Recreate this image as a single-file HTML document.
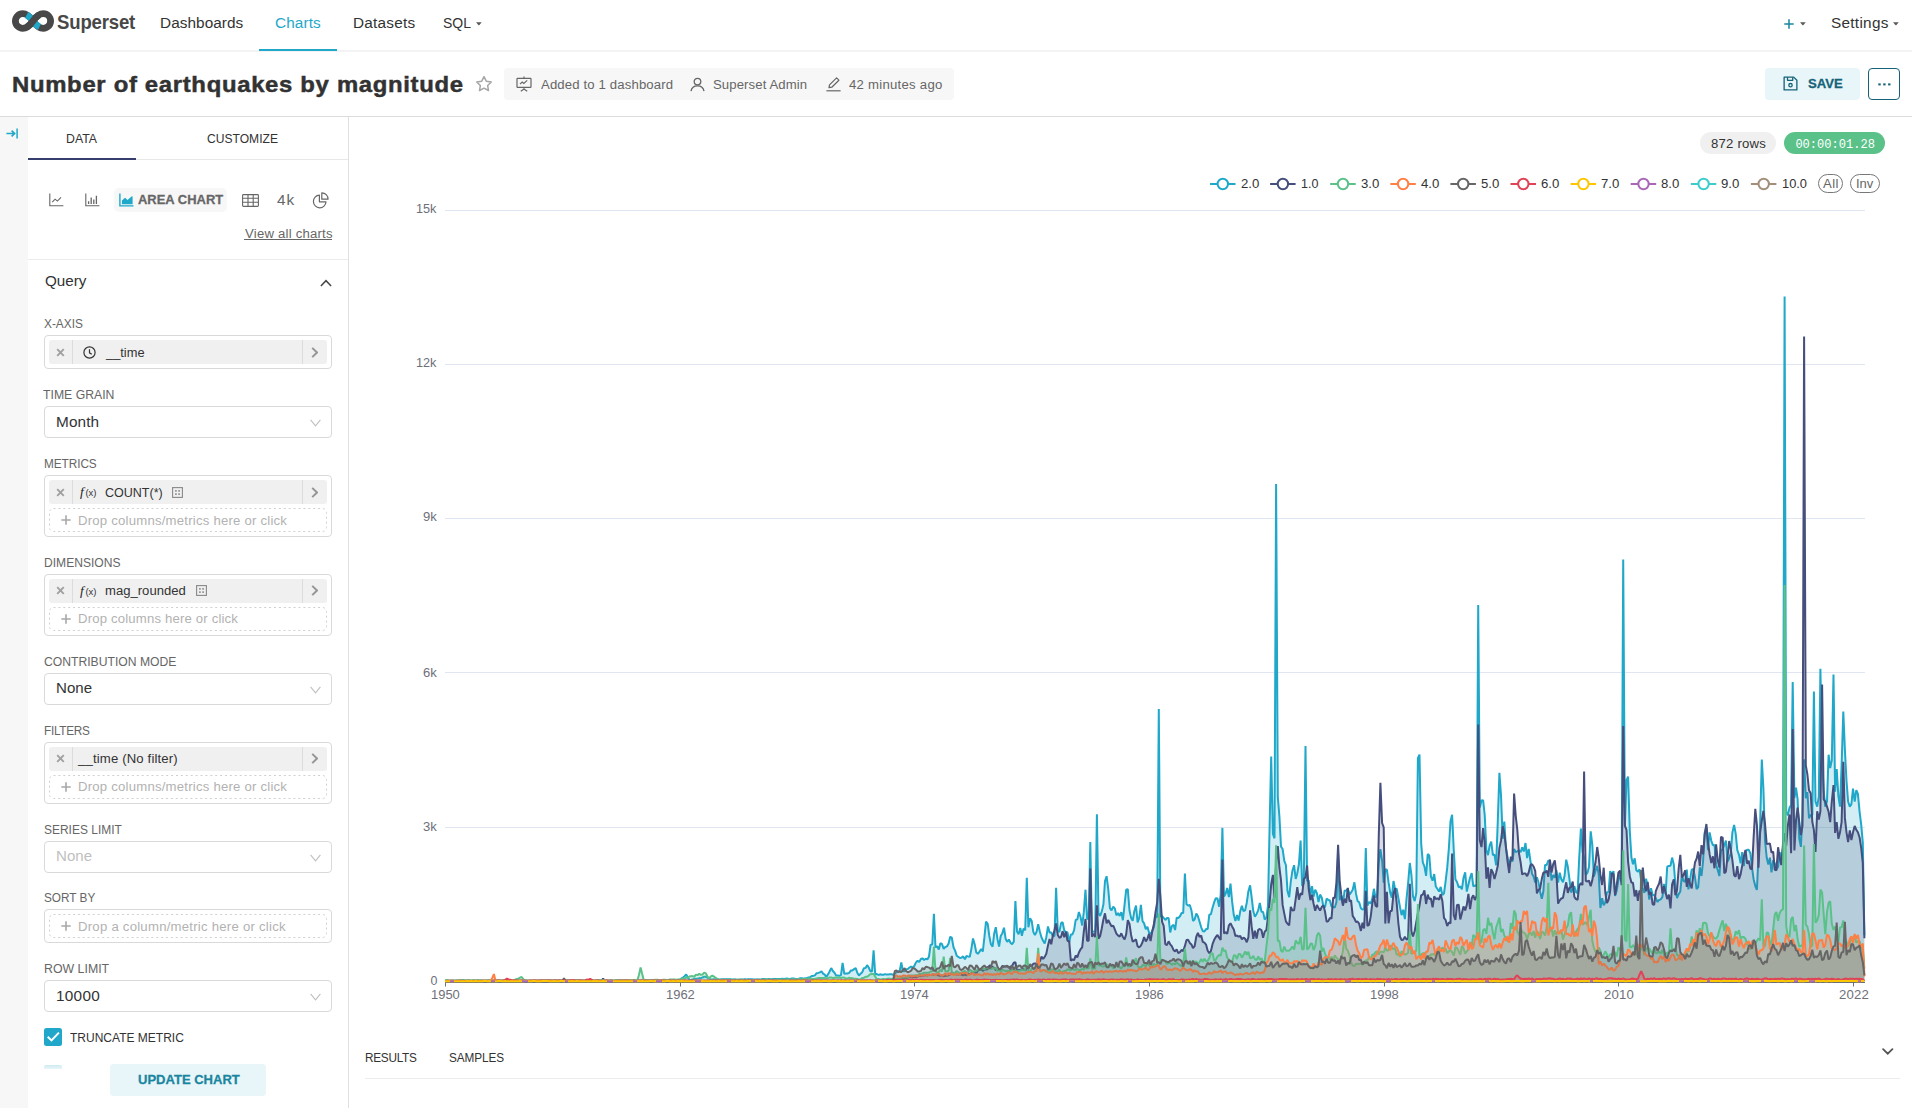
<!DOCTYPE html>
<html><head><meta charset="utf-8"><title>Explore</title>
<style>
*{box-sizing:border-box;margin:0;padding:0}
html,body{width:1912px;height:1108px;overflow:hidden;background:#fff}
body{font-family:"Liberation Sans",sans-serif;color:#333;position:relative;font-size:14px}
.abs{position:absolute}
.t{position:absolute;white-space:nowrap;line-height:1}
/* navbar */
#nav{position:absolute;left:0;top:0;width:1912px;height:52px;background:#fff;border-bottom:2px solid #f3f3f3}
.nv{position:absolute;top:14px;font-size:15.2px;color:#333;letter-spacing:.35px;white-space:nowrap;line-height:18px}
/* title row */
#hdr{position:absolute;left:0;top:52px;width:1912px;height:65px;border-bottom:1px solid #dcdcdc;background:#fff}
/* left */
#strip{position:absolute;left:0;top:117px;width:28px;height:991px;background:#f7f7f7}
#panel{position:absolute;left:28px;top:117px;width:321px;height:991px;border-right:1px solid #e0e0e0;background:#fff}
.lbl{position:absolute;left:44px;font-size:12.4px;color:#666;letter-spacing:.25px;white-space:nowrap;line-height:14px}
.box{position:absolute;left:44px;width:288px;border:1px solid #d9d9d9;border-radius:4px;background:#fff}
.pill{position:absolute;left:49px;width:278px;height:24px;background:#f0f0f0;border-radius:3px}
.pill .x{position:absolute;left:0;top:0;width:24px;height:24px;border-right:1px solid #dcdcdc}
.pill .ar{position:absolute;right:0;top:0;width:25px;height:24px;border-left:1px solid #dcdcdc}
.pill .tx{position:absolute;top:5px;font-size:12.6px;color:#333;letter-spacing:.3px;white-space:nowrap;line-height:14px}
.drop{position:absolute;left:49px;width:278px;height:24px;border:1px dashed #d4d4d4;border-radius:4px}
.drop .tx{position:absolute;left:28px;top:5px;font-size:12.6px;color:#b2b2b2;letter-spacing:.28px;white-space:nowrap;line-height:14px}
.sel .v{position:absolute;left:12px;top:7px;font-size:14.6px;color:#333;letter-spacing:.3px;line-height:17px;white-space:nowrap}
</style></head><body>
<div id="nav"></div>
<!-- logo -->
<svg class="abs" style="left:11.600px;top:10.100px" width="42" height="22" viewBox="0 0 42 22">
<path d="M21,11 C17.8,6.4 15,3.7 10.7,3.7 A7.3,7.3 0 1 0 10.7,18.3 C15,18.3 17.8,15.6 21,11 C24.2,6.4 27,3.7 31.3,3.7 A7.3,7.3 0 1 1 31.3,18.3 C27,18.3 24.2,15.6 21,11 Z" fill="none" stroke="#484848" stroke-width="6.800"/>
<path d="M14.6,4.9 C17.3,6.3 19.2,8.4 21,11 C22.8,13.6 24.7,15.7 27.4,17.1" fill="none" stroke="#20A7C9" stroke-width="6.800"/>
<path d="M15.2,16.8 C17.5,15.4 19.2,13.6 21,11 C22.8,8.4 24.5,6.6 26.8,5.2" fill="none" stroke="#484848" stroke-width="6.800"/>
</svg>
<div class="t" style="left:57px;top:11.050px;font-size:21px;line-height:22px;color:#484848;font-weight:700;letter-spacing:-.2px;transform:scaleX(.885);transform-origin:0 0">Superset</div>
<div class="abs" style="left:259px;top:48.700px;width:78px;height:2.200px;background:#1FA8C9"></div>
<svg class="abs" style="left:475.9px;top:22.100px" width="5.800" height="3.600" viewBox="0 0 7 4"><path d="M.4 0H6.600Q7 .1 6.700 .5L3.900 3.700Q3.500 4.100 3.100 3.700L.3 .5Q0 .1 .4 0Z" fill="#5a5a5a"/></svg>
<svg class="abs" style="left:1800.4px;top:22.100px" width="5.800" height="3.600" viewBox="0 0 7 4"><path d="M.4 0H6.600Q7 .1 6.700 .5L3.900 3.700Q3.500 4.100 3.100 3.700L.3 .5Q0 .1 .4 0Z" fill="#5a5a5a"/></svg>
<svg class="abs" style="left:1893.1px;top:22.100px" width="5.800" height="3.600" viewBox="0 0 7 4"><path d="M.4 0H6.600Q7 .1 6.700 .5L3.900 3.700Q3.500 4.100 3.100 3.700L.3 .5Q0 .1 .4 0Z" fill="#5a5a5a"/></svg>
<svg class="abs" style="left:1783.5px;top:18.5px" width="10" height="10" viewBox="0 0 10 10"><path d="M5 .3V9.7M.3 5H9.7" stroke="#1985A0" stroke-width="1.5"/></svg>

<div id="hdr"></div>
<!-- star -->
<svg class="abs" style="left:475px;top:74.900px" width="18" height="17" viewBox="0 0 18 17"><path d="M9 1.6l2.25 4.6 5.05.73-3.65 3.57.86 5.03L9 13.15 4.49 15.53l.86-5.03L1.7 6.93l5.05-.73z" fill="none" stroke="#a6a6a6" stroke-width="1.5" stroke-linejoin="round"/></svg>
<div class="abs" style="left:504px;top:68px;width:450px;height:32px;background:#f7f7f7;border-radius:4px"></div>
<!-- dashboard icon -->
<svg class="abs" style="left:516px;top:76px" width="16" height="16" viewBox="0 0 16 16" fill="none" stroke="#666" stroke-width="1.2"><path d="M8 .6V2.4"/><rect x="1" y="2.4" width="14" height="9" rx=".6"/><path d="M8 11.4V13M4.8 15.2L8 13l3.2 2.200M4 8.200l2.200-2.200 1.600 1.400 3.400-3"/></svg>
<!-- user -->
<svg class="abs" style="left:690px;top:77px" width="15" height="15" viewBox="0 0 15 15" fill="none" stroke="#666" stroke-width="1.3"><circle cx="7.500" cy="4.600" r="3.300"/><path d="M1 14.200c.6-3.600 3.300-5.400 6.500-5.400s5.900 1.800 6.500 5.400"/></svg>
<!-- pencil -->
<svg class="abs" style="left:825.5px;top:77px" width="15" height="15" viewBox="0 0 15 15" fill="none" stroke="#666" stroke-width="1.2"><path d="M.4 13.800H14.600"/><path d="M3 10.600l.5-2.700L10.600.900l2.300 2.300-7.100 7z" stroke-linejoin="round"/></svg>
<!-- save button -->
<div class="abs" style="left:1765px;top:68px;width:95px;height:32px;background:#e9f6f9;border-radius:4px"></div>
<svg class="abs" style="left:1783.400px;top:75.500px" width="15" height="15" viewBox="0 0 16 16" fill="none" stroke="#156378" stroke-width="1.4" stroke-linejoin="round"><path d="M1.2 1.200H11.400L14.800 4.600V14.800H1.200Z"/><path d="M4.800 1.400V4.600H10.400V1.400"/><circle cx="8" cy="9.800" r="1.800"/></svg>
<div class="abs" style="left:1868px;top:68px;width:32px;height:32px;border:1.5px solid #156378;border-radius:4px;background:#fff"></div>
<svg class="abs" style="left:1877.5px;top:82.5px" width="13" height="3" viewBox="0 0 13 3" fill="#156378"><rect x=".3" y=".4" width="2.400" height="2"/><rect x="5.200" y=".4" width="2.400" height="2"/><rect x="10.100" y=".4" width="2.400" height="2"/></svg>

<div id="strip"></div>
<div id="panel"></div>
<!-- collapse icon -->
<svg class="abs" style="left:5.500px;top:127.500px" width="13" height="11" viewBox="0 0 13 11" fill="none" stroke="#1FA8C9" stroke-width="1.300"><path d="M.4 5.500H8.400M5.600 2.600L8.600 5.500 5.600 8.400" stroke-width="1.700"/><path d="M11.100 .4V10.600" stroke-width="1.500"/></svg>
<!-- tabs -->
<div class="abs" style="left:28px;top:159px;width:320px;height:1px;background:#e8e8e8"></div>
<div class="abs" style="left:28px;top:158px;width:108px;height:2px;background:#363e6e"></div>
<!-- viz type row -->
<svg class="abs" style="left:48.500px;top:193px" width="15" height="14" viewBox="0 0 15 14" fill="none" stroke="#666" stroke-width="1.100"><path d="M.8 .6V12.800H14.400"/><path d="M3.200 9.200l2.900-3 2.300 1.900L12 4.300"/></svg>
<svg class="abs" style="left:84.500px;top:193px" width="15" height="14" viewBox="0 0 15 14" fill="none" stroke="#666" stroke-width="1.100"><path d="M.8 .6V12.800H14.400"/><path d="M3.600 11V8.200M6.200 11V4.400M8.800 11V6.400M11.400 11V2.800" stroke-width="1.300"/></svg>
<div class="abs" style="left:114px;top:188px;width:113px;height:24px;background:#f7f7f7;border-radius:5px"></div>
<svg class="abs" style="left:118.500px;top:193px" width="15" height="14" viewBox="0 0 15 14"><path d="M.9 .5V12.900H14.500" fill="none" stroke="#1FA8C9" stroke-width="1.400"/><path d="M2.900 11.200V7.400L6 4.800l2.600 2.300 4.200-3.900.8.300v7.700z" fill="#1FA8C9"/></svg>
<svg class="abs" style="left:241.500px;top:193.500px" width="17" height="13" viewBox="0 0 17 13" fill="none" stroke="#666" stroke-width="1.100"><rect x=".6" y=".6" width="15.800" height="11.800" rx=".8"/><path d="M.6 4.200H16.400M.6 8.200H16.400M6 .6V12.400M11.200 .6V12.400"/></svg>
<svg class="abs" style="left:312px;top:192px" width="17" height="17" viewBox="0 0 17 17" fill="none" stroke="#666" stroke-width="1.200"><path d="M7.400 3.200A6.300 6.300 0 1 0 14 9.800H7.400Z" stroke-linejoin="round"/><path d="M9.800 .8A6.200 6.200 0 0 1 16 7.200H9.800Z" stroke-linejoin="round"/></svg>
<div class="abs" style="left:244px;top:239px;width:88px;height:1px;background:#666"></div>
<div class="abs" style="left:28px;top:259px;width:320px;height:1px;background:#ececec"></div>
<!-- Query chevron -->
<svg class="abs" style="left:319.500px;top:278.500px" width="12" height="8" viewBox="0 0 12 8" fill="none" stroke="#444" stroke-width="1.500"><path d="M.9 7L6 1.700 11.100 7"/></svg>

<!-- X-AXIS -->
<div class="box" style="top:335px;height:34px"></div>
<div class="pill" style="top:340px"><div class="x"></div><div class="ar"></div></div>
<svg class="abs" style="left:82.500px;top:346px" width="13" height="13" viewBox="0 0 13 13" fill="none" stroke="#333" stroke-width="1.200"><circle cx="6.500" cy="6.500" r="5.600"/><path d="M6.500 3.200V6.800L8.800 8.200"/></svg>
<!-- TIME GRAIN -->
<div class="box" style="top:406px;height:32px"></div>
<!-- METRICS -->
<div class="box" style="top:475px;height:62px"></div>
<div class="pill" style="top:480px"><div class="x"></div><div class="ar"></div></div>
<svg class="abs" style="left:49px;top:508px" width="278" height="24" viewBox="0 0 278 24"><rect x=".5" y=".5" width="277" height="23" rx="4" fill="none" stroke="#d0d0d0" stroke-dasharray="2 2.900"/></svg>
<!-- DIMENSIONS -->
<div class="box" style="top:574px;height:62px"></div>
<div class="pill" style="top:579px"><div class="x"></div><div class="ar"></div></div>
<svg class="abs" style="left:49px;top:607px" width="278" height="24" viewBox="0 0 278 24"><rect x=".5" y=".5" width="277" height="23" rx="4" fill="none" stroke="#d0d0d0" stroke-dasharray="2 2.900"/></svg>
<!-- CONTRIB -->
<div class="box" style="top:673px;height:32px"></div>
<!-- FILTERS -->
<div class="box" style="top:742px;height:62px"></div>
<div class="pill" style="top:747px"><div class="x"></div><div class="ar"></div></div>
<svg class="abs" style="left:49px;top:775px" width="278" height="24" viewBox="0 0 278 24"><rect x=".5" y=".5" width="277" height="23" rx="4" fill="none" stroke="#d0d0d0" stroke-dasharray="2 2.900"/></svg>
<!-- SERIES LIMIT -->
<div class="box" style="top:841px;height:32px"></div>
<!-- SORT BY -->
<div class="box" style="top:909px;height:34px"></div>
<svg class="abs" style="left:49px;top:914px" width="278" height="24" viewBox="0 0 278 24"><rect x=".5" y=".5" width="277" height="23" rx="4" fill="none" stroke="#d0d0d0" stroke-dasharray="2 2.900"/></svg>
<!-- ROW LIMIT -->
<div class="box" style="top:980px;height:32px"></div>
<!-- checkbox -->
<div class="abs" style="left:44px;top:1028px;width:18px;height:18px;background:#20A7C9;border-radius:2.500px"></div>
<svg class="abs" style="left:44px;top:1028px" width="18" height="18" viewBox="0 0 18 18" fill="none" stroke="#fff" stroke-width="2"><path d="M3.700 8.700L7.500 12.400 14.900 4.600"/></svg>
<div class="abs" style="left:44px;top:1065px;width:18px;height:4px;background:linear-gradient(#cdeaf2,#eaf6fa);border-radius:2px 2px 0 0"></div>
<div class="abs" style="left:110px;top:1064px;width:156px;height:32px;background:#e9f6f9;border-radius:4px"></div>

<svg class="abs" style="left:56px;top:347.5px" width="9" height="9" viewBox="0 0 9 9" fill="none" stroke="#a0a0a0" stroke-width="1.900"><path d="M1.200 1.200L7.800 7.800M7.800 1.200L1.200 7.800"/></svg>
<svg class="abs" style="left:311px;top:346.5px" width="7" height="11" viewBox="0 0 7 11" fill="none" stroke="#959595" stroke-width="2"><path d="M1.200 .9L6 5.500 1.200 10.100"/></svg>
<svg class="abs" style="left:56px;top:487.5px" width="9" height="9" viewBox="0 0 9 9" fill="none" stroke="#a0a0a0" stroke-width="1.900"><path d="M1.200 1.200L7.800 7.800M7.800 1.200L1.200 7.800"/></svg>
<svg class="abs" style="left:311px;top:486.5px" width="7" height="11" viewBox="0 0 7 11" fill="none" stroke="#959595" stroke-width="2"><path d="M1.200 .9L6 5.500 1.200 10.100"/></svg>
<svg class="abs" style="left:56px;top:586.0px" width="9" height="9" viewBox="0 0 9 9" fill="none" stroke="#a0a0a0" stroke-width="1.900"><path d="M1.200 1.200L7.800 7.800M7.800 1.200L1.200 7.800"/></svg>
<svg class="abs" style="left:311px;top:585.0px" width="7" height="11" viewBox="0 0 7 11" fill="none" stroke="#959595" stroke-width="2"><path d="M1.200 .9L6 5.500 1.200 10.100"/></svg>
<svg class="abs" style="left:56px;top:754.0px" width="9" height="9" viewBox="0 0 9 9" fill="none" stroke="#a0a0a0" stroke-width="1.900"><path d="M1.200 1.200L7.800 7.800M7.800 1.200L1.200 7.800"/></svg>
<svg class="abs" style="left:311px;top:753.0px" width="7" height="11" viewBox="0 0 7 11" fill="none" stroke="#959595" stroke-width="2"><path d="M1.200 .9L6 5.500 1.200 10.100"/></svg>
<svg class="abs" style="left:61px;top:515.0px" width="10" height="10" viewBox="0 0 10 10" fill="none" stroke="#a8a8a8" stroke-width="1.600"><path d="M5 .3V9.700M.3 5H9.700"/></svg>
<svg class="abs" style="left:61px;top:614.0px" width="10" height="10" viewBox="0 0 10 10" fill="none" stroke="#a8a8a8" stroke-width="1.600"><path d="M5 .3V9.700M.3 5H9.700"/></svg>
<svg class="abs" style="left:61px;top:782.0px" width="10" height="10" viewBox="0 0 10 10" fill="none" stroke="#a8a8a8" stroke-width="1.600"><path d="M5 .3V9.700M.3 5H9.700"/></svg>
<svg class="abs" style="left:61px;top:921.0px" width="10" height="10" viewBox="0 0 10 10" fill="none" stroke="#a8a8a8" stroke-width="1.600"><path d="M5 .3V9.700M.3 5H9.700"/></svg>
<div class="t" style="left:80px;top:484.3px;font-family:'Liberation Serif',serif;font-style:italic;font-size:13.500px;line-height:15px;color:#222">f</div><div class="t" style="left:85.500px;top:488.2px;font-size:9.500px;line-height:10px;color:#333;letter-spacing:-.1px">(x)</div>
<div class="t" style="left:80px;top:582.8px;font-family:'Liberation Serif',serif;font-style:italic;font-size:13.500px;line-height:15px;color:#222">f</div><div class="t" style="left:85.500px;top:586.7px;font-size:9.500px;line-height:10px;color:#333;letter-spacing:-.1px">(x)</div>
<svg class="abs" style="left:171.5px;top:486.5px" width="11" height="11" viewBox="0 0 11 11"><rect x=".6" y=".6" width="9.800" height="9.800" fill="none" stroke="#888" stroke-width="1.100"/><path d="M3 3h1.800v1.800H3zM6.200 3H8v1.800H6.200zM3 6.200h1.800V8H3zM6.200 6.200H8V8H6.200z" fill="#999"/></svg>
<svg class="abs" style="left:195.7px;top:585.0px" width="11" height="11" viewBox="0 0 11 11"><rect x=".6" y=".6" width="9.800" height="9.800" fill="none" stroke="#888" stroke-width="1.100"/><path d="M3 3h1.800v1.800H3zM6.200 3H8v1.800H6.200zM3 6.200h1.800V8H3zM6.200 6.200H8V8H6.200z" fill="#999"/></svg>
<svg class="abs" style="left:309.500px;top:419.0px" width="11" height="8" viewBox="0 0 11 8" fill="none" stroke="#bfbfbf" stroke-width="1.100"><path d="M.6 .8L5.500 6.800 10.400 .8"/></svg>
<svg class="abs" style="left:309.500px;top:686.0px" width="11" height="8" viewBox="0 0 11 8" fill="none" stroke="#bfbfbf" stroke-width="1.100"><path d="M.6 .8L5.500 6.800 10.400 .8"/></svg>
<svg class="abs" style="left:309.500px;top:854.0px" width="11" height="8" viewBox="0 0 11 8" fill="none" stroke="#bfbfbf" stroke-width="1.100"><path d="M.6 .8L5.500 6.800 10.400 .8"/></svg>
<svg class="abs" style="left:309.500px;top:993.0px" width="11" height="8" viewBox="0 0 11 8" fill="none" stroke="#bfbfbf" stroke-width="1.100"><path d="M.6 .8L5.500 6.800 10.400 .8"/></svg>
<!-- chart area -->
<div class="abs" style="left:1700px;top:132px;width:76px;height:22px;background:#f0f0f0;border-radius:11px"></div>
<div class="abs" style="left:1784px;top:132px;width:101px;height:22px;background:#5AC189;border-radius:11px"></div>
<svg class="abs" style="left:0;top:0" width="1912" height="1108" viewBox="0 0 1912 1108">
<path d="M445 210.5 H1865" stroke="#e0e6f1" stroke-width="1" fill="none"/>
<path d="M445 364.5 H1865" stroke="#e0e6f1" stroke-width="1" fill="none"/>
<path d="M445 518.5 H1865" stroke="#e0e6f1" stroke-width="1" fill="none"/>
<path d="M445 672.5 H1865" stroke="#e0e6f1" stroke-width="1" fill="none"/>
<path d="M445 827.5 H1865" stroke="#e0e6f1" stroke-width="1" fill="none"/>
<path d="M445 982.5 H1865" stroke="#6e7079" stroke-width="1" fill="none"/>
<path d="M445.5 982 V986.500" stroke="#6e7079" stroke-width="1" fill="none"/>
<path d="M680.5 982 V986.500" stroke="#6e7079" stroke-width="1" fill="none"/>
<path d="M914.5 982 V986.500" stroke="#6e7079" stroke-width="1" fill="none"/>
<path d="M1149.5 982 V986.500" stroke="#6e7079" stroke-width="1" fill="none"/>
<path d="M1384.5 982 V986.500" stroke="#6e7079" stroke-width="1" fill="none"/>
<path d="M1618.5 982 V986.500" stroke="#6e7079" stroke-width="1" fill="none"/>
<path d="M1853.5 982 V986.500" stroke="#6e7079" stroke-width="1" fill="none"/>
<g stroke-linejoin="bevel" fill="none" stroke-width="2">
<path d="M445.0,980.7L446.6,980.8L448.3,980.7L449.9,980.8L451.5,980.7L453.1,980.7L454.8,980.8L456.4,980.7L458.0,980.8L459.7,980.7L461.3,980.8L462.9,980.8L464.6,980.7L466.2,980.6L467.8,980.8L469.4,980.7L471.1,980.7L472.7,980.6L474.3,980.7L476.0,980.7L477.6,980.6L479.2,980.8L480.9,980.6L482.5,980.7L484.1,980.7L485.7,980.7L487.4,980.7L489.0,980.6L490.6,980.7L492.3,980.7L493.9,980.6L495.5,980.7L497.1,980.7L498.8,980.7L500.4,980.7L502.0,980.7L503.7,980.6L505.3,980.7L506.9,980.7L508.6,980.6L510.2,980.7L511.8,980.7L513.4,980.6L515.1,980.6L516.7,980.7L518.3,980.6L520.0,980.6L521.6,980.6L523.2,980.6L524.9,980.7L526.5,980.5L528.1,980.7L529.7,980.6L531.4,980.6L533.0,980.7L534.6,980.6L536.3,980.7L537.9,980.6L539.5,980.6L541.2,980.6L542.8,980.5L544.4,980.6L546.0,980.6L547.7,980.6L549.3,980.6L550.9,980.6L552.6,980.5L554.2,980.5L555.8,980.6L557.4,980.5L559.1,980.7L560.7,980.5L562.3,980.5L564.0,980.5L565.6,980.5L567.2,980.6L568.9,980.6L570.5,980.5L572.1,980.7L573.7,980.6L575.4,980.6L577.0,980.6L578.6,980.6L580.3,980.5L581.9,980.6L583.5,980.6L585.2,980.6L586.8,980.5L588.4,980.6L590.0,980.5L591.7,980.5L593.3,980.5L594.9,980.5L596.6,980.5L598.2,980.6L599.8,980.5L601.4,980.6L603.1,980.4L604.7,980.4L606.3,980.6L608.0,980.6L609.6,980.6L611.2,980.6L612.9,980.5L614.5,980.5L616.1,980.6L617.7,980.6L619.4,980.5L621.0,980.5L622.6,980.5L624.3,980.4L625.9,980.4L627.5,980.5L629.2,980.5L630.8,980.4L632.4,980.6L634.0,980.4L635.7,980.4L637.3,980.4L638.9,980.4L640.6,980.5L642.2,980.5L643.8,980.5L645.4,980.4L647.1,980.5L648.7,980.5L650.3,980.4L652.0,980.4L653.6,980.3L655.2,980.4L656.9,980.4L658.5,980.3L660.1,980.3L661.7,980.2L663.4,980.3L665.0,980.0L666.6,980.1L668.3,980.2L669.9,980.2L671.5,980.1L673.2,980.1L674.8,980.1L676.4,979.9L678.0,979.8L679.7,980.0L681.3,978.6L682.9,977.5L684.6,976.2L686.2,974.4L687.8,977.4L689.5,979.9L691.1,979.8L692.7,979.6L694.3,978.8L696.0,978.7L697.6,978.7L699.2,978.1L700.9,978.2L702.5,977.5L704.1,976.7L705.7,976.7L707.4,977.6L709.0,978.7L710.6,979.5L712.3,979.6L713.9,979.3L715.5,979.4L717.2,979.3L718.8,979.5L720.4,979.6L722.0,979.3L723.7,979.2L725.3,979.3L726.9,979.3L728.6,979.3L730.2,979.3L731.8,979.6L733.5,979.4L735.1,979.5L736.7,979.7L738.3,979.7L740.0,979.5L741.6,979.6L743.2,979.4L744.9,979.2L746.5,979.5L748.1,979.2L749.7,979.2L751.4,979.2L753.0,979.5L754.6,979.6L756.3,979.6L757.9,979.5L759.5,979.5L761.2,979.3L762.8,979.1L764.4,979.1L766.0,979.3L767.7,979.2L769.3,979.1L770.9,979.4L772.6,979.1L774.2,978.9L775.8,978.9L777.5,978.9L779.1,979.0L780.7,979.1L782.3,978.8L784.0,979.0L785.6,978.7L787.2,978.5L788.9,978.9L790.5,978.8L792.1,978.4L793.7,978.5L795.4,978.9L797.0,978.9L798.6,978.8L800.3,978.3L801.9,978.3L803.5,978.7L805.2,978.2L806.8,978.3L808.4,977.5L810.0,977.1L811.7,976.1L813.3,975.9L814.9,975.4L816.6,973.2L818.2,972.9L819.8,972.4L821.5,971.4L823.1,973.6L824.7,974.6L826.3,976.8L828.0,974.4L829.6,971.5L831.2,968.1L832.9,971.0L834.5,972.7L836.1,975.4L837.7,975.4L839.4,975.8L841.0,975.1L842.6,962.9L844.3,973.8L845.9,973.6L847.5,973.5L849.2,972.8L850.8,970.6L852.4,970.4L854.0,969.2L855.7,968.1L857.3,972.8L858.9,975.4L860.6,973.8L862.2,972.3L863.8,968.3L865.5,968.1L867.1,965.1L868.7,967.5L870.3,971.2L872.0,971.4L873.6,950.3L875.2,974.3L876.9,974.1L878.5,975.0L880.1,974.3L881.8,974.8L883.4,974.8L885.0,974.1L886.6,974.6L888.3,974.6L889.9,974.3L891.5,974.2L893.2,974.8L894.8,973.4L896.4,972.4L898.0,971.2L899.7,971.1L901.3,962.5L902.9,971.2L904.6,971.2L906.2,969.3L907.8,969.0L909.5,967.6L911.1,966.5L912.7,967.7L914.3,966.0L916.0,962.4L917.6,960.8L919.2,962.0L920.9,959.0L922.5,958.3L924.1,960.0L925.8,958.8L927.4,959.4L929.0,956.5L930.6,944.7L932.3,944.4L933.9,913.7L935.5,947.5L937.2,946.2L938.8,949.5L940.4,943.2L942.0,944.2L943.7,948.9L945.3,946.9L946.9,946.6L948.6,943.5L950.2,936.8L951.8,937.7L953.5,947.2L955.1,950.6L956.7,955.8L958.3,956.9L960.0,958.0L961.6,957.6L963.2,956.4L964.9,959.2L966.5,956.0L968.1,956.4L969.8,956.7L971.4,948.6L973.0,938.4L974.6,944.0L976.3,952.5L977.9,953.8L979.5,951.6L981.2,949.0L982.8,951.6L984.4,937.4L986.0,921.5L987.7,923.9L989.3,936.0L990.9,944.2L992.6,946.7L994.2,933.5L995.8,927.2L997.5,939.4L999.1,946.5L1000.7,936.0L1002.3,933.4L1004.0,927.7L1005.6,938.7L1007.2,941.8L1008.9,939.5L1010.5,942.7L1012.1,944.2L1013.8,941.6L1015.4,901.0L1017.0,931.5L1018.6,934.2L1020.3,927.9L1021.9,935.7L1023.5,928.6L1025.2,930.2L1026.8,877.9L1028.4,927.3L1030.1,918.2L1031.7,920.9L1033.3,931.9L1034.9,935.1L1036.6,931.8L1038.2,924.1L1039.8,931.5L1041.5,937.5L1043.1,940.7L1044.7,943.5L1046.3,937.2L1048.0,926.4L1049.6,932.4L1051.2,932.6L1052.9,936.4L1054.5,935.8L1056.1,887.9L1057.8,931.1L1059.4,932.0L1061.0,923.4L1062.6,922.1L1064.3,930.8L1065.9,932.1L1067.5,932.3L1069.2,942.6L1070.8,934.5L1072.4,934.5L1074.1,930.1L1075.7,919.8L1077.3,919.6L1078.9,912.0L1080.6,917.2L1082.2,925.5L1083.8,912.2L1085.5,889.7L1087.1,918.8L1088.7,919.1L1090.3,842.1L1092.0,930.7L1093.6,931.8L1095.2,931.5L1096.9,814.3L1098.5,913.4L1100.1,915.9L1101.8,911.4L1103.4,904.6L1105.0,881.0L1106.6,876.2L1108.3,889.7L1109.9,908.2L1111.5,910.4L1113.2,906.6L1114.8,908.4L1116.4,915.4L1118.1,913.1L1119.7,915.9L1121.3,912.1L1122.9,920.2L1124.6,904.3L1126.2,889.7L1127.8,889.1L1129.5,910.5L1131.1,917.9L1132.7,920.8L1134.3,911.2L1136.0,905.5L1137.6,922.3L1139.2,918.1L1140.9,904.8L1142.5,921.0L1144.1,923.4L1145.8,929.1L1147.4,926.7L1149.0,932.5L1150.6,934.1L1152.3,930.8L1153.9,927.0L1155.5,916.8L1157.2,917.1L1158.8,708.9L1160.4,916.4L1162.1,916.1L1163.7,918.0L1165.3,920.0L1166.9,918.1L1168.6,918.0L1170.2,932.5L1171.8,926.2L1173.5,924.8L1175.1,930.0L1176.7,917.7L1178.3,917.9L1180.0,916.3L1181.6,913.0L1183.2,913.0L1184.9,873.5L1186.5,904.2L1188.1,905.6L1189.8,905.0L1191.4,910.2L1193.0,920.9L1194.6,919.5L1196.3,913.5L1197.9,916.3L1199.5,921.5L1201.2,927.3L1202.8,931.2L1204.4,931.4L1206.1,929.1L1207.7,928.9L1209.3,914.7L1210.9,914.3L1212.6,907.5L1214.2,902.2L1215.8,898.1L1217.5,898.5L1219.1,906.7L1220.7,894.7L1222.4,827.9L1224.0,896.6L1225.6,893.8L1227.2,888.0L1228.9,897.1L1230.5,883.6L1232.1,901.4L1233.8,915.1L1235.4,920.9L1237.0,914.9L1238.6,920.6L1240.3,911.1L1241.9,905.7L1243.5,911.3L1245.2,910.1L1246.8,902.5L1248.4,891.2L1250.1,885.4L1251.7,897.6L1253.3,911.3L1254.9,916.8L1256.6,913.9L1258.2,910.4L1259.8,902.9L1261.5,911.8L1263.1,911.9L1264.7,919.6L1266.4,917.6L1268.0,905.7L1269.6,826.4L1271.2,756.5L1272.9,834.0L1274.5,838.3L1276.1,483.9L1277.8,796.8L1279.4,816.4L1281.0,846.4L1282.6,849.0L1284.3,860.9L1285.9,865.0L1287.5,891.1L1289.2,897.2L1290.8,881.3L1292.4,870.8L1294.1,865.2L1295.7,879.0L1297.3,873.3L1298.9,864.3L1300.6,840.5L1302.2,886.0L1303.8,883.2L1305.5,746.0L1307.1,881.0L1308.7,880.4L1310.4,895.6L1312.0,886.1L1313.6,896.6L1315.2,889.6L1316.9,893.1L1318.5,902.0L1320.1,894.6L1321.8,897.7L1323.4,906.6L1325.0,907.3L1326.6,898.7L1328.3,899.8L1329.9,900.5L1331.5,906.5L1333.2,907.0L1334.8,907.5L1336.4,902.3L1338.1,853.9L1339.7,900.2L1341.3,895.8L1342.9,904.1L1344.6,890.5L1346.2,890.9L1347.8,888.7L1349.5,894.8L1351.1,892.4L1352.7,889.7L1354.4,882.3L1356.0,893.7L1357.6,901.1L1359.2,902.2L1360.9,908.2L1362.5,909.5L1364.1,909.2L1365.8,848.0L1367.4,905.6L1369.0,901.8L1370.7,903.7L1372.3,898.6L1373.9,888.8L1375.5,897.6L1377.2,894.9L1378.8,862.7L1380.4,849.1L1382.1,860.6L1383.7,882.8L1385.3,869.3L1386.9,869.8L1388.6,882.7L1390.2,892.6L1391.8,897.6L1393.5,881.0L1395.1,889.2L1396.7,888.8L1398.4,898.3L1400.0,907.2L1401.6,915.1L1403.2,909.8L1404.9,919.1L1406.5,899.0L1408.1,883.3L1409.8,863.0L1411.4,874.8L1413.0,896.2L1414.7,901.1L1416.3,893.0L1417.9,758.1L1419.5,754.6L1421.2,843.8L1422.8,862.3L1424.4,866.3L1426.1,875.9L1427.7,854.0L1429.3,855.5L1430.9,876.5L1432.6,880.7L1434.2,874.1L1435.8,886.5L1437.5,889.0L1439.1,891.6L1440.7,886.9L1442.4,895.1L1444.0,893.3L1445.6,881.3L1447.2,867.9L1448.9,847.8L1450.5,821.3L1452.1,814.8L1453.8,850.8L1455.4,879.3L1457.0,882.0L1458.7,887.3L1460.3,886.4L1461.9,889.3L1463.5,877.9L1465.2,872.3L1466.8,891.6L1468.4,884.6L1470.1,877.5L1471.7,873.1L1473.3,886.3L1474.9,885.5L1476.6,885.7L1478.2,605.0L1479.8,807.4L1481.5,800.5L1483.1,800.1L1484.7,814.8L1486.4,850.3L1488.0,855.1L1489.6,845.6L1491.2,841.7L1492.9,855.0L1494.5,854.6L1496.1,865.3L1497.8,820.7L1499.4,772.9L1501.0,795.3L1502.7,838.8L1504.3,821.6L1505.9,847.9L1507.5,856.8L1509.2,865.9L1510.8,859.2L1512.4,861.5L1514.1,848.9L1515.7,852.0L1517.3,851.4L1519.0,850.3L1520.6,852.1L1522.2,847.3L1523.8,851.5L1525.5,843.0L1527.1,858.1L1528.7,848.8L1530.4,860.7L1532.0,873.8L1533.6,876.6L1535.2,882.6L1536.9,877.3L1538.5,882.3L1540.1,891.7L1541.8,898.8L1543.4,891.3L1545.0,865.0L1546.7,864.9L1548.3,860.7L1549.9,860.6L1551.5,880.5L1553.2,875.1L1554.8,877.8L1556.4,870.1L1558.1,882.7L1559.7,872.7L1561.3,879.2L1563.0,882.2L1564.6,875.6L1566.2,859.7L1567.8,866.6L1569.5,879.7L1571.1,892.5L1572.7,888.9L1574.4,886.3L1576.0,892.2L1577.6,893.2L1579.2,858.0L1580.9,828.5L1582.5,851.5L1584.1,857.5L1585.8,874.8L1587.4,872.9L1589.0,866.8L1590.7,831.3L1592.3,844.8L1593.9,876.7L1595.5,870.8L1597.2,865.9L1598.8,875.1L1600.4,908.0L1602.1,898.2L1603.7,905.3L1605.3,902.4L1607.0,892.3L1608.6,891.9L1610.2,871.2L1611.8,874.9L1613.5,871.1L1615.1,895.9L1616.7,890.6L1618.4,880.2L1620.0,875.1L1621.6,881.4L1623.2,559.6L1624.9,825.6L1626.5,780.3L1628.1,776.6L1629.8,831.2L1631.4,857.3L1633.0,864.2L1634.7,858.4L1636.3,870.3L1637.9,871.6L1639.5,869.3L1641.2,880.5L1642.8,888.7L1644.4,892.9L1646.1,878.6L1647.7,887.2L1649.3,899.6L1651.0,888.2L1652.6,895.1L1654.2,894.9L1655.8,898.1L1657.5,902.0L1659.1,899.9L1660.7,899.5L1662.4,896.9L1664.0,883.9L1665.6,894.1L1667.2,866.7L1668.9,865.9L1670.5,865.7L1672.1,857.6L1673.8,864.5L1675.4,884.3L1677.0,898.1L1678.7,894.2L1680.3,891.5L1681.9,874.8L1683.5,881.1L1685.2,881.7L1686.8,869.6L1688.4,889.3L1690.1,879.3L1691.7,869.7L1693.3,869.0L1695.0,877.3L1696.6,889.2L1698.2,887.1L1699.8,867.3L1701.5,876.0L1703.1,861.0L1704.7,832.4L1706.4,827.6L1708.0,850.1L1709.6,832.4L1711.3,840.8L1712.9,845.2L1714.5,845.0L1716.1,864.7L1717.8,870.3L1719.4,876.1L1721.0,851.1L1722.7,848.8L1724.3,845.2L1725.9,840.5L1727.5,861.8L1729.2,858.0L1730.8,853.2L1732.4,832.4L1734.1,825.0L1735.7,833.6L1737.3,850.2L1739.0,854.9L1740.6,863.3L1742.2,852.1L1743.8,866.1L1745.5,851.7L1747.1,849.8L1748.7,849.7L1750.4,853.4L1752.0,867.4L1753.6,879.2L1755.3,886.0L1756.9,889.9L1758.5,855.4L1760.1,824.8L1761.8,759.6L1763.4,788.3L1765.0,840.3L1766.7,857.5L1768.3,864.6L1769.9,857.6L1771.5,872.4L1773.2,860.2L1774.8,863.4L1776.4,869.4L1778.1,866.9L1779.7,852.1L1781.3,859.6L1783.0,847.8L1784.6,296.5L1786.2,812.5L1787.8,815.2L1789.5,807.7L1791.1,805.0L1792.7,682.1L1794.4,798.0L1796.0,787.7L1797.6,799.2L1799.3,838.9L1800.9,846.9L1802.5,813.3L1804.1,759.2L1805.8,798.2L1807.4,792.1L1809.0,818.2L1810.7,815.1L1812.3,815.1L1813.9,691.6L1815.5,801.5L1817.2,806.6L1818.8,796.3L1820.4,668.8L1822.1,760.3L1823.7,791.2L1825.3,806.6L1827.0,801.5L1828.6,754.7L1830.2,768.1L1831.8,760.3L1833.5,674.6L1835.1,791.7L1836.7,769.1L1838.4,796.3L1840.0,806.6L1841.6,765.5L1843.3,711.5L1844.9,750.0L1846.5,780.9L1848.1,801.5L1849.8,806.6L1851.4,804.1L1853.0,788.6L1854.7,801.5L1856.3,790.2L1857.9,793.8L1859.6,811.8L1861.2,824.6L1862.8,842.6L1864.4,935.2L1864.4,981.5L445.0,981.5Z" fill="#1FA8C9" fill-opacity="0.2" stroke="none"/>
<path d="M445.0,980.7L446.6,980.8L448.3,980.7L449.9,980.8L451.5,980.7L453.1,980.7L454.8,980.8L456.4,980.7L458.0,980.8L459.7,980.7L461.3,980.8L462.9,980.8L464.6,980.7L466.2,980.6L467.8,980.8L469.4,980.7L471.1,980.7L472.7,980.6L474.3,980.7L476.0,980.7L477.6,980.6L479.2,980.8L480.9,980.6L482.5,980.7L484.1,980.7L485.7,980.7L487.4,980.7L489.0,980.6L490.6,980.7L492.3,980.7L493.9,980.6L495.5,980.7L497.1,980.7L498.8,980.7L500.4,980.7L502.0,980.7L503.7,980.6L505.3,980.7L506.9,980.7L508.6,980.6L510.2,980.7L511.8,980.7L513.4,980.6L515.1,980.6L516.7,980.7L518.3,980.6L520.0,980.6L521.6,980.6L523.2,980.6L524.9,980.7L526.5,980.5L528.1,980.7L529.7,980.6L531.4,980.6L533.0,980.7L534.6,980.6L536.3,980.7L537.9,980.6L539.5,980.6L541.2,980.6L542.8,980.5L544.4,980.6L546.0,980.6L547.7,980.6L549.3,980.6L550.9,980.6L552.6,980.5L554.2,980.5L555.8,980.6L557.4,980.5L559.1,980.7L560.7,980.5L562.3,980.5L564.0,980.5L565.6,980.5L567.2,980.6L568.9,980.6L570.5,980.5L572.1,980.7L573.7,980.6L575.4,980.6L577.0,980.6L578.6,980.6L580.3,980.5L581.9,980.6L583.5,980.6L585.2,980.6L586.8,980.5L588.4,980.6L590.0,980.5L591.7,980.5L593.3,980.5L594.9,980.5L596.6,980.5L598.2,980.6L599.8,980.5L601.4,980.6L603.1,980.4L604.7,980.4L606.3,980.6L608.0,980.6L609.6,980.6L611.2,980.6L612.9,980.5L614.5,980.5L616.1,980.6L617.7,980.6L619.4,980.5L621.0,980.5L622.6,980.5L624.3,980.4L625.9,980.4L627.5,980.5L629.2,980.5L630.8,980.4L632.4,980.6L634.0,980.4L635.7,980.4L637.3,980.4L638.9,980.4L640.6,980.5L642.2,980.5L643.8,980.5L645.4,980.4L647.1,980.5L648.7,980.5L650.3,980.4L652.0,980.4L653.6,980.3L655.2,980.4L656.9,980.4L658.5,980.3L660.1,980.3L661.7,980.2L663.4,980.3L665.0,980.0L666.6,980.1L668.3,980.2L669.9,980.2L671.5,980.1L673.2,980.1L674.8,980.1L676.4,979.9L678.0,979.8L679.7,980.0L681.3,978.6L682.9,977.5L684.6,976.2L686.2,974.4L687.8,977.4L689.5,979.9L691.1,979.8L692.7,979.6L694.3,978.8L696.0,978.7L697.6,978.7L699.2,978.1L700.9,978.2L702.5,977.5L704.1,976.7L705.7,976.7L707.4,977.6L709.0,978.7L710.6,979.5L712.3,979.6L713.9,979.3L715.5,979.4L717.2,979.3L718.8,979.5L720.4,979.6L722.0,979.3L723.7,979.2L725.3,979.3L726.9,979.3L728.6,979.3L730.2,979.3L731.8,979.6L733.5,979.4L735.1,979.5L736.7,979.7L738.3,979.7L740.0,979.5L741.6,979.6L743.2,979.4L744.9,979.2L746.5,979.5L748.1,979.2L749.7,979.2L751.4,979.2L753.0,979.5L754.6,979.6L756.3,979.6L757.9,979.5L759.5,979.5L761.2,979.3L762.8,979.1L764.4,979.1L766.0,979.3L767.7,979.2L769.3,979.1L770.9,979.4L772.6,979.1L774.2,978.9L775.8,978.9L777.5,978.9L779.1,979.0L780.7,979.1L782.3,978.8L784.0,979.0L785.6,978.7L787.2,978.5L788.9,978.9L790.5,978.8L792.1,978.4L793.7,978.5L795.4,978.9L797.0,978.9L798.6,978.8L800.3,978.3L801.9,978.3L803.5,978.7L805.2,978.2L806.8,978.3L808.4,977.5L810.0,977.1L811.7,976.1L813.3,975.9L814.9,975.4L816.6,973.2L818.2,972.9L819.8,972.4L821.5,971.4L823.1,973.6L824.7,974.6L826.3,976.8L828.0,974.4L829.6,971.5L831.2,968.1L832.9,971.0L834.5,972.7L836.1,975.4L837.7,975.4L839.4,975.8L841.0,975.1L842.6,962.9L844.3,973.8L845.9,973.6L847.5,973.5L849.2,972.8L850.8,970.6L852.4,970.4L854.0,969.2L855.7,968.1L857.3,972.8L858.9,975.4L860.6,973.8L862.2,972.3L863.8,968.3L865.5,968.1L867.1,965.1L868.7,967.5L870.3,971.2L872.0,971.4L873.6,950.3L875.2,974.3L876.9,974.1L878.5,975.0L880.1,974.3L881.8,974.8L883.4,974.8L885.0,974.1L886.6,974.6L888.3,974.6L889.9,974.3L891.5,974.2L893.2,974.8L894.8,973.4L896.4,972.4L898.0,971.2L899.7,971.1L901.3,962.5L902.9,971.2L904.6,971.2L906.2,969.3L907.8,969.0L909.5,967.6L911.1,966.5L912.7,967.7L914.3,966.0L916.0,962.4L917.6,960.8L919.2,962.0L920.9,959.0L922.5,958.3L924.1,960.0L925.8,958.8L927.4,959.4L929.0,956.5L930.6,944.7L932.3,944.4L933.9,913.7L935.5,947.5L937.2,946.2L938.8,949.5L940.4,943.2L942.0,944.2L943.7,948.9L945.3,946.9L946.9,946.6L948.6,943.5L950.2,936.8L951.8,937.7L953.5,947.2L955.1,950.6L956.7,955.8L958.3,956.9L960.0,958.0L961.6,957.6L963.2,956.4L964.9,959.2L966.5,956.0L968.1,956.4L969.8,956.7L971.4,948.6L973.0,938.4L974.6,944.0L976.3,952.5L977.9,953.8L979.5,951.6L981.2,949.0L982.8,951.6L984.4,937.4L986.0,921.5L987.7,923.9L989.3,936.0L990.9,944.2L992.6,946.7L994.2,933.5L995.8,927.2L997.5,939.4L999.1,946.5L1000.7,936.0L1002.3,933.4L1004.0,927.7L1005.6,938.7L1007.2,941.8L1008.9,939.5L1010.5,942.7L1012.1,944.2L1013.8,941.6L1015.4,901.0L1017.0,931.5L1018.6,934.2L1020.3,927.9L1021.9,935.7L1023.5,928.6L1025.2,930.2L1026.8,877.9L1028.4,927.3L1030.1,918.2L1031.7,920.9L1033.3,931.9L1034.9,935.1L1036.6,931.8L1038.2,924.1L1039.8,931.5L1041.5,937.5L1043.1,940.7L1044.7,943.5L1046.3,937.2L1048.0,926.4L1049.6,932.4L1051.2,932.6L1052.9,936.4L1054.5,935.8L1056.1,887.9L1057.8,931.1L1059.4,932.0L1061.0,923.4L1062.6,922.1L1064.3,930.8L1065.9,932.1L1067.5,932.3L1069.2,942.6L1070.8,934.5L1072.4,934.5L1074.1,930.1L1075.7,919.8L1077.3,919.6L1078.9,912.0L1080.6,917.2L1082.2,925.5L1083.8,912.2L1085.5,889.7L1087.1,918.8L1088.7,919.1L1090.3,842.1L1092.0,930.7L1093.6,931.8L1095.2,931.5L1096.9,814.3L1098.5,913.4L1100.1,915.9L1101.8,911.4L1103.4,904.6L1105.0,881.0L1106.6,876.2L1108.3,889.7L1109.9,908.2L1111.5,910.4L1113.2,906.6L1114.8,908.4L1116.4,915.4L1118.1,913.1L1119.7,915.9L1121.3,912.1L1122.9,920.2L1124.6,904.3L1126.2,889.7L1127.8,889.1L1129.5,910.5L1131.1,917.9L1132.7,920.8L1134.3,911.2L1136.0,905.5L1137.6,922.3L1139.2,918.1L1140.9,904.8L1142.5,921.0L1144.1,923.4L1145.8,929.1L1147.4,926.7L1149.0,932.5L1150.6,934.1L1152.3,930.8L1153.9,927.0L1155.5,916.8L1157.2,917.1L1158.8,708.9L1160.4,916.4L1162.1,916.1L1163.7,918.0L1165.3,920.0L1166.9,918.1L1168.6,918.0L1170.2,932.5L1171.8,926.2L1173.5,924.8L1175.1,930.0L1176.7,917.7L1178.3,917.9L1180.0,916.3L1181.6,913.0L1183.2,913.0L1184.9,873.5L1186.5,904.2L1188.1,905.6L1189.8,905.0L1191.4,910.2L1193.0,920.9L1194.6,919.5L1196.3,913.5L1197.9,916.3L1199.5,921.5L1201.2,927.3L1202.8,931.2L1204.4,931.4L1206.1,929.1L1207.7,928.9L1209.3,914.7L1210.9,914.3L1212.6,907.5L1214.2,902.2L1215.8,898.1L1217.5,898.5L1219.1,906.7L1220.7,894.7L1222.4,827.9L1224.0,896.6L1225.6,893.8L1227.2,888.0L1228.9,897.1L1230.5,883.6L1232.1,901.4L1233.8,915.1L1235.4,920.9L1237.0,914.9L1238.6,920.6L1240.3,911.1L1241.9,905.7L1243.5,911.3L1245.2,910.1L1246.8,902.5L1248.4,891.2L1250.1,885.4L1251.7,897.6L1253.3,911.3L1254.9,916.8L1256.6,913.9L1258.2,910.4L1259.8,902.9L1261.5,911.8L1263.1,911.9L1264.7,919.6L1266.4,917.6L1268.0,905.7L1269.6,826.4L1271.2,756.5L1272.9,834.0L1274.5,838.3L1276.1,483.9L1277.8,796.8L1279.4,816.4L1281.0,846.4L1282.6,849.0L1284.3,860.9L1285.9,865.0L1287.5,891.1L1289.2,897.2L1290.8,881.3L1292.4,870.8L1294.1,865.2L1295.7,879.0L1297.3,873.3L1298.9,864.3L1300.6,840.5L1302.2,886.0L1303.8,883.2L1305.5,746.0L1307.1,881.0L1308.7,880.4L1310.4,895.6L1312.0,886.1L1313.6,896.6L1315.2,889.6L1316.9,893.1L1318.5,902.0L1320.1,894.6L1321.8,897.7L1323.4,906.6L1325.0,907.3L1326.6,898.7L1328.3,899.8L1329.9,900.5L1331.5,906.5L1333.2,907.0L1334.8,907.5L1336.4,902.3L1338.1,853.9L1339.7,900.2L1341.3,895.8L1342.9,904.1L1344.6,890.5L1346.2,890.9L1347.8,888.7L1349.5,894.8L1351.1,892.4L1352.7,889.7L1354.4,882.3L1356.0,893.7L1357.6,901.1L1359.2,902.2L1360.9,908.2L1362.5,909.5L1364.1,909.2L1365.8,848.0L1367.4,905.6L1369.0,901.8L1370.7,903.7L1372.3,898.6L1373.9,888.8L1375.5,897.6L1377.2,894.9L1378.8,862.7L1380.4,849.1L1382.1,860.6L1383.7,882.8L1385.3,869.3L1386.9,869.8L1388.6,882.7L1390.2,892.6L1391.8,897.6L1393.5,881.0L1395.1,889.2L1396.7,888.8L1398.4,898.3L1400.0,907.2L1401.6,915.1L1403.2,909.8L1404.9,919.1L1406.5,899.0L1408.1,883.3L1409.8,863.0L1411.4,874.8L1413.0,896.2L1414.7,901.1L1416.3,893.0L1417.9,758.1L1419.5,754.6L1421.2,843.8L1422.8,862.3L1424.4,866.3L1426.1,875.9L1427.7,854.0L1429.3,855.5L1430.9,876.5L1432.6,880.7L1434.2,874.1L1435.8,886.5L1437.5,889.0L1439.1,891.6L1440.7,886.9L1442.4,895.1L1444.0,893.3L1445.6,881.3L1447.2,867.9L1448.9,847.8L1450.5,821.3L1452.1,814.8L1453.8,850.8L1455.4,879.3L1457.0,882.0L1458.7,887.3L1460.3,886.4L1461.9,889.3L1463.5,877.9L1465.2,872.3L1466.8,891.6L1468.4,884.6L1470.1,877.5L1471.7,873.1L1473.3,886.3L1474.9,885.5L1476.6,885.7L1478.2,605.0L1479.8,807.4L1481.5,800.5L1483.1,800.1L1484.7,814.8L1486.4,850.3L1488.0,855.1L1489.6,845.6L1491.2,841.7L1492.9,855.0L1494.5,854.6L1496.1,865.3L1497.8,820.7L1499.4,772.9L1501.0,795.3L1502.7,838.8L1504.3,821.6L1505.9,847.9L1507.5,856.8L1509.2,865.9L1510.8,859.2L1512.4,861.5L1514.1,848.9L1515.7,852.0L1517.3,851.4L1519.0,850.3L1520.6,852.1L1522.2,847.3L1523.8,851.5L1525.5,843.0L1527.1,858.1L1528.7,848.8L1530.4,860.7L1532.0,873.8L1533.6,876.6L1535.2,882.6L1536.9,877.3L1538.5,882.3L1540.1,891.7L1541.8,898.8L1543.4,891.3L1545.0,865.0L1546.7,864.9L1548.3,860.7L1549.9,860.6L1551.5,880.5L1553.2,875.1L1554.8,877.8L1556.4,870.1L1558.1,882.7L1559.7,872.7L1561.3,879.2L1563.0,882.2L1564.6,875.6L1566.2,859.7L1567.8,866.6L1569.5,879.7L1571.1,892.5L1572.7,888.9L1574.4,886.3L1576.0,892.2L1577.6,893.2L1579.2,858.0L1580.9,828.5L1582.5,851.5L1584.1,857.5L1585.8,874.8L1587.4,872.9L1589.0,866.8L1590.7,831.3L1592.3,844.8L1593.9,876.7L1595.5,870.8L1597.2,865.9L1598.8,875.1L1600.4,908.0L1602.1,898.2L1603.7,905.3L1605.3,902.4L1607.0,892.3L1608.6,891.9L1610.2,871.2L1611.8,874.9L1613.5,871.1L1615.1,895.9L1616.7,890.6L1618.4,880.2L1620.0,875.1L1621.6,881.4L1623.2,559.6L1624.9,825.6L1626.5,780.3L1628.1,776.6L1629.8,831.2L1631.4,857.3L1633.0,864.2L1634.7,858.4L1636.3,870.3L1637.9,871.6L1639.5,869.3L1641.2,880.5L1642.8,888.7L1644.4,892.9L1646.1,878.6L1647.7,887.2L1649.3,899.6L1651.0,888.2L1652.6,895.1L1654.2,894.9L1655.8,898.1L1657.5,902.0L1659.1,899.9L1660.7,899.5L1662.4,896.9L1664.0,883.9L1665.6,894.1L1667.2,866.7L1668.9,865.9L1670.5,865.7L1672.1,857.6L1673.8,864.5L1675.4,884.3L1677.0,898.1L1678.7,894.2L1680.3,891.5L1681.9,874.8L1683.5,881.1L1685.2,881.7L1686.8,869.6L1688.4,889.3L1690.1,879.3L1691.7,869.7L1693.3,869.0L1695.0,877.3L1696.6,889.2L1698.2,887.1L1699.8,867.3L1701.5,876.0L1703.1,861.0L1704.7,832.4L1706.4,827.6L1708.0,850.1L1709.6,832.4L1711.3,840.8L1712.9,845.2L1714.5,845.0L1716.1,864.7L1717.8,870.3L1719.4,876.1L1721.0,851.1L1722.7,848.8L1724.3,845.2L1725.9,840.5L1727.5,861.8L1729.2,858.0L1730.8,853.2L1732.4,832.4L1734.1,825.0L1735.7,833.6L1737.3,850.2L1739.0,854.9L1740.6,863.3L1742.2,852.1L1743.8,866.1L1745.5,851.7L1747.1,849.8L1748.7,849.7L1750.4,853.4L1752.0,867.4L1753.6,879.2L1755.3,886.0L1756.9,889.9L1758.5,855.4L1760.1,824.8L1761.8,759.6L1763.4,788.3L1765.0,840.3L1766.7,857.5L1768.3,864.6L1769.9,857.6L1771.5,872.4L1773.2,860.2L1774.8,863.4L1776.4,869.4L1778.1,866.9L1779.7,852.1L1781.3,859.6L1783.0,847.8L1784.6,296.5L1786.2,812.5L1787.8,815.2L1789.5,807.7L1791.1,805.0L1792.7,682.1L1794.4,798.0L1796.0,787.7L1797.6,799.2L1799.3,838.9L1800.9,846.9L1802.5,813.3L1804.1,759.2L1805.8,798.2L1807.4,792.1L1809.0,818.2L1810.7,815.1L1812.3,815.1L1813.9,691.6L1815.5,801.5L1817.2,806.6L1818.8,796.3L1820.4,668.8L1822.1,760.3L1823.7,791.2L1825.3,806.6L1827.0,801.5L1828.6,754.7L1830.2,768.1L1831.8,760.3L1833.5,674.6L1835.1,791.7L1836.7,769.1L1838.4,796.3L1840.0,806.6L1841.6,765.5L1843.3,711.5L1844.9,750.0L1846.5,780.9L1848.1,801.5L1849.8,806.6L1851.4,804.1L1853.0,788.6L1854.7,801.5L1856.3,790.2L1857.9,793.8L1859.6,811.8L1861.2,824.6L1862.8,842.6L1864.4,935.2" stroke="#1FA8C9"/>
<path d="M445.0,981.1L446.6,981.1L448.3,981.1L449.9,981.1L451.5,981.1L453.1,981.1L454.8,981.1L456.4,981.1L458.0,981.1L459.7,981.1L461.3,981.1L462.9,981.1L464.6,981.1L466.2,981.1L467.8,981.0L469.4,981.1L471.1,981.1L472.7,981.1L474.3,981.1L476.0,981.1L477.6,981.1L479.2,981.1L480.9,981.1L482.5,981.0L484.1,981.1L485.7,981.1L487.4,981.1L489.0,981.0L490.6,981.1L492.3,981.1L493.9,981.1L495.5,981.1L497.1,981.0L498.8,981.0L500.4,981.1L502.0,981.1L503.7,981.0L505.3,981.1L506.9,981.1L508.6,981.0L510.2,981.1L511.8,981.0L513.4,981.1L515.1,981.0L516.7,981.0L518.3,981.1L520.0,981.1L521.6,981.0L523.2,981.0L524.9,981.0L526.5,981.1L528.1,981.0L529.7,981.0L531.4,981.0L533.0,981.1L534.6,981.1L536.3,981.0L537.9,981.0L539.5,981.1L541.2,981.0L542.8,981.0L544.4,981.0L546.0,981.1L547.7,981.1L549.3,981.0L550.9,981.0L552.6,981.0L554.2,981.1L555.8,981.0L557.4,981.0L559.1,981.0L560.7,981.0L562.3,981.0L564.0,981.1L565.6,981.0L567.2,981.0L568.9,981.0L570.5,981.0L572.1,981.0L573.7,981.0L575.4,981.0L577.0,981.0L578.6,981.0L580.3,981.0L581.9,981.0L583.5,981.0L585.2,981.0L586.8,980.9L588.4,981.0L590.0,981.0L591.7,981.0L593.3,981.0L594.9,980.9L596.6,981.0L598.2,981.0L599.8,981.0L601.4,981.0L603.1,978.5L604.7,981.0L606.3,981.0L608.0,981.0L609.6,981.0L611.2,981.0L612.9,981.0L614.5,981.0L616.1,981.0L617.7,981.0L619.4,981.0L621.0,980.9L622.6,980.9L624.3,981.0L625.9,981.0L627.5,981.0L629.2,981.0L630.8,981.0L632.4,981.0L634.0,981.0L635.7,981.0L637.3,981.0L638.9,981.0L640.6,980.9L642.2,981.0L643.8,980.9L645.4,980.9L647.1,980.9L648.7,981.0L650.3,980.9L652.0,981.0L653.6,980.9L655.2,981.0L656.9,980.9L658.5,980.9L660.1,980.9L661.7,980.9L663.4,981.0L665.0,980.9L666.6,980.9L668.3,980.9L669.9,980.9L671.5,981.0L673.2,980.9L674.8,980.9L676.4,981.0L678.0,980.9L679.7,980.9L681.3,981.0L682.9,980.9L684.6,980.9L686.2,980.9L687.8,981.0L689.5,980.9L691.1,980.8L692.7,980.9L694.3,980.9L696.0,980.9L697.6,980.9L699.2,981.0L700.9,980.9L702.5,980.9L704.1,980.8L705.7,980.9L707.4,980.8L709.0,980.9L710.6,980.8L712.3,980.9L713.9,980.9L715.5,980.9L717.2,980.9L718.8,980.8L720.4,980.9L722.0,980.9L723.7,980.8L725.3,980.9L726.9,980.8L728.6,980.8L730.2,980.9L731.8,980.8L733.5,980.9L735.1,980.8L736.7,980.8L738.3,980.9L740.0,980.8L741.6,980.9L743.2,980.9L744.9,980.8L746.5,980.9L748.1,980.8L749.7,980.9L751.4,980.8L753.0,980.8L754.6,980.8L756.3,980.8L757.9,980.9L759.5,980.9L761.2,980.9L762.8,980.9L764.4,980.8L766.0,980.8L767.7,980.8L769.3,980.8L770.9,980.9L772.6,980.9L774.2,980.8L775.8,980.9L777.5,980.9L779.1,980.8L780.7,980.9L782.3,980.8L784.0,980.9L785.6,980.8L787.2,980.8L788.9,980.9L790.5,980.8L792.1,980.8L793.7,980.9L795.4,980.7L797.0,980.8L798.6,980.9L800.3,980.9L801.9,980.8L803.5,980.7L805.2,980.7L806.8,980.8L808.4,980.8L810.0,980.9L811.7,980.8L813.3,980.8L814.9,980.8L816.6,980.8L818.2,980.8L819.8,980.7L821.5,980.7L823.1,980.8L824.7,980.7L826.3,980.9L828.0,980.8L829.6,980.8L831.2,980.8L832.9,980.8L834.5,980.7L836.1,980.9L837.7,980.8L839.4,980.7L841.0,980.8L842.6,980.8L844.3,980.7L845.9,980.8L847.5,980.7L849.2,980.7L850.8,980.8L852.4,980.8L854.0,980.8L855.7,980.8L857.3,980.7L858.9,980.7L860.6,980.7L862.2,980.8L863.8,980.7L865.5,980.7L867.1,980.7L868.7,980.7L870.3,980.7L872.0,980.8L873.6,980.8L875.2,980.7L876.9,980.7L878.5,980.6L880.1,980.3L881.8,980.2L883.4,980.1L885.0,980.0L886.6,980.1L888.3,979.9L889.9,979.8L891.5,979.5L893.2,979.5L894.8,979.5L896.4,979.2L898.0,978.7L899.7,979.0L901.3,978.3L902.9,978.7L904.6,978.3L906.2,978.2L907.8,977.5L909.5,977.1L911.1,977.1L912.7,977.3L914.3,976.7L916.0,976.9L917.6,976.8L919.2,975.9L920.9,976.0L922.5,975.8L924.1,975.6L925.8,975.0L927.4,975.5L929.0,974.8L930.6,974.9L932.3,974.4L933.9,974.8L935.5,974.6L937.2,975.0L938.8,975.5L940.4,975.8L942.0,975.4L943.7,976.3L945.3,975.6L946.9,975.8L948.6,975.4L950.2,974.7L951.8,972.5L953.5,972.9L955.1,973.9L956.7,974.5L958.3,974.9L960.0,974.1L961.6,974.7L963.2,975.2L964.9,974.6L966.5,975.4L968.1,974.1L969.8,974.2L971.4,973.0L973.0,973.0L974.6,971.9L976.3,973.1L977.9,970.6L979.5,969.9L981.2,969.1L982.8,970.9L984.4,969.5L986.0,969.6L987.7,969.2L989.3,965.6L990.9,965.7L992.6,967.0L994.2,967.8L995.8,970.1L997.5,970.0L999.1,969.8L1000.7,969.0L1002.3,966.0L1004.0,966.5L1005.6,966.6L1007.2,966.2L1008.9,967.6L1010.5,966.6L1012.1,965.8L1013.8,962.8L1015.4,962.2L1017.0,971.4L1018.6,969.6L1020.3,970.3L1021.9,969.0L1023.5,969.2L1025.2,970.5L1026.8,968.7L1028.4,967.8L1030.1,965.6L1031.7,966.1L1033.3,963.7L1034.9,963.4L1036.6,963.5L1038.2,959.1L1039.8,961.8L1041.5,956.6L1043.1,959.0L1044.7,956.9L1046.3,953.8L1048.0,945.4L1049.6,939.1L1051.2,944.3L1052.9,935.2L1054.5,930.2L1056.1,923.5L1057.8,935.1L1059.4,937.8L1061.0,936.9L1062.6,931.3L1064.3,937.3L1065.9,931.7L1067.5,940.7L1069.2,941.3L1070.8,960.6L1072.4,959.4L1074.1,960.1L1075.7,955.5L1077.3,957.4L1078.9,952.5L1080.6,949.2L1082.2,947.3L1083.8,931.7L1085.5,919.0L1087.1,940.7L1088.7,940.7L1090.3,868.4L1092.0,936.8L1093.6,933.7L1095.2,937.1L1096.9,905.3L1098.5,938.7L1100.1,936.3L1101.8,928.3L1103.4,919.4L1105.0,913.3L1106.6,923.4L1108.3,920.0L1109.9,923.2L1111.5,926.3L1113.2,925.6L1114.8,929.4L1116.4,933.6L1118.1,935.5L1119.7,936.6L1121.3,933.3L1122.9,937.0L1124.6,939.5L1126.2,934.1L1127.8,920.1L1129.5,924.0L1131.1,934.9L1132.7,941.7L1134.3,940.7L1136.0,939.4L1137.6,946.3L1139.2,947.4L1140.9,945.6L1142.5,942.3L1144.1,937.0L1145.8,941.4L1147.4,939.0L1149.0,933.7L1150.6,941.0L1152.3,931.1L1153.9,924.0L1155.5,912.1L1157.2,902.3L1158.8,878.8L1160.4,896.9L1162.1,921.8L1163.7,925.8L1165.3,944.2L1166.9,945.2L1168.6,941.3L1170.2,944.3L1171.8,946.2L1173.5,949.9L1175.1,951.4L1176.7,949.4L1178.3,953.1L1180.0,952.1L1181.6,949.9L1183.2,951.1L1184.9,945.9L1186.5,940.0L1188.1,939.7L1189.8,942.9L1191.4,944.4L1193.0,948.2L1194.6,946.2L1196.3,936.7L1197.9,933.0L1199.5,936.9L1201.2,935.4L1202.8,941.9L1204.4,942.7L1206.1,944.7L1207.7,950.8L1209.3,953.1L1210.9,951.1L1212.6,943.9L1214.2,939.8L1215.8,937.0L1217.5,935.0L1219.1,937.7L1220.7,939.9L1222.4,859.6L1224.0,933.4L1225.6,932.1L1227.2,933.9L1228.9,925.3L1230.5,923.3L1232.1,926.4L1233.8,929.5L1235.4,936.1L1237.0,935.5L1238.6,936.7L1240.3,936.0L1241.9,939.2L1243.5,937.6L1245.2,938.9L1246.8,942.3L1248.4,937.2L1250.1,910.4L1251.7,926.9L1253.3,938.8L1254.9,930.8L1256.6,938.5L1258.2,929.8L1259.8,929.0L1261.5,930.2L1263.1,937.8L1264.7,931.7L1266.4,930.0L1268.0,916.8L1269.6,902.4L1271.2,884.3L1272.9,874.9L1274.5,898.2L1276.1,864.1L1277.8,846.0L1279.4,867.5L1281.0,880.1L1282.6,904.9L1284.3,913.6L1285.9,921.4L1287.5,923.7L1289.2,925.4L1290.8,906.9L1292.4,910.4L1294.1,910.3L1295.7,898.8L1297.3,887.2L1298.9,899.7L1300.6,893.3L1302.2,894.6L1303.8,879.1L1305.5,877.3L1307.1,865.5L1308.7,889.0L1310.4,900.2L1312.0,894.8L1313.6,903.8L1315.2,910.8L1316.9,905.0L1318.5,908.0L1320.1,910.5L1321.8,906.8L1323.4,905.6L1325.0,911.5L1326.6,921.7L1328.3,921.1L1329.9,918.0L1331.5,918.7L1333.2,897.7L1334.8,898.0L1336.4,882.6L1338.1,844.7L1339.7,881.2L1341.3,894.7L1342.9,905.7L1344.6,898.8L1346.2,902.9L1347.8,887.9L1349.5,901.4L1351.1,900.3L1352.7,915.9L1354.4,918.5L1356.0,922.2L1357.6,921.5L1359.2,923.9L1360.9,930.9L1362.5,922.8L1364.1,928.5L1365.8,890.9L1367.4,925.9L1369.0,925.0L1370.7,916.6L1372.3,903.6L1373.9,895.5L1375.5,905.7L1377.2,906.9L1378.8,834.6L1380.4,782.8L1382.1,823.0L1383.7,827.3L1385.3,923.6L1386.9,891.7L1388.6,923.3L1390.2,911.1L1391.8,910.9L1393.5,893.7L1395.1,888.0L1396.7,903.3L1398.4,923.5L1400.0,936.8L1401.6,940.0L1403.2,939.8L1404.9,936.8L1406.5,939.4L1408.1,939.1L1409.8,883.7L1411.4,931.4L1413.0,936.5L1414.7,931.0L1416.3,922.1L1417.9,913.1L1419.5,905.7L1421.2,895.2L1422.8,894.6L1424.4,890.4L1426.1,904.0L1427.7,894.7L1429.3,899.0L1430.9,898.5L1432.6,907.3L1434.2,896.3L1435.8,899.0L1437.5,898.3L1439.1,899.6L1440.7,894.2L1442.4,901.1L1444.0,917.9L1445.6,920.0L1447.2,926.1L1448.9,922.3L1450.5,923.4L1452.1,853.5L1453.8,915.2L1455.4,919.9L1457.0,905.0L1458.7,904.6L1460.3,919.5L1461.9,913.3L1463.5,906.4L1465.2,910.4L1466.8,904.9L1468.4,893.9L1470.1,909.1L1471.7,898.3L1473.3,895.2L1474.9,900.0L1476.6,895.9L1478.2,724.5L1479.8,840.3L1481.5,847.1L1483.1,828.0L1484.7,842.5L1486.4,878.8L1488.0,867.4L1489.6,887.9L1491.2,869.2L1492.9,872.4L1494.5,878.9L1496.1,872.9L1497.8,865.8L1499.4,848.1L1501.0,840.9L1502.7,826.3L1504.3,833.5L1505.9,846.5L1507.5,861.2L1509.2,873.0L1510.8,856.7L1512.4,860.2L1514.1,793.5L1515.7,815.6L1517.3,829.7L1519.0,853.5L1520.6,862.2L1522.2,874.5L1523.8,873.5L1525.5,873.5L1527.1,876.2L1528.7,872.5L1530.4,865.2L1532.0,864.2L1533.6,866.5L1535.2,870.9L1536.9,893.4L1538.5,889.8L1540.1,888.6L1541.8,878.8L1543.4,872.6L1545.0,872.5L1546.7,870.6L1548.3,876.8L1549.9,859.7L1551.5,872.5L1553.2,864.1L1554.8,860.3L1556.4,874.2L1558.1,903.6L1559.7,900.4L1561.3,898.5L1563.0,897.8L1564.6,889.4L1566.2,882.3L1567.8,892.9L1569.5,887.6L1571.1,887.3L1572.7,881.6L1574.4,897.0L1576.0,899.2L1577.6,899.9L1579.2,885.6L1580.9,883.0L1582.5,885.1L1584.1,771.4L1585.8,881.1L1587.4,881.4L1589.0,880.6L1590.7,886.2L1592.3,880.3L1593.9,870.0L1595.5,862.5L1597.2,847.0L1598.8,858.4L1600.4,874.9L1602.1,885.0L1603.7,867.7L1605.3,892.5L1607.0,903.2L1608.6,899.7L1610.2,890.7L1611.8,873.0L1613.5,874.0L1615.1,895.2L1616.7,885.2L1618.4,872.7L1620.0,870.7L1621.6,885.2L1623.2,726.1L1624.9,825.8L1626.5,829.9L1628.1,861.8L1629.8,876.2L1631.4,882.5L1633.0,882.8L1634.7,896.5L1636.3,890.1L1637.9,900.8L1639.5,890.6L1641.2,892.3L1642.8,867.5L1644.4,884.7L1646.1,891.3L1647.7,882.0L1649.3,894.6L1651.0,892.3L1652.6,904.2L1654.2,904.8L1655.8,891.1L1657.5,886.9L1659.1,883.5L1660.7,876.6L1662.4,893.5L1664.0,886.1L1665.6,892.5L1667.2,899.1L1668.9,894.5L1670.5,908.5L1672.1,884.3L1673.8,879.4L1675.4,895.2L1677.0,890.2L1678.7,868.3L1680.3,854.8L1681.9,877.4L1683.5,875.2L1685.2,870.3L1686.8,886.9L1688.4,878.2L1690.1,883.9L1691.7,888.4L1693.3,874.4L1695.0,862.4L1696.6,858.7L1698.2,851.5L1699.8,866.2L1701.5,845.1L1703.1,854.4L1704.7,834.3L1706.4,824.0L1708.0,842.1L1709.6,854.2L1711.3,863.0L1712.9,856.3L1714.5,868.3L1716.1,844.4L1717.8,860.5L1719.4,867.6L1721.0,836.9L1722.7,837.6L1724.3,873.2L1725.9,871.7L1727.5,857.0L1729.2,841.0L1730.8,849.3L1732.4,860.3L1734.1,875.2L1735.7,876.7L1737.3,866.2L1739.0,879.2L1740.6,874.4L1742.2,865.6L1743.8,856.6L1745.5,849.9L1747.1,863.7L1748.7,860.8L1750.4,868.7L1752.0,869.1L1753.6,837.9L1755.3,808.8L1756.9,824.9L1758.5,867.8L1760.1,832.9L1761.8,820.5L1763.4,810.8L1765.0,823.7L1766.7,844.1L1768.3,843.8L1769.9,843.4L1771.5,852.6L1773.2,851.5L1774.8,869.8L1776.4,870.4L1778.1,847.2L1779.7,857.6L1781.3,865.1L1783.0,843.8L1784.6,833.2L1786.2,845.7L1787.8,825.9L1789.5,814.5L1791.1,853.3L1792.7,729.1L1794.4,850.5L1796.0,820.6L1797.6,807.6L1799.3,822.3L1800.9,835.0L1802.5,825.9L1804.1,336.4L1805.8,765.3L1807.4,774.5L1809.0,790.2L1810.7,793.3L1812.3,821.8L1813.9,830.1L1815.5,852.0L1817.2,811.2L1818.8,819.5L1820.4,811.3L1822.1,684.5L1823.7,799.4L1825.3,801.5L1827.0,806.6L1828.6,811.8L1830.2,822.1L1831.8,801.5L1833.5,785.0L1835.1,832.9L1836.7,822.1L1838.4,838.8L1840.0,832.3L1841.6,822.1L1843.3,761.9L1844.9,817.9L1846.5,832.3L1848.1,842.1L1849.8,830.3L1851.4,840.1L1853.0,832.3L1854.7,825.9L1856.3,829.8L1857.9,832.3L1859.6,837.5L1861.2,847.8L1862.8,863.2L1864.4,938.3L1864.4,981.5L445.0,981.5Z" fill="#454E7C" fill-opacity="0.2" stroke="none"/>
<path d="M445.0,981.1L446.6,981.1L448.3,981.1L449.9,981.1L451.5,981.1L453.1,981.1L454.8,981.1L456.4,981.1L458.0,981.1L459.7,981.1L461.3,981.1L462.9,981.1L464.6,981.1L466.2,981.1L467.8,981.0L469.4,981.1L471.1,981.1L472.7,981.1L474.3,981.1L476.0,981.1L477.6,981.1L479.2,981.1L480.9,981.1L482.5,981.0L484.1,981.1L485.7,981.1L487.4,981.1L489.0,981.0L490.6,981.1L492.3,981.1L493.9,981.1L495.5,981.1L497.1,981.0L498.8,981.0L500.4,981.1L502.0,981.1L503.7,981.0L505.3,981.1L506.9,981.1L508.6,981.0L510.2,981.1L511.8,981.0L513.4,981.1L515.1,981.0L516.7,981.0L518.3,981.1L520.0,981.1L521.6,981.0L523.2,981.0L524.9,981.0L526.5,981.1L528.1,981.0L529.7,981.0L531.4,981.0L533.0,981.1L534.6,981.1L536.3,981.0L537.9,981.0L539.5,981.1L541.2,981.0L542.8,981.0L544.4,981.0L546.0,981.1L547.7,981.1L549.3,981.0L550.9,981.0L552.6,981.0L554.2,981.1L555.8,981.0L557.4,981.0L559.1,981.0L560.7,981.0L562.3,981.0L564.0,981.1L565.6,981.0L567.2,981.0L568.9,981.0L570.5,981.0L572.1,981.0L573.7,981.0L575.4,981.0L577.0,981.0L578.6,981.0L580.3,981.0L581.9,981.0L583.5,981.0L585.2,981.0L586.8,980.9L588.4,981.0L590.0,981.0L591.7,981.0L593.3,981.0L594.9,980.9L596.6,981.0L598.2,981.0L599.8,981.0L601.4,981.0L603.1,978.5L604.7,981.0L606.3,981.0L608.0,981.0L609.6,981.0L611.2,981.0L612.9,981.0L614.5,981.0L616.1,981.0L617.7,981.0L619.4,981.0L621.0,980.9L622.6,980.9L624.3,981.0L625.9,981.0L627.5,981.0L629.2,981.0L630.8,981.0L632.4,981.0L634.0,981.0L635.7,981.0L637.3,981.0L638.9,981.0L640.6,980.9L642.2,981.0L643.8,980.9L645.4,980.9L647.1,980.9L648.7,981.0L650.3,980.9L652.0,981.0L653.6,980.9L655.2,981.0L656.9,980.9L658.5,980.9L660.1,980.9L661.7,980.9L663.4,981.0L665.0,980.9L666.6,980.9L668.3,980.9L669.9,980.9L671.5,981.0L673.2,980.9L674.8,980.9L676.4,981.0L678.0,980.9L679.7,980.9L681.3,981.0L682.9,980.9L684.6,980.9L686.2,980.9L687.8,981.0L689.5,980.9L691.1,980.8L692.7,980.9L694.3,980.9L696.0,980.9L697.6,980.9L699.2,981.0L700.9,980.9L702.5,980.9L704.1,980.8L705.7,980.9L707.4,980.8L709.0,980.9L710.6,980.8L712.3,980.9L713.9,980.9L715.5,980.9L717.2,980.9L718.8,980.8L720.4,980.9L722.0,980.9L723.7,980.8L725.3,980.9L726.9,980.8L728.6,980.8L730.2,980.9L731.8,980.8L733.5,980.9L735.1,980.8L736.7,980.8L738.3,980.9L740.0,980.8L741.6,980.9L743.2,980.9L744.9,980.8L746.5,980.9L748.1,980.8L749.7,980.9L751.4,980.8L753.0,980.8L754.6,980.8L756.3,980.8L757.9,980.9L759.5,980.9L761.2,980.9L762.8,980.9L764.4,980.8L766.0,980.8L767.7,980.8L769.3,980.8L770.9,980.9L772.6,980.9L774.2,980.8L775.8,980.9L777.5,980.9L779.1,980.8L780.7,980.9L782.3,980.8L784.0,980.9L785.6,980.8L787.2,980.8L788.9,980.9L790.5,980.8L792.1,980.8L793.7,980.9L795.4,980.7L797.0,980.8L798.6,980.9L800.3,980.9L801.9,980.8L803.5,980.7L805.2,980.7L806.8,980.8L808.4,980.8L810.0,980.9L811.7,980.8L813.3,980.8L814.9,980.8L816.6,980.8L818.2,980.8L819.8,980.7L821.5,980.7L823.1,980.8L824.7,980.7L826.3,980.9L828.0,980.8L829.6,980.8L831.2,980.8L832.9,980.8L834.5,980.7L836.1,980.9L837.7,980.8L839.4,980.7L841.0,980.8L842.6,980.8L844.3,980.7L845.9,980.8L847.5,980.7L849.2,980.7L850.8,980.8L852.4,980.8L854.0,980.8L855.7,980.8L857.3,980.7L858.9,980.7L860.6,980.7L862.2,980.8L863.8,980.7L865.5,980.7L867.1,980.7L868.7,980.7L870.3,980.7L872.0,980.8L873.6,980.8L875.2,980.7L876.9,980.7L878.5,980.6L880.1,980.3L881.8,980.2L883.4,980.1L885.0,980.0L886.6,980.1L888.3,979.9L889.9,979.8L891.5,979.5L893.2,979.5L894.8,979.5L896.4,979.2L898.0,978.7L899.7,979.0L901.3,978.3L902.9,978.7L904.6,978.3L906.2,978.2L907.8,977.5L909.5,977.1L911.1,977.1L912.7,977.3L914.3,976.7L916.0,976.9L917.6,976.8L919.2,975.9L920.9,976.0L922.5,975.8L924.1,975.6L925.8,975.0L927.4,975.5L929.0,974.8L930.6,974.9L932.3,974.4L933.9,974.8L935.5,974.6L937.2,975.0L938.8,975.5L940.4,975.8L942.0,975.4L943.7,976.3L945.3,975.6L946.9,975.8L948.6,975.4L950.2,974.7L951.8,972.5L953.5,972.9L955.1,973.9L956.7,974.5L958.3,974.9L960.0,974.1L961.6,974.7L963.2,975.2L964.9,974.6L966.5,975.4L968.1,974.1L969.8,974.2L971.4,973.0L973.0,973.0L974.6,971.9L976.3,973.1L977.9,970.6L979.5,969.9L981.2,969.1L982.8,970.9L984.4,969.5L986.0,969.6L987.7,969.2L989.3,965.6L990.9,965.7L992.6,967.0L994.2,967.8L995.8,970.1L997.5,970.0L999.1,969.8L1000.7,969.0L1002.3,966.0L1004.0,966.5L1005.6,966.6L1007.2,966.2L1008.9,967.6L1010.5,966.6L1012.1,965.8L1013.8,962.8L1015.4,962.2L1017.0,971.4L1018.6,969.6L1020.3,970.3L1021.9,969.0L1023.5,969.2L1025.2,970.5L1026.8,968.7L1028.4,967.8L1030.1,965.6L1031.7,966.1L1033.3,963.7L1034.9,963.4L1036.6,963.5L1038.2,959.1L1039.8,961.8L1041.5,956.6L1043.1,959.0L1044.7,956.9L1046.3,953.8L1048.0,945.4L1049.6,939.1L1051.2,944.3L1052.9,935.2L1054.5,930.2L1056.1,923.5L1057.8,935.1L1059.4,937.8L1061.0,936.9L1062.6,931.3L1064.3,937.3L1065.9,931.7L1067.5,940.7L1069.2,941.3L1070.8,960.6L1072.4,959.4L1074.1,960.1L1075.7,955.5L1077.3,957.4L1078.9,952.5L1080.6,949.2L1082.2,947.3L1083.8,931.7L1085.5,919.0L1087.1,940.7L1088.7,940.7L1090.3,868.4L1092.0,936.8L1093.6,933.7L1095.2,937.1L1096.9,905.3L1098.5,938.7L1100.1,936.3L1101.8,928.3L1103.4,919.4L1105.0,913.3L1106.6,923.4L1108.3,920.0L1109.9,923.2L1111.5,926.3L1113.2,925.6L1114.8,929.4L1116.4,933.6L1118.1,935.5L1119.7,936.6L1121.3,933.3L1122.9,937.0L1124.6,939.5L1126.2,934.1L1127.8,920.1L1129.5,924.0L1131.1,934.9L1132.7,941.7L1134.3,940.7L1136.0,939.4L1137.6,946.3L1139.2,947.4L1140.9,945.6L1142.5,942.3L1144.1,937.0L1145.8,941.4L1147.4,939.0L1149.0,933.7L1150.6,941.0L1152.3,931.1L1153.9,924.0L1155.5,912.1L1157.2,902.3L1158.8,878.8L1160.4,896.9L1162.1,921.8L1163.7,925.8L1165.3,944.2L1166.9,945.2L1168.6,941.3L1170.2,944.3L1171.8,946.2L1173.5,949.9L1175.1,951.4L1176.7,949.4L1178.3,953.1L1180.0,952.1L1181.6,949.9L1183.2,951.1L1184.9,945.9L1186.5,940.0L1188.1,939.7L1189.8,942.9L1191.4,944.4L1193.0,948.2L1194.6,946.2L1196.3,936.7L1197.9,933.0L1199.5,936.9L1201.2,935.4L1202.8,941.9L1204.4,942.7L1206.1,944.7L1207.7,950.8L1209.3,953.1L1210.9,951.1L1212.6,943.9L1214.2,939.8L1215.8,937.0L1217.5,935.0L1219.1,937.7L1220.7,939.9L1222.4,859.6L1224.0,933.4L1225.6,932.1L1227.2,933.9L1228.9,925.3L1230.5,923.3L1232.1,926.4L1233.8,929.5L1235.4,936.1L1237.0,935.5L1238.6,936.7L1240.3,936.0L1241.9,939.2L1243.5,937.6L1245.2,938.9L1246.8,942.3L1248.4,937.2L1250.1,910.4L1251.7,926.9L1253.3,938.8L1254.9,930.8L1256.6,938.5L1258.2,929.8L1259.8,929.0L1261.5,930.2L1263.1,937.8L1264.7,931.7L1266.4,930.0L1268.0,916.8L1269.6,902.4L1271.2,884.3L1272.9,874.9L1274.5,898.2L1276.1,864.1L1277.8,846.0L1279.4,867.5L1281.0,880.1L1282.6,904.9L1284.3,913.6L1285.9,921.4L1287.5,923.7L1289.2,925.4L1290.8,906.9L1292.4,910.4L1294.1,910.3L1295.7,898.8L1297.3,887.2L1298.9,899.7L1300.6,893.3L1302.2,894.6L1303.8,879.1L1305.5,877.3L1307.1,865.5L1308.7,889.0L1310.4,900.2L1312.0,894.8L1313.6,903.8L1315.2,910.8L1316.9,905.0L1318.5,908.0L1320.1,910.5L1321.8,906.8L1323.4,905.6L1325.0,911.5L1326.6,921.7L1328.3,921.1L1329.9,918.0L1331.5,918.7L1333.2,897.7L1334.8,898.0L1336.4,882.6L1338.1,844.7L1339.7,881.2L1341.3,894.7L1342.9,905.7L1344.6,898.8L1346.2,902.9L1347.8,887.9L1349.5,901.4L1351.1,900.3L1352.7,915.9L1354.4,918.5L1356.0,922.2L1357.6,921.5L1359.2,923.9L1360.9,930.9L1362.5,922.8L1364.1,928.5L1365.8,890.9L1367.4,925.9L1369.0,925.0L1370.7,916.6L1372.3,903.6L1373.9,895.5L1375.5,905.7L1377.2,906.9L1378.8,834.6L1380.4,782.8L1382.1,823.0L1383.7,827.3L1385.3,923.6L1386.9,891.7L1388.6,923.3L1390.2,911.1L1391.8,910.9L1393.5,893.7L1395.1,888.0L1396.7,903.3L1398.4,923.5L1400.0,936.8L1401.6,940.0L1403.2,939.8L1404.9,936.8L1406.5,939.4L1408.1,939.1L1409.8,883.7L1411.4,931.4L1413.0,936.5L1414.7,931.0L1416.3,922.1L1417.9,913.1L1419.5,905.7L1421.2,895.2L1422.8,894.6L1424.4,890.4L1426.1,904.0L1427.7,894.7L1429.3,899.0L1430.9,898.5L1432.6,907.3L1434.2,896.3L1435.8,899.0L1437.5,898.3L1439.1,899.6L1440.7,894.2L1442.4,901.1L1444.0,917.9L1445.6,920.0L1447.2,926.1L1448.9,922.3L1450.5,923.4L1452.1,853.5L1453.8,915.2L1455.4,919.9L1457.0,905.0L1458.7,904.6L1460.3,919.5L1461.9,913.3L1463.5,906.4L1465.2,910.4L1466.8,904.9L1468.4,893.9L1470.1,909.1L1471.7,898.3L1473.3,895.2L1474.9,900.0L1476.6,895.9L1478.2,724.5L1479.8,840.3L1481.5,847.1L1483.1,828.0L1484.7,842.5L1486.4,878.8L1488.0,867.4L1489.6,887.9L1491.2,869.2L1492.9,872.4L1494.5,878.9L1496.1,872.9L1497.8,865.8L1499.4,848.1L1501.0,840.9L1502.7,826.3L1504.3,833.5L1505.9,846.5L1507.5,861.2L1509.2,873.0L1510.8,856.7L1512.4,860.2L1514.1,793.5L1515.7,815.6L1517.3,829.7L1519.0,853.5L1520.6,862.2L1522.2,874.5L1523.8,873.5L1525.5,873.5L1527.1,876.2L1528.7,872.5L1530.4,865.2L1532.0,864.2L1533.6,866.5L1535.2,870.9L1536.9,893.4L1538.5,889.8L1540.1,888.6L1541.8,878.8L1543.4,872.6L1545.0,872.5L1546.7,870.6L1548.3,876.8L1549.9,859.7L1551.5,872.5L1553.2,864.1L1554.8,860.3L1556.4,874.2L1558.1,903.6L1559.7,900.4L1561.3,898.5L1563.0,897.8L1564.6,889.4L1566.2,882.3L1567.8,892.9L1569.5,887.6L1571.1,887.3L1572.7,881.6L1574.4,897.0L1576.0,899.2L1577.6,899.9L1579.2,885.6L1580.9,883.0L1582.5,885.1L1584.1,771.4L1585.8,881.1L1587.4,881.4L1589.0,880.6L1590.7,886.2L1592.3,880.3L1593.9,870.0L1595.5,862.5L1597.2,847.0L1598.8,858.4L1600.4,874.9L1602.1,885.0L1603.7,867.7L1605.3,892.5L1607.0,903.2L1608.6,899.7L1610.2,890.7L1611.8,873.0L1613.5,874.0L1615.1,895.2L1616.7,885.2L1618.4,872.7L1620.0,870.7L1621.6,885.2L1623.2,726.1L1624.9,825.8L1626.5,829.9L1628.1,861.8L1629.8,876.2L1631.4,882.5L1633.0,882.8L1634.7,896.5L1636.3,890.1L1637.9,900.8L1639.5,890.6L1641.2,892.3L1642.8,867.5L1644.4,884.7L1646.1,891.3L1647.7,882.0L1649.3,894.6L1651.0,892.3L1652.6,904.2L1654.2,904.8L1655.8,891.1L1657.5,886.9L1659.1,883.5L1660.7,876.6L1662.4,893.5L1664.0,886.1L1665.6,892.5L1667.2,899.1L1668.9,894.5L1670.5,908.5L1672.1,884.3L1673.8,879.4L1675.4,895.2L1677.0,890.2L1678.7,868.3L1680.3,854.8L1681.9,877.4L1683.5,875.2L1685.2,870.3L1686.8,886.9L1688.4,878.2L1690.1,883.9L1691.7,888.4L1693.3,874.4L1695.0,862.4L1696.6,858.7L1698.2,851.5L1699.8,866.2L1701.5,845.1L1703.1,854.4L1704.7,834.3L1706.4,824.0L1708.0,842.1L1709.6,854.2L1711.3,863.0L1712.9,856.3L1714.5,868.3L1716.1,844.4L1717.8,860.5L1719.4,867.6L1721.0,836.9L1722.7,837.6L1724.3,873.2L1725.9,871.7L1727.5,857.0L1729.2,841.0L1730.8,849.3L1732.4,860.3L1734.1,875.2L1735.7,876.7L1737.3,866.2L1739.0,879.2L1740.6,874.4L1742.2,865.6L1743.8,856.6L1745.5,849.9L1747.1,863.7L1748.7,860.8L1750.4,868.7L1752.0,869.1L1753.6,837.9L1755.3,808.8L1756.9,824.9L1758.5,867.8L1760.1,832.9L1761.8,820.5L1763.4,810.8L1765.0,823.7L1766.7,844.1L1768.3,843.8L1769.9,843.4L1771.5,852.6L1773.2,851.5L1774.8,869.8L1776.4,870.4L1778.1,847.2L1779.7,857.6L1781.3,865.1L1783.0,843.8L1784.6,833.2L1786.2,845.7L1787.8,825.9L1789.5,814.5L1791.1,853.3L1792.7,729.1L1794.4,850.5L1796.0,820.6L1797.6,807.6L1799.3,822.3L1800.9,835.0L1802.5,825.9L1804.1,336.4L1805.8,765.3L1807.4,774.5L1809.0,790.2L1810.7,793.3L1812.3,821.8L1813.9,830.1L1815.5,852.0L1817.2,811.2L1818.8,819.5L1820.4,811.3L1822.1,684.5L1823.7,799.4L1825.3,801.5L1827.0,806.6L1828.6,811.8L1830.2,822.1L1831.8,801.5L1833.5,785.0L1835.1,832.9L1836.7,822.1L1838.4,838.8L1840.0,832.3L1841.6,822.1L1843.3,761.9L1844.9,817.9L1846.5,832.3L1848.1,842.1L1849.8,830.3L1851.4,840.1L1853.0,832.3L1854.7,825.9L1856.3,829.8L1857.9,832.3L1859.6,837.5L1861.2,847.8L1862.8,863.2L1864.4,938.3" stroke="#454E7C"/>
<path d="M445.0,980.2L446.6,980.0L448.3,980.3L449.9,980.4L451.5,980.4L453.1,980.4L454.8,980.4L456.4,980.4L458.0,980.2L459.7,980.1L461.3,980.3L462.9,980.1L464.6,980.1L466.2,980.5L467.8,980.3L469.4,980.3L471.1,980.5L472.7,980.1L474.3,980.4L476.0,980.3L477.6,980.3L479.2,980.2L480.9,980.3L482.5,980.4L484.1,980.4L485.7,980.5L487.4,980.2L489.0,980.2L490.6,980.5L492.3,980.6L493.9,980.5L495.5,980.5L497.1,980.3L498.8,980.3L500.4,980.3L502.0,980.6L503.7,980.3L505.3,980.4L506.9,980.4L508.6,980.3L510.2,980.6L511.8,980.6L513.4,980.4L515.1,979.6L516.7,979.0L518.3,978.7L520.0,977.7L521.6,977.0L523.2,979.1L524.9,980.5L526.5,980.5L528.1,980.6L529.7,980.5L531.4,980.6L533.0,980.5L534.6,980.6L536.3,980.4L537.9,980.6L539.5,980.4L541.2,980.5L542.8,980.6L544.4,980.3L546.0,980.5L547.7,980.3L549.3,980.3L550.9,980.3L552.6,980.5L554.2,980.4L555.8,980.5L557.4,980.2L559.1,980.3L560.7,980.3L562.3,980.4L564.0,980.4L565.6,980.3L567.2,980.4L568.9,980.3L570.5,980.5L572.1,980.5L573.7,980.5L575.4,980.3L577.0,980.3L578.6,980.5L580.3,980.2L581.9,980.4L583.5,980.4L585.2,980.5L586.8,980.4L588.4,980.2L590.0,980.4L591.7,980.4L593.3,980.3L594.9,980.4L596.6,980.2L598.2,980.5L599.8,980.1L601.4,980.5L603.1,980.1L604.7,980.2L606.3,980.4L608.0,980.3L609.6,980.4L611.2,980.4L612.9,980.4L614.5,980.3L616.1,980.1L617.7,980.1L619.4,980.1L621.0,980.4L622.6,980.3L624.3,980.1L625.9,980.4L627.5,980.1L629.2,980.3L630.8,980.0L632.4,980.4L634.0,980.1L635.7,980.3L637.3,980.3L638.9,975.2L640.6,967.4L642.2,974.0L643.8,980.3L645.4,980.2L647.1,980.0L648.7,980.2L650.3,980.0L652.0,980.2L653.6,980.2L655.2,979.8L656.9,979.8L658.5,980.1L660.1,980.1L661.7,980.0L663.4,979.7L665.0,979.8L666.6,979.9L668.3,979.9L669.9,979.6L671.5,979.5L673.2,979.4L674.8,979.5L676.4,979.7L678.0,979.8L679.7,979.4L681.3,979.1L682.9,978.4L684.6,978.7L686.2,977.5L687.8,977.6L689.5,976.5L691.1,976.1L692.7,976.2L694.3,976.7L696.0,974.6L697.6,975.1L699.2,973.8L700.9,974.8L702.5,974.6L704.1,972.6L705.7,973.1L707.4,976.3L709.0,978.5L710.6,976.7L712.3,975.7L713.9,976.5L715.5,977.7L717.2,978.8L718.8,980.0L720.4,979.8L722.0,979.8L723.7,979.7L725.3,980.0L726.9,979.8L728.6,980.0L730.2,979.8L731.8,980.1L733.5,979.7L735.1,979.6L736.7,979.8L738.3,979.8L740.0,979.8L741.6,979.8L743.2,980.1L744.9,979.5L746.5,979.9L748.1,979.9L749.7,980.0L751.4,979.9L753.0,979.6L754.6,980.0L756.3,979.9L757.9,979.6L759.5,979.9L761.2,980.0L762.8,979.6L764.4,979.6L766.0,979.6L767.7,979.5L769.3,979.9L770.9,979.4L772.6,979.5L774.2,979.9L775.8,979.8L777.5,979.6L779.1,979.6L780.7,979.7L782.3,979.8L784.0,979.6L785.6,979.7L787.2,979.4L788.9,979.3L790.5,979.7L792.1,979.4L793.7,979.3L795.4,979.7L797.0,979.4L798.6,979.1L800.3,979.4L801.9,979.3L803.5,978.9L805.2,979.1L806.8,979.1L808.4,978.6L810.0,978.6L811.7,978.9L813.3,978.9L814.9,978.8L816.6,978.6L818.2,978.0L819.8,978.1L821.5,977.9L823.1,977.9L824.7,977.8L826.3,978.6L828.0,978.0L829.6,977.5L831.2,977.4L832.9,978.1L834.5,977.8L836.1,977.5L837.7,977.8L839.4,977.5L841.0,978.0L842.6,977.4L844.3,977.6L845.9,978.4L847.5,978.4L849.2,977.7L850.8,978.1L852.4,978.2L854.0,978.7L855.7,978.8L857.3,979.0L858.9,979.4L860.6,979.2L862.2,978.0L863.8,977.9L865.5,976.7L867.1,976.7L868.7,975.6L870.3,974.2L872.0,974.1L873.6,974.0L875.2,976.6L876.9,979.5L878.5,979.0L880.1,979.4L881.8,979.3L883.4,979.0L885.0,979.3L886.6,978.9L888.3,978.5L889.9,978.7L891.5,978.9L893.2,978.6L894.8,978.5L896.4,978.5L898.0,978.6L899.7,978.3L901.3,977.9L902.9,977.5L904.6,977.4L906.2,977.3L907.8,977.3L909.5,976.3L911.1,975.5L912.7,975.6L914.3,975.5L916.0,975.2L917.6,975.5L919.2,973.9L920.9,974.1L922.5,973.4L924.1,972.7L925.8,972.7L927.4,972.7L929.0,972.5L930.6,971.5L932.3,971.2L933.9,946.5L935.5,971.1L937.2,972.8L938.8,971.7L940.4,970.0L942.0,971.5L943.7,956.7L945.3,971.2L946.9,971.5L948.6,970.7L950.2,957.9L951.8,972.0L953.5,973.3L955.1,972.7L956.7,971.0L958.3,972.2L960.0,973.3L961.6,972.2L963.2,971.9L964.9,970.9L966.5,972.8L968.1,972.3L969.8,969.8L971.4,970.9L973.0,972.1L974.6,971.3L976.3,971.0L977.9,969.6L979.5,969.6L981.2,968.5L982.8,968.4L984.4,969.3L986.0,968.2L987.7,967.9L989.3,968.3L990.9,969.0L992.6,968.0L994.2,968.5L995.8,968.0L997.5,971.2L999.1,968.7L1000.7,972.1L1002.3,969.6L1004.0,970.5L1005.6,971.0L1007.2,970.7L1008.9,970.9L1010.5,971.3L1012.1,969.9L1013.8,969.5L1015.4,970.3L1017.0,971.0L1018.6,970.7L1020.3,970.5L1021.9,969.5L1023.5,970.4L1025.2,970.3L1026.8,947.9L1028.4,971.3L1030.1,971.2L1031.7,968.9L1033.3,967.9L1034.9,968.6L1036.6,968.7L1038.2,947.8L1039.8,970.4L1041.5,971.5L1043.1,970.1L1044.7,970.1L1046.3,971.9L1048.0,969.1L1049.6,971.2L1051.2,969.5L1052.9,969.6L1054.5,969.3L1056.1,971.9L1057.8,971.2L1059.4,969.7L1061.0,972.8L1062.6,971.7L1064.3,970.8L1065.9,970.9L1067.5,969.2L1069.2,969.6L1070.8,970.2L1072.4,968.4L1074.1,969.9L1075.7,969.8L1077.3,969.0L1078.9,969.9L1080.6,969.9L1082.2,968.8L1083.8,969.6L1085.5,967.0L1087.1,968.4L1088.7,968.6L1090.3,958.4L1092.0,968.8L1093.6,968.8L1095.2,968.6L1096.9,936.4L1098.5,965.4L1100.1,965.3L1101.8,966.2L1103.4,966.5L1105.0,965.7L1106.6,964.0L1108.3,967.3L1109.9,966.4L1111.5,965.2L1113.2,968.3L1114.8,967.7L1116.4,964.7L1118.1,965.5L1119.7,967.1L1121.3,968.9L1122.9,965.3L1124.6,966.8L1126.2,957.5L1127.8,966.3L1129.5,966.5L1131.1,965.3L1132.7,964.8L1134.3,961.9L1136.0,958.3L1137.6,966.1L1139.2,967.5L1140.9,967.5L1142.5,965.1L1144.1,965.2L1145.8,966.3L1147.4,963.0L1149.0,964.7L1150.6,967.7L1152.3,965.7L1153.9,963.6L1155.5,965.4L1157.2,964.7L1158.8,913.5L1160.4,961.4L1162.1,960.1L1163.7,960.8L1165.3,960.8L1166.9,964.1L1168.6,962.7L1170.2,962.9L1171.8,965.0L1173.5,963.3L1175.1,964.5L1176.7,961.8L1178.3,964.1L1180.0,965.0L1181.6,966.6L1183.2,965.2L1184.9,948.7L1186.5,962.8L1188.1,962.8L1189.8,964.2L1191.4,962.3L1193.0,960.8L1194.6,962.3L1196.3,961.4L1197.9,964.4L1199.5,962.0L1201.2,958.9L1202.8,961.7L1204.4,958.8L1206.1,961.1L1207.7,960.7L1209.3,957.9L1210.9,953.5L1212.6,953.3L1214.2,960.7L1215.8,959.7L1217.5,956.6L1219.1,954.8L1220.7,955.7L1222.4,947.7L1224.0,951.0L1225.6,950.5L1227.2,957.7L1228.9,959.6L1230.5,961.2L1232.1,962.3L1233.8,955.3L1235.4,955.4L1237.0,959.0L1238.6,954.0L1240.3,954.1L1241.9,957.7L1243.5,954.8L1245.2,951.4L1246.8,954.8L1248.4,951.7L1250.1,958.3L1251.7,957.8L1253.3,956.0L1254.9,959.1L1256.6,960.2L1258.2,956.5L1259.8,959.8L1261.5,958.1L1263.1,962.2L1264.7,961.7L1266.4,946.3L1268.0,933.7L1269.6,908.4L1271.2,910.7L1272.9,898.6L1274.5,902.8L1276.1,845.2L1277.8,940.9L1279.4,940.8L1281.0,950.5L1282.6,951.9L1284.3,946.5L1285.9,950.5L1287.5,950.8L1289.2,950.6L1290.8,948.8L1292.4,946.6L1294.1,949.5L1295.7,940.4L1297.3,942.9L1298.9,944.0L1300.6,936.8L1302.2,949.6L1303.8,948.9L1305.5,907.9L1307.1,949.5L1308.7,948.3L1310.4,943.8L1312.0,943.4L1313.6,950.0L1315.2,946.1L1316.9,935.8L1318.5,932.8L1320.1,935.5L1321.8,951.6L1323.4,948.0L1325.0,953.7L1326.6,957.6L1328.3,957.2L1329.9,959.3L1331.5,956.8L1333.2,960.1L1334.8,955.4L1336.4,957.7L1338.1,959.3L1339.7,960.2L1341.3,958.1L1342.9,951.1L1344.6,936.0L1346.2,948.7L1347.8,950.6L1349.5,955.4L1351.1,962.4L1352.7,965.6L1354.4,966.0L1356.0,963.9L1357.6,963.8L1359.2,963.9L1360.9,963.5L1362.5,964.8L1364.1,963.6L1365.8,960.1L1367.4,960.7L1369.0,956.8L1370.7,959.6L1372.3,954.5L1373.9,954.8L1375.5,952.1L1377.2,951.3L1378.8,954.5L1380.4,951.5L1382.1,951.9L1383.7,952.5L1385.3,947.3L1386.9,950.9L1388.6,950.1L1390.2,945.4L1391.8,947.4L1393.5,949.3L1395.1,947.6L1396.7,955.0L1398.4,954.0L1400.0,956.7L1401.6,951.1L1403.2,952.7L1404.9,954.6L1406.5,954.0L1408.1,952.7L1409.8,931.5L1411.4,954.0L1413.0,952.1L1414.7,953.3L1416.3,950.2L1417.9,904.1L1419.5,956.9L1421.2,954.6L1422.8,953.4L1424.4,953.1L1426.1,958.5L1427.7,958.1L1429.3,956.7L1430.9,954.2L1432.6,954.6L1434.2,953.5L1435.8,956.3L1437.5,953.3L1439.1,949.7L1440.7,951.7L1442.4,947.3L1444.0,949.9L1445.6,948.5L1447.2,953.1L1448.9,951.3L1450.5,950.0L1452.1,952.1L1453.8,955.6L1455.4,947.3L1457.0,947.9L1458.7,951.4L1460.3,954.8L1461.9,946.2L1463.5,948.2L1465.2,953.6L1466.8,951.2L1468.4,949.5L1470.1,942.1L1471.7,946.5L1473.3,934.9L1474.9,936.6L1476.6,939.8L1478.2,871.1L1479.8,943.4L1481.5,941.9L1483.1,930.3L1484.7,928.8L1486.4,933.8L1488.0,917.8L1489.6,925.4L1491.2,923.0L1492.9,932.4L1494.5,939.3L1496.1,927.5L1497.8,922.6L1499.4,917.5L1501.0,931.9L1502.7,928.9L1504.3,935.4L1505.9,938.5L1507.5,941.1L1509.2,940.7L1510.8,923.0L1512.4,928.8L1514.1,910.5L1515.7,913.7L1517.3,931.6L1519.0,935.0L1520.6,927.5L1522.2,931.8L1523.8,932.6L1525.5,934.0L1527.1,939.1L1528.7,933.9L1530.4,932.5L1532.0,935.4L1533.6,931.2L1535.2,937.8L1536.9,930.8L1538.5,933.4L1540.1,939.1L1541.8,931.6L1543.4,932.4L1545.0,935.5L1546.7,927.6L1548.3,882.9L1549.9,931.2L1551.5,927.9L1553.2,936.5L1554.8,930.3L1556.4,934.6L1558.1,930.9L1559.7,932.5L1561.3,930.0L1563.0,939.5L1564.6,934.3L1566.2,928.4L1567.8,925.6L1569.5,914.5L1571.1,912.2L1572.7,931.9L1574.4,936.3L1576.0,931.7L1577.6,929.1L1579.2,926.8L1580.9,913.8L1582.5,924.6L1584.1,923.6L1585.8,922.1L1587.4,925.2L1589.0,917.2L1590.7,909.7L1592.3,941.0L1593.9,947.8L1595.5,951.9L1597.2,952.3L1598.8,947.3L1600.4,950.9L1602.1,958.1L1603.7,955.2L1605.3,951.3L1607.0,954.4L1608.6,957.9L1610.2,954.2L1611.8,954.2L1613.5,954.2L1615.1,952.2L1616.7,956.6L1618.4,947.2L1620.0,950.1L1621.6,950.2L1623.2,850.3L1624.9,939.7L1626.5,941.5L1628.1,884.1L1629.8,947.0L1631.4,947.4L1633.0,945.1L1634.7,947.3L1636.3,953.9L1637.9,955.8L1639.5,951.4L1641.2,949.1L1642.8,948.0L1644.4,954.9L1646.1,948.8L1647.7,948.0L1649.3,948.6L1651.0,951.2L1652.6,954.0L1654.2,948.1L1655.8,953.2L1657.5,953.0L1659.1,951.6L1660.7,953.6L1662.4,949.6L1664.0,955.3L1665.6,954.7L1667.2,952.6L1668.9,952.8L1670.5,928.2L1672.1,949.9L1673.8,949.2L1675.4,948.4L1677.0,954.5L1678.7,956.4L1680.3,959.2L1681.9,958.4L1683.5,954.6L1685.2,957.5L1686.8,950.4L1688.4,951.8L1690.1,947.2L1691.7,936.5L1693.3,944.0L1695.0,941.1L1696.6,930.4L1698.2,935.9L1699.8,928.2L1701.5,935.4L1703.1,923.0L1704.7,922.7L1706.4,923.5L1708.0,933.0L1709.6,936.3L1711.3,933.5L1712.9,936.3L1714.5,938.3L1716.1,938.6L1717.8,936.1L1719.4,930.0L1721.0,924.7L1722.7,920.5L1724.3,931.0L1725.9,923.7L1727.5,928.5L1729.2,931.6L1730.8,938.5L1732.4,939.7L1734.1,939.1L1735.7,931.1L1737.3,934.1L1739.0,930.2L1740.6,938.5L1742.2,937.0L1743.8,937.1L1745.5,938.7L1747.1,945.0L1748.7,941.3L1750.4,949.7L1752.0,941.8L1753.6,942.1L1755.3,943.8L1756.9,940.7L1758.5,938.3L1760.1,940.4L1761.8,899.4L1763.4,946.3L1765.0,946.1L1766.7,932.4L1768.3,932.8L1769.9,942.1L1771.5,944.8L1773.2,929.2L1774.8,914.3L1776.4,912.0L1778.1,920.7L1779.7,912.9L1781.3,910.2L1783.0,909.3L1784.6,585.0L1786.2,925.6L1787.8,936.4L1789.5,936.9L1791.1,919.3L1792.7,916.9L1794.4,931.2L1796.0,925.1L1797.6,939.0L1799.3,946.8L1800.9,945.4L1802.5,946.5L1804.1,845.4L1805.8,924.6L1807.4,926.7L1809.0,934.1L1810.7,947.1L1812.3,945.4L1813.9,843.9L1815.5,922.7L1817.2,920.4L1818.8,914.9L1820.4,889.5L1822.1,892.5L1823.7,914.3L1825.3,934.1L1827.0,911.9L1828.6,902.8L1830.2,901.2L1831.8,923.5L1833.5,929.9L1835.1,926.5L1836.7,937.6L1838.4,941.9L1840.0,927.4L1841.6,927.3L1843.3,920.5L1844.9,938.3L1846.5,941.7L1848.1,946.7L1849.8,942.6L1851.4,939.0L1853.0,937.7L1854.7,935.6L1856.3,942.6L1857.9,941.3L1859.6,941.3L1861.2,948.0L1862.8,949.3L1864.4,968.6L1864.4,981.5L445.0,981.5Z" fill="#5AC189" fill-opacity="0.2" stroke="none"/>
<path d="M445.0,980.2L446.6,980.0L448.3,980.3L449.9,980.4L451.5,980.4L453.1,980.4L454.8,980.4L456.4,980.4L458.0,980.2L459.7,980.1L461.3,980.3L462.9,980.1L464.6,980.1L466.2,980.5L467.8,980.3L469.4,980.3L471.1,980.5L472.7,980.1L474.3,980.4L476.0,980.3L477.6,980.3L479.2,980.2L480.9,980.3L482.5,980.4L484.1,980.4L485.7,980.5L487.4,980.2L489.0,980.2L490.6,980.5L492.3,980.6L493.9,980.5L495.5,980.5L497.1,980.3L498.8,980.3L500.4,980.3L502.0,980.6L503.7,980.3L505.3,980.4L506.9,980.4L508.6,980.3L510.2,980.6L511.8,980.6L513.4,980.4L515.1,979.6L516.7,979.0L518.3,978.7L520.0,977.7L521.6,977.0L523.2,979.1L524.9,980.5L526.5,980.5L528.1,980.6L529.7,980.5L531.4,980.6L533.0,980.5L534.6,980.6L536.3,980.4L537.9,980.6L539.5,980.4L541.2,980.5L542.8,980.6L544.4,980.3L546.0,980.5L547.7,980.3L549.3,980.3L550.9,980.3L552.6,980.5L554.2,980.4L555.8,980.5L557.4,980.2L559.1,980.3L560.7,980.3L562.3,980.4L564.0,980.4L565.6,980.3L567.2,980.4L568.9,980.3L570.5,980.5L572.1,980.5L573.7,980.5L575.4,980.3L577.0,980.3L578.6,980.5L580.3,980.2L581.9,980.4L583.5,980.4L585.2,980.5L586.8,980.4L588.4,980.2L590.0,980.4L591.7,980.4L593.3,980.3L594.9,980.4L596.6,980.2L598.2,980.5L599.8,980.1L601.4,980.5L603.1,980.1L604.7,980.2L606.3,980.4L608.0,980.3L609.6,980.4L611.2,980.4L612.9,980.4L614.5,980.3L616.1,980.1L617.7,980.1L619.4,980.1L621.0,980.4L622.6,980.3L624.3,980.1L625.9,980.4L627.5,980.1L629.2,980.3L630.8,980.0L632.4,980.4L634.0,980.1L635.7,980.3L637.3,980.3L638.9,975.2L640.6,967.4L642.2,974.0L643.8,980.3L645.4,980.2L647.1,980.0L648.7,980.2L650.3,980.0L652.0,980.2L653.6,980.2L655.2,979.8L656.9,979.8L658.5,980.1L660.1,980.1L661.7,980.0L663.4,979.7L665.0,979.8L666.6,979.9L668.3,979.9L669.9,979.6L671.5,979.5L673.2,979.4L674.8,979.5L676.4,979.7L678.0,979.8L679.7,979.4L681.3,979.1L682.9,978.4L684.6,978.7L686.2,977.5L687.8,977.6L689.5,976.5L691.1,976.1L692.7,976.2L694.3,976.7L696.0,974.6L697.6,975.1L699.2,973.8L700.9,974.8L702.5,974.6L704.1,972.6L705.7,973.1L707.4,976.3L709.0,978.5L710.6,976.7L712.3,975.7L713.9,976.5L715.5,977.7L717.2,978.8L718.8,980.0L720.4,979.8L722.0,979.8L723.7,979.7L725.3,980.0L726.9,979.8L728.6,980.0L730.2,979.8L731.8,980.1L733.5,979.7L735.1,979.6L736.7,979.8L738.3,979.8L740.0,979.8L741.6,979.8L743.2,980.1L744.9,979.5L746.5,979.9L748.1,979.9L749.7,980.0L751.4,979.9L753.0,979.6L754.6,980.0L756.3,979.9L757.9,979.6L759.5,979.9L761.2,980.0L762.8,979.6L764.4,979.6L766.0,979.6L767.7,979.5L769.3,979.9L770.9,979.4L772.6,979.5L774.2,979.9L775.8,979.8L777.5,979.6L779.1,979.6L780.7,979.7L782.3,979.8L784.0,979.6L785.6,979.7L787.2,979.4L788.9,979.3L790.5,979.7L792.1,979.4L793.7,979.3L795.4,979.7L797.0,979.4L798.6,979.1L800.3,979.4L801.9,979.3L803.5,978.9L805.2,979.1L806.8,979.1L808.4,978.6L810.0,978.6L811.7,978.9L813.3,978.9L814.9,978.8L816.6,978.6L818.2,978.0L819.8,978.1L821.5,977.9L823.1,977.9L824.7,977.8L826.3,978.6L828.0,978.0L829.6,977.5L831.2,977.4L832.9,978.1L834.5,977.8L836.1,977.5L837.7,977.8L839.4,977.5L841.0,978.0L842.6,977.4L844.3,977.6L845.9,978.4L847.5,978.4L849.2,977.7L850.8,978.1L852.4,978.2L854.0,978.7L855.7,978.8L857.3,979.0L858.9,979.4L860.6,979.2L862.2,978.0L863.8,977.9L865.5,976.7L867.1,976.7L868.7,975.6L870.3,974.2L872.0,974.1L873.6,974.0L875.2,976.6L876.9,979.5L878.5,979.0L880.1,979.4L881.8,979.3L883.4,979.0L885.0,979.3L886.6,978.9L888.3,978.5L889.9,978.7L891.5,978.9L893.2,978.6L894.8,978.5L896.4,978.5L898.0,978.6L899.7,978.3L901.3,977.9L902.9,977.5L904.6,977.4L906.2,977.3L907.8,977.3L909.5,976.3L911.1,975.5L912.7,975.6L914.3,975.5L916.0,975.2L917.6,975.5L919.2,973.9L920.9,974.1L922.5,973.4L924.1,972.7L925.8,972.7L927.4,972.7L929.0,972.5L930.6,971.5L932.3,971.2L933.9,946.5L935.5,971.1L937.2,972.8L938.8,971.7L940.4,970.0L942.0,971.5L943.7,956.7L945.3,971.2L946.9,971.5L948.6,970.7L950.2,957.9L951.8,972.0L953.5,973.3L955.1,972.7L956.7,971.0L958.3,972.2L960.0,973.3L961.6,972.2L963.2,971.9L964.9,970.9L966.5,972.8L968.1,972.3L969.8,969.8L971.4,970.9L973.0,972.1L974.6,971.3L976.3,971.0L977.9,969.6L979.5,969.6L981.2,968.5L982.8,968.4L984.4,969.3L986.0,968.2L987.7,967.9L989.3,968.3L990.9,969.0L992.6,968.0L994.2,968.5L995.8,968.0L997.5,971.2L999.1,968.7L1000.7,972.1L1002.3,969.6L1004.0,970.5L1005.6,971.0L1007.2,970.7L1008.9,970.9L1010.5,971.3L1012.1,969.9L1013.8,969.5L1015.4,970.3L1017.0,971.0L1018.6,970.7L1020.3,970.5L1021.9,969.5L1023.5,970.4L1025.2,970.3L1026.8,947.9L1028.4,971.3L1030.1,971.2L1031.7,968.9L1033.3,967.9L1034.9,968.6L1036.6,968.7L1038.2,947.8L1039.8,970.4L1041.5,971.5L1043.1,970.1L1044.7,970.1L1046.3,971.9L1048.0,969.1L1049.6,971.2L1051.2,969.5L1052.9,969.6L1054.5,969.3L1056.1,971.9L1057.8,971.2L1059.4,969.7L1061.0,972.8L1062.6,971.7L1064.3,970.8L1065.9,970.9L1067.5,969.2L1069.2,969.6L1070.8,970.2L1072.4,968.4L1074.1,969.9L1075.7,969.8L1077.3,969.0L1078.9,969.9L1080.6,969.9L1082.2,968.8L1083.8,969.6L1085.5,967.0L1087.1,968.4L1088.7,968.6L1090.3,958.4L1092.0,968.8L1093.6,968.8L1095.2,968.6L1096.9,936.4L1098.5,965.4L1100.1,965.3L1101.8,966.2L1103.4,966.5L1105.0,965.7L1106.6,964.0L1108.3,967.3L1109.9,966.4L1111.5,965.2L1113.2,968.3L1114.8,967.7L1116.4,964.7L1118.1,965.5L1119.7,967.1L1121.3,968.9L1122.9,965.3L1124.6,966.8L1126.2,957.5L1127.8,966.3L1129.5,966.5L1131.1,965.3L1132.7,964.8L1134.3,961.9L1136.0,958.3L1137.6,966.1L1139.2,967.5L1140.9,967.5L1142.5,965.1L1144.1,965.2L1145.8,966.3L1147.4,963.0L1149.0,964.7L1150.6,967.7L1152.3,965.7L1153.9,963.6L1155.5,965.4L1157.2,964.7L1158.8,913.5L1160.4,961.4L1162.1,960.1L1163.7,960.8L1165.3,960.8L1166.9,964.1L1168.6,962.7L1170.2,962.9L1171.8,965.0L1173.5,963.3L1175.1,964.5L1176.7,961.8L1178.3,964.1L1180.0,965.0L1181.6,966.6L1183.2,965.2L1184.9,948.7L1186.5,962.8L1188.1,962.8L1189.8,964.2L1191.4,962.3L1193.0,960.8L1194.6,962.3L1196.3,961.4L1197.9,964.4L1199.5,962.0L1201.2,958.9L1202.8,961.7L1204.4,958.8L1206.1,961.1L1207.7,960.7L1209.3,957.9L1210.9,953.5L1212.6,953.3L1214.2,960.7L1215.8,959.7L1217.5,956.6L1219.1,954.8L1220.7,955.7L1222.4,947.7L1224.0,951.0L1225.6,950.5L1227.2,957.7L1228.9,959.6L1230.5,961.2L1232.1,962.3L1233.8,955.3L1235.4,955.4L1237.0,959.0L1238.6,954.0L1240.3,954.1L1241.9,957.7L1243.5,954.8L1245.2,951.4L1246.8,954.8L1248.4,951.7L1250.1,958.3L1251.7,957.8L1253.3,956.0L1254.9,959.1L1256.6,960.2L1258.2,956.5L1259.8,959.8L1261.5,958.1L1263.1,962.2L1264.7,961.7L1266.4,946.3L1268.0,933.7L1269.6,908.4L1271.2,910.7L1272.9,898.6L1274.5,902.8L1276.1,845.2L1277.8,940.9L1279.4,940.8L1281.0,950.5L1282.6,951.9L1284.3,946.5L1285.9,950.5L1287.5,950.8L1289.2,950.6L1290.8,948.8L1292.4,946.6L1294.1,949.5L1295.7,940.4L1297.3,942.9L1298.9,944.0L1300.6,936.8L1302.2,949.6L1303.8,948.9L1305.5,907.9L1307.1,949.5L1308.7,948.3L1310.4,943.8L1312.0,943.4L1313.6,950.0L1315.2,946.1L1316.9,935.8L1318.5,932.8L1320.1,935.5L1321.8,951.6L1323.4,948.0L1325.0,953.7L1326.6,957.6L1328.3,957.2L1329.9,959.3L1331.5,956.8L1333.2,960.1L1334.8,955.4L1336.4,957.7L1338.1,959.3L1339.7,960.2L1341.3,958.1L1342.9,951.1L1344.6,936.0L1346.2,948.7L1347.8,950.6L1349.5,955.4L1351.1,962.4L1352.7,965.6L1354.4,966.0L1356.0,963.9L1357.6,963.8L1359.2,963.9L1360.9,963.5L1362.5,964.8L1364.1,963.6L1365.8,960.1L1367.4,960.7L1369.0,956.8L1370.7,959.6L1372.3,954.5L1373.9,954.8L1375.5,952.1L1377.2,951.3L1378.8,954.5L1380.4,951.5L1382.1,951.9L1383.7,952.5L1385.3,947.3L1386.9,950.9L1388.6,950.1L1390.2,945.4L1391.8,947.4L1393.5,949.3L1395.1,947.6L1396.7,955.0L1398.4,954.0L1400.0,956.7L1401.6,951.1L1403.2,952.7L1404.9,954.6L1406.5,954.0L1408.1,952.7L1409.8,931.5L1411.4,954.0L1413.0,952.1L1414.7,953.3L1416.3,950.2L1417.9,904.1L1419.5,956.9L1421.2,954.6L1422.8,953.4L1424.4,953.1L1426.1,958.5L1427.7,958.1L1429.3,956.7L1430.9,954.2L1432.6,954.6L1434.2,953.5L1435.8,956.3L1437.5,953.3L1439.1,949.7L1440.7,951.7L1442.4,947.3L1444.0,949.9L1445.6,948.5L1447.2,953.1L1448.9,951.3L1450.5,950.0L1452.1,952.1L1453.8,955.6L1455.4,947.3L1457.0,947.9L1458.7,951.4L1460.3,954.8L1461.9,946.2L1463.5,948.2L1465.2,953.6L1466.8,951.2L1468.4,949.5L1470.1,942.1L1471.7,946.5L1473.3,934.9L1474.9,936.6L1476.6,939.8L1478.2,871.1L1479.8,943.4L1481.5,941.9L1483.1,930.3L1484.7,928.8L1486.4,933.8L1488.0,917.8L1489.6,925.4L1491.2,923.0L1492.9,932.4L1494.5,939.3L1496.1,927.5L1497.8,922.6L1499.4,917.5L1501.0,931.9L1502.7,928.9L1504.3,935.4L1505.9,938.5L1507.5,941.1L1509.2,940.7L1510.8,923.0L1512.4,928.8L1514.1,910.5L1515.7,913.7L1517.3,931.6L1519.0,935.0L1520.6,927.5L1522.2,931.8L1523.8,932.6L1525.5,934.0L1527.1,939.1L1528.7,933.9L1530.4,932.5L1532.0,935.4L1533.6,931.2L1535.2,937.8L1536.9,930.8L1538.5,933.4L1540.1,939.1L1541.8,931.6L1543.4,932.4L1545.0,935.5L1546.7,927.6L1548.3,882.9L1549.9,931.2L1551.5,927.9L1553.2,936.5L1554.8,930.3L1556.4,934.6L1558.1,930.9L1559.7,932.5L1561.3,930.0L1563.0,939.5L1564.6,934.3L1566.2,928.4L1567.8,925.6L1569.5,914.5L1571.1,912.2L1572.7,931.9L1574.4,936.3L1576.0,931.7L1577.6,929.1L1579.2,926.8L1580.9,913.8L1582.5,924.6L1584.1,923.6L1585.8,922.1L1587.4,925.2L1589.0,917.2L1590.7,909.7L1592.3,941.0L1593.9,947.8L1595.5,951.9L1597.2,952.3L1598.8,947.3L1600.4,950.9L1602.1,958.1L1603.7,955.2L1605.3,951.3L1607.0,954.4L1608.6,957.9L1610.2,954.2L1611.8,954.2L1613.5,954.2L1615.1,952.2L1616.7,956.6L1618.4,947.2L1620.0,950.1L1621.6,950.2L1623.2,850.3L1624.9,939.7L1626.5,941.5L1628.1,884.1L1629.8,947.0L1631.4,947.4L1633.0,945.1L1634.7,947.3L1636.3,953.9L1637.9,955.8L1639.5,951.4L1641.2,949.1L1642.8,948.0L1644.4,954.9L1646.1,948.8L1647.7,948.0L1649.3,948.6L1651.0,951.2L1652.6,954.0L1654.2,948.1L1655.8,953.2L1657.5,953.0L1659.1,951.6L1660.7,953.6L1662.4,949.6L1664.0,955.3L1665.6,954.7L1667.2,952.6L1668.9,952.8L1670.5,928.2L1672.1,949.9L1673.8,949.2L1675.4,948.4L1677.0,954.5L1678.7,956.4L1680.3,959.2L1681.9,958.4L1683.5,954.6L1685.2,957.5L1686.8,950.4L1688.4,951.8L1690.1,947.2L1691.7,936.5L1693.3,944.0L1695.0,941.1L1696.6,930.4L1698.2,935.9L1699.8,928.2L1701.5,935.4L1703.1,923.0L1704.7,922.7L1706.4,923.5L1708.0,933.0L1709.6,936.3L1711.3,933.5L1712.9,936.3L1714.5,938.3L1716.1,938.6L1717.8,936.1L1719.4,930.0L1721.0,924.7L1722.7,920.5L1724.3,931.0L1725.9,923.7L1727.5,928.5L1729.2,931.6L1730.8,938.5L1732.4,939.7L1734.1,939.1L1735.7,931.1L1737.3,934.1L1739.0,930.2L1740.6,938.5L1742.2,937.0L1743.8,937.1L1745.5,938.7L1747.1,945.0L1748.7,941.3L1750.4,949.7L1752.0,941.8L1753.6,942.1L1755.3,943.8L1756.9,940.7L1758.5,938.3L1760.1,940.4L1761.8,899.4L1763.4,946.3L1765.0,946.1L1766.7,932.4L1768.3,932.8L1769.9,942.1L1771.5,944.8L1773.2,929.2L1774.8,914.3L1776.4,912.0L1778.1,920.7L1779.7,912.9L1781.3,910.2L1783.0,909.3L1784.6,585.0L1786.2,925.6L1787.8,936.4L1789.5,936.9L1791.1,919.3L1792.7,916.9L1794.4,931.2L1796.0,925.1L1797.6,939.0L1799.3,946.8L1800.9,945.4L1802.5,946.5L1804.1,845.4L1805.8,924.6L1807.4,926.7L1809.0,934.1L1810.7,947.1L1812.3,945.4L1813.9,843.9L1815.5,922.7L1817.2,920.4L1818.8,914.9L1820.4,889.5L1822.1,892.5L1823.7,914.3L1825.3,934.1L1827.0,911.9L1828.6,902.8L1830.2,901.2L1831.8,923.5L1833.5,929.9L1835.1,926.5L1836.7,937.6L1838.4,941.9L1840.0,927.4L1841.6,927.3L1843.3,920.5L1844.9,938.3L1846.5,941.7L1848.1,946.7L1849.8,942.6L1851.4,939.0L1853.0,937.7L1854.7,935.6L1856.3,942.6L1857.9,941.3L1859.6,941.3L1861.2,948.0L1862.8,949.3L1864.4,968.6" stroke="#5AC189"/>
<path d="M445.0,980.9L446.6,980.9L448.3,980.8L449.9,980.8L451.5,980.9L453.1,980.8L454.8,980.9L456.4,980.8L458.0,980.8L459.7,980.8L461.3,980.9L462.9,980.9L464.6,980.8L466.2,980.7L467.8,980.8L469.4,980.9L471.1,980.8L472.7,980.9L474.3,980.8L476.0,980.7L477.6,980.9L479.2,980.7L480.9,980.7L482.5,980.8L484.1,980.8L485.7,980.8L487.4,980.7L489.0,980.7L490.6,980.8L492.3,977.9L493.9,974.1L495.5,980.7L497.1,980.8L498.8,980.7L500.4,980.8L502.0,980.7L503.7,980.8L505.3,980.8L506.9,980.6L508.6,980.7L510.2,980.7L511.8,980.6L513.4,980.6L515.1,980.9L516.7,980.8L518.3,980.8L520.0,980.7L521.6,980.6L523.2,980.6L524.9,980.9L526.5,980.8L528.1,980.6L529.7,980.7L531.4,980.8L533.0,980.7L534.6,980.8L536.3,980.6L537.9,980.8L539.5,980.6L541.2,980.7L542.8,980.8L544.4,980.8L546.0,980.8L547.7,980.6L549.3,980.7L550.9,980.8L552.6,980.8L554.2,980.8L555.8,980.7L557.4,980.7L559.1,980.8L560.7,980.8L562.3,980.9L564.0,980.7L565.6,980.8L567.2,980.9L568.9,980.7L570.5,980.6L572.1,980.8L573.7,980.8L575.4,980.7L577.0,980.8L578.6,980.8L580.3,980.7L581.9,980.8L583.5,980.7L585.2,980.7L586.8,980.6L588.4,980.6L590.0,980.9L591.7,980.7L593.3,980.7L594.9,980.6L596.6,980.7L598.2,980.7L599.8,980.7L601.4,980.8L603.1,980.8L604.7,980.7L606.3,980.6L608.0,980.6L609.6,980.7L611.2,980.8L612.9,980.7L614.5,980.7L616.1,980.7L617.7,980.7L619.4,980.8L621.0,980.7L622.6,980.8L624.3,980.8L625.9,980.8L627.5,980.8L629.2,980.6L630.8,980.7L632.4,980.8L634.0,980.8L635.7,980.8L637.3,980.8L638.9,980.8L640.6,980.9L642.2,980.6L643.8,980.7L645.4,980.7L647.1,980.7L648.7,980.8L650.3,980.8L652.0,980.8L653.6,980.8L655.2,980.8L656.9,980.7L658.5,980.7L660.1,980.6L661.7,980.8L663.4,980.6L665.0,980.7L666.6,980.8L668.3,980.8L669.9,980.7L671.5,980.6L673.2,980.8L674.8,980.7L676.4,980.7L678.0,980.6L679.7,980.8L681.3,980.7L682.9,980.6L684.6,980.8L686.2,980.8L687.8,980.9L689.5,980.8L691.1,980.8L692.7,980.7L694.3,980.8L696.0,980.8L697.6,980.8L699.2,980.7L700.9,980.6L702.5,980.7L704.1,980.8L705.7,980.7L707.4,980.6L709.0,980.7L710.6,980.8L712.3,980.6L713.9,980.6L715.5,980.8L717.2,980.8L718.8,980.8L720.4,980.7L722.0,980.6L723.7,980.7L725.3,980.6L726.9,980.8L728.6,980.8L730.2,980.7L731.8,980.7L733.5,980.8L735.1,980.7L736.7,980.8L738.3,980.8L740.0,980.8L741.6,980.8L743.2,980.7L744.9,980.8L746.5,980.7L748.1,980.7L749.7,980.8L751.4,980.7L753.0,980.9L754.6,980.6L756.3,980.7L757.9,980.6L759.5,980.8L761.2,980.7L762.8,980.7L764.4,980.8L766.0,980.8L767.7,980.8L769.3,980.8L770.9,980.7L772.6,980.8L774.2,980.6L775.8,980.7L777.5,980.7L779.1,980.7L780.7,980.7L782.3,980.7L784.0,980.7L785.6,980.8L787.2,980.7L788.9,980.8L790.5,980.7L792.1,980.7L793.7,980.7L795.4,980.8L797.0,980.7L798.6,980.6L800.3,980.7L801.9,980.8L803.5,980.7L805.2,980.6L806.8,980.8L808.4,980.9L810.0,980.7L811.7,980.7L813.3,980.7L814.9,980.8L816.6,980.6L818.2,980.8L819.8,980.7L821.5,980.8L823.1,980.9L824.7,980.8L826.3,980.8L828.0,980.7L829.6,980.7L831.2,980.8L832.9,980.6L834.5,980.8L836.1,980.8L837.7,980.8L839.4,980.7L841.0,980.6L842.6,980.8L844.3,980.9L845.9,980.7L847.5,980.8L849.2,980.6L850.8,980.7L852.4,980.7L854.0,980.8L855.7,980.6L857.3,980.7L858.9,980.8L860.6,980.6L862.2,980.8L863.8,980.7L865.5,980.8L867.1,980.7L868.7,980.8L870.3,980.6L872.0,980.8L873.6,980.7L875.2,980.8L876.9,980.6L878.5,980.6L880.1,980.7L881.8,980.8L883.4,980.8L885.0,980.8L886.6,980.7L888.3,980.8L889.9,980.8L891.5,980.7L893.2,980.7L894.8,976.5L896.4,975.4L898.0,976.8L899.7,976.1L901.3,976.8L902.9,975.5L904.6,975.4L906.2,976.5L907.8,975.6L909.5,975.4L911.1,976.4L912.7,976.2L914.3,975.9L916.0,975.6L917.6,976.4L919.2,975.3L920.9,975.4L922.5,975.6L924.1,975.2L925.8,974.5L927.4,975.8L929.0,974.3L930.6,975.3L932.3,974.3L933.9,974.0L935.5,975.5L937.2,973.8L938.8,973.4L940.4,974.9L942.0,975.5L943.7,975.2L945.3,973.0L946.9,975.3L948.6,972.9L950.2,974.8L951.8,973.6L953.5,974.9L955.1,974.7L956.7,973.4L958.3,974.9L960.0,974.3L961.6,972.8L963.2,973.4L964.9,973.0L966.5,972.8L968.1,975.2L969.8,974.7L971.4,973.3L973.0,973.6L974.6,975.3L976.3,974.1L977.9,974.8L979.5,974.3L981.2,975.2L982.8,975.4L984.4,973.0L986.0,974.7L987.7,973.3L989.3,974.6L990.9,974.2L992.6,975.0L994.2,974.2L995.8,974.8L997.5,973.4L999.1,974.7L1000.7,973.0L1002.3,973.6L1004.0,974.5L1005.6,973.8L1007.2,973.3L1008.9,972.0L1010.5,973.6L1012.1,973.9L1013.8,971.6L1015.4,971.7L1017.0,972.1L1018.6,973.4L1020.3,973.6L1021.9,973.2L1023.5,973.8L1025.2,973.8L1026.8,972.2L1028.4,972.3L1030.1,971.6L1031.7,972.1L1033.3,973.1L1034.9,971.0L1036.6,971.0L1038.2,953.3L1039.8,971.2L1041.5,970.7L1043.1,969.9L1044.7,970.4L1046.3,971.1L1048.0,972.3L1049.6,972.7L1051.2,972.5L1052.9,970.9L1054.5,972.9L1056.1,973.0L1057.8,973.1L1059.4,974.0L1061.0,971.7L1062.6,973.8L1064.3,972.9L1065.9,972.0L1067.5,973.8L1069.2,972.8L1070.8,973.4L1072.4,973.8L1074.1,973.8L1075.7,974.0L1077.3,971.9L1078.9,972.0L1080.6,971.6L1082.2,974.1L1083.8,972.1L1085.5,973.2L1087.1,972.2L1088.7,972.4L1090.3,973.1L1092.0,971.0L1093.6,974.0L1095.2,971.6L1096.9,971.2L1098.5,972.3L1100.1,972.1L1101.8,970.6L1103.4,972.9L1105.0,971.6L1106.6,971.1L1108.3,972.2L1109.9,971.0L1111.5,972.0L1113.2,971.4L1114.8,971.1L1116.4,970.7L1118.1,971.9L1119.7,970.7L1121.3,970.9L1122.9,972.0L1124.6,970.5L1126.2,971.7L1127.8,969.2L1129.5,970.7L1131.1,969.7L1132.7,970.4L1134.3,970.5L1136.0,971.3L1137.6,970.7L1139.2,968.2L1140.9,969.5L1142.5,969.2L1144.1,968.9L1145.8,967.4L1147.4,969.7L1149.0,969.7L1150.6,966.5L1152.3,967.8L1153.9,966.7L1155.5,966.5L1157.2,965.3L1158.8,965.6L1160.4,969.7L1162.1,968.2L1163.7,966.2L1165.3,966.4L1166.9,969.7L1168.6,969.7L1170.2,969.4L1171.8,970.2L1173.5,969.1L1175.1,968.2L1176.7,968.7L1178.3,969.2L1180.0,970.9L1181.6,969.8L1183.2,967.5L1184.9,969.0L1186.5,970.1L1188.1,970.2L1189.8,969.2L1191.4,969.5L1193.0,972.0L1194.6,970.2L1196.3,971.5L1197.9,971.2L1199.5,974.0L1201.2,973.9L1202.8,973.8L1204.4,973.5L1206.1,974.3L1207.7,973.6L1209.3,972.3L1210.9,973.7L1212.6,973.1L1214.2,971.1L1215.8,972.4L1217.5,972.0L1219.1,971.5L1220.7,970.4L1222.4,973.1L1224.0,971.6L1225.6,971.2L1227.2,973.5L1228.9,973.1L1230.5,972.3L1232.1,973.1L1233.8,974.1L1235.4,975.2L1237.0,974.3L1238.6,974.5L1240.3,973.6L1241.9,974.5L1243.5,974.2L1245.2,973.4L1246.8,972.9L1248.4,974.0L1250.1,973.8L1251.7,973.2L1253.3,972.2L1254.9,974.1L1256.6,971.8L1258.2,972.4L1259.8,973.3L1261.5,972.4L1263.1,972.9L1264.7,970.4L1266.4,962.8L1268.0,960.9L1269.6,955.7L1271.2,955.8L1272.9,952.3L1274.5,953.5L1276.1,957.2L1277.8,956.7L1279.4,959.5L1281.0,961.0L1282.6,959.0L1284.3,962.2L1285.9,962.2L1287.5,959.9L1289.2,963.1L1290.8,963.2L1292.4,963.5L1294.1,961.1L1295.7,961.7L1297.3,960.8L1298.9,962.7L1300.6,964.8L1302.2,960.1L1303.8,960.8L1305.5,960.4L1307.1,961.8L1308.7,967.0L1310.4,966.6L1312.0,967.9L1313.6,963.5L1315.2,967.0L1316.9,966.8L1318.5,962.4L1320.1,963.4L1321.8,964.9L1323.4,959.1L1325.0,957.2L1326.6,957.5L1328.3,957.1L1329.9,950.5L1331.5,949.8L1333.2,945.1L1334.8,938.4L1336.4,939.7L1338.1,941.2L1339.7,945.3L1341.3,940.2L1342.9,935.1L1344.6,940.8L1346.2,927.1L1347.8,937.6L1349.5,939.0L1351.1,939.4L1352.7,936.6L1354.4,935.3L1356.0,944.8L1357.6,950.6L1359.2,953.1L1360.9,958.3L1362.5,956.4L1364.1,949.7L1365.8,949.5L1367.4,949.1L1369.0,956.7L1370.7,959.0L1372.3,959.6L1373.9,956.3L1375.5,956.1L1377.2,953.3L1378.8,949.9L1380.4,945.4L1382.1,943.5L1383.7,939.7L1385.3,948.0L1386.9,939.6L1388.6,945.3L1390.2,950.3L1391.8,946.2L1393.5,942.8L1395.1,946.6L1396.7,947.3L1398.4,951.3L1400.0,955.4L1401.6,954.9L1403.2,953.9L1404.9,945.5L1406.5,942.6L1408.1,945.2L1409.8,949.1L1411.4,946.4L1413.0,953.4L1414.7,950.7L1416.3,959.2L1417.9,956.9L1419.5,956.2L1421.2,959.6L1422.8,953.3L1424.4,958.4L1426.1,951.6L1427.7,951.8L1429.3,942.7L1430.9,943.7L1432.6,939.9L1434.2,948.6L1435.8,955.3L1437.5,948.8L1439.1,946.4L1440.7,951.4L1442.4,949.4L1444.0,952.1L1445.6,940.4L1447.2,944.3L1448.9,948.6L1450.5,949.1L1452.1,940.9L1453.8,939.4L1455.4,945.9L1457.0,942.2L1458.7,944.0L1460.3,936.9L1461.9,939.1L1463.5,945.7L1465.2,942.5L1466.8,939.7L1468.4,950.0L1470.1,942.1L1471.7,948.9L1473.3,947.6L1474.9,939.2L1476.6,939.3L1478.2,932.3L1479.8,945.2L1481.5,946.4L1483.1,947.6L1484.7,938.4L1486.4,942.1L1488.0,937.1L1489.6,935.6L1491.2,944.3L1492.9,949.8L1494.5,946.1L1496.1,944.9L1497.8,948.1L1499.4,943.2L1501.0,948.3L1502.7,942.5L1504.3,938.1L1505.9,940.7L1507.5,936.0L1509.2,942.8L1510.8,933.4L1512.4,940.4L1514.1,926.6L1515.7,929.8L1517.3,920.4L1519.0,923.6L1520.6,921.3L1522.2,921.3L1523.8,910.8L1525.5,914.7L1527.1,910.8L1528.7,932.8L1530.4,930.2L1532.0,920.8L1533.6,923.0L1535.2,922.1L1536.9,933.6L1538.5,935.6L1540.1,934.0L1541.8,921.2L1543.4,917.3L1545.0,921.8L1546.7,918.2L1548.3,935.4L1549.9,929.7L1551.5,927.2L1553.2,928.7L1554.8,912.4L1556.4,916.0L1558.1,933.6L1559.7,933.6L1561.3,930.1L1563.0,930.6L1564.6,920.6L1566.2,934.5L1567.8,933.6L1569.5,935.2L1571.1,936.1L1572.7,924.5L1574.4,936.4L1576.0,932.7L1577.6,936.3L1579.2,927.1L1580.9,920.1L1582.5,924.5L1584.1,907.4L1585.8,905.6L1587.4,918.7L1589.0,932.0L1590.7,928.7L1592.3,936.0L1593.9,920.7L1595.5,925.9L1597.2,939.5L1598.8,964.2L1600.4,961.5L1602.1,965.7L1603.7,963.6L1605.3,965.4L1607.0,967.0L1608.6,969.4L1610.2,969.3L1611.8,967.4L1613.5,970.9L1615.1,969.7L1616.7,966.6L1618.4,966.1L1620.0,961.0L1621.6,954.3L1623.2,953.7L1624.9,954.9L1626.5,956.2L1628.1,949.3L1629.8,950.8L1631.4,954.5L1633.0,954.5L1634.7,954.9L1636.3,947.7L1637.9,950.6L1639.5,943.6L1641.2,947.6L1642.8,944.0L1644.4,952.5L1646.1,954.9L1647.7,956.0L1649.3,956.0L1651.0,959.1L1652.6,957.3L1654.2,962.6L1655.8,961.5L1657.5,962.8L1659.1,958.4L1660.7,955.7L1662.4,959.2L1664.0,956.3L1665.6,961.9L1667.2,959.3L1668.9,960.9L1670.5,957.1L1672.1,954.4L1673.8,955.1L1675.4,960.3L1677.0,959.6L1678.7,958.1L1680.3,953.6L1681.9,960.5L1683.5,955.4L1685.2,951.9L1686.8,948.5L1688.4,951.3L1690.1,944.0L1691.7,945.7L1693.3,938.9L1695.0,945.2L1696.6,932.7L1698.2,936.6L1699.8,932.9L1701.5,930.1L1703.1,935.7L1704.7,933.9L1706.4,936.5L1708.0,944.5L1709.6,938.9L1711.3,932.3L1712.9,940.0L1714.5,944.3L1716.1,946.2L1717.8,940.7L1719.4,941.4L1721.0,946.9L1722.7,944.5L1724.3,940.4L1725.9,932.7L1727.5,926.8L1729.2,928.5L1730.8,934.4L1732.4,944.3L1734.1,940.7L1735.7,937.2L1737.3,937.5L1739.0,946.5L1740.6,939.3L1742.2,944.1L1743.8,948.1L1745.5,943.5L1747.1,942.7L1748.7,941.1L1750.4,948.3L1752.0,941.4L1753.6,940.9L1755.3,944.9L1756.9,950.2L1758.5,954.8L1760.1,950.3L1761.8,950.3L1763.4,948.2L1765.0,940.1L1766.7,937.1L1768.3,935.9L1769.9,948.0L1771.5,951.7L1773.2,942.5L1774.8,930.0L1776.4,944.6L1778.1,943.5L1779.7,942.9L1781.3,950.1L1783.0,946.7L1784.6,944.1L1786.2,934.4L1787.8,937.1L1789.5,941.6L1791.1,942.4L1792.7,939.0L1794.4,943.9L1796.0,947.2L1797.6,950.9L1799.3,948.6L1800.9,952.2L1802.5,952.6L1804.1,930.1L1805.8,954.8L1807.4,956.1L1809.0,954.4L1810.7,942.3L1812.3,933.5L1813.9,933.6L1815.5,940.4L1817.2,949.4L1818.8,940.5L1820.4,940.4L1822.1,939.7L1823.7,947.8L1825.3,944.7L1827.0,934.6L1828.6,935.7L1830.2,940.2L1831.8,948.2L1833.5,949.3L1835.1,950.2L1836.7,947.9L1838.4,944.0L1840.0,943.1L1841.6,946.4L1843.3,944.8L1844.9,948.3L1846.5,947.3L1848.1,945.4L1849.8,939.0L1851.4,936.2L1853.0,943.0L1854.7,934.0L1856.3,938.7L1857.9,935.0L1859.6,944.4L1861.2,947.1L1862.8,943.5L1864.4,976.4L1864.4,981.5L445.0,981.5Z" fill="#FF7F44" fill-opacity="0.2" stroke="none"/>
<path d="M445.0,980.9L446.6,980.9L448.3,980.8L449.9,980.8L451.5,980.9L453.1,980.8L454.8,980.9L456.4,980.8L458.0,980.8L459.7,980.8L461.3,980.9L462.9,980.9L464.6,980.8L466.2,980.7L467.8,980.8L469.4,980.9L471.1,980.8L472.7,980.9L474.3,980.8L476.0,980.7L477.6,980.9L479.2,980.7L480.9,980.7L482.5,980.8L484.1,980.8L485.7,980.8L487.4,980.7L489.0,980.7L490.6,980.8L492.3,977.9L493.9,974.1L495.5,980.7L497.1,980.8L498.8,980.7L500.4,980.8L502.0,980.7L503.7,980.8L505.3,980.8L506.9,980.6L508.6,980.7L510.2,980.7L511.8,980.6L513.4,980.6L515.1,980.9L516.7,980.8L518.3,980.8L520.0,980.7L521.6,980.6L523.2,980.6L524.9,980.9L526.5,980.8L528.1,980.6L529.7,980.7L531.4,980.8L533.0,980.7L534.6,980.8L536.3,980.6L537.9,980.8L539.5,980.6L541.2,980.7L542.8,980.8L544.4,980.8L546.0,980.8L547.7,980.6L549.3,980.7L550.9,980.8L552.6,980.8L554.2,980.8L555.8,980.7L557.4,980.7L559.1,980.8L560.7,980.8L562.3,980.9L564.0,980.7L565.6,980.8L567.2,980.9L568.9,980.7L570.5,980.6L572.1,980.8L573.7,980.8L575.4,980.7L577.0,980.8L578.6,980.8L580.3,980.7L581.9,980.8L583.5,980.7L585.2,980.7L586.8,980.6L588.4,980.6L590.0,980.9L591.7,980.7L593.3,980.7L594.9,980.6L596.6,980.7L598.2,980.7L599.8,980.7L601.4,980.8L603.1,980.8L604.7,980.7L606.3,980.6L608.0,980.6L609.6,980.7L611.2,980.8L612.9,980.7L614.5,980.7L616.1,980.7L617.7,980.7L619.4,980.8L621.0,980.7L622.6,980.8L624.3,980.8L625.9,980.8L627.5,980.8L629.2,980.6L630.8,980.7L632.4,980.8L634.0,980.8L635.7,980.8L637.3,980.8L638.9,980.8L640.6,980.9L642.2,980.6L643.8,980.7L645.4,980.7L647.1,980.7L648.7,980.8L650.3,980.8L652.0,980.8L653.6,980.8L655.2,980.8L656.9,980.7L658.5,980.7L660.1,980.6L661.7,980.8L663.4,980.6L665.0,980.7L666.6,980.8L668.3,980.8L669.9,980.7L671.5,980.6L673.2,980.8L674.8,980.7L676.4,980.7L678.0,980.6L679.7,980.8L681.3,980.7L682.9,980.6L684.6,980.8L686.2,980.8L687.8,980.9L689.5,980.8L691.1,980.8L692.7,980.7L694.3,980.8L696.0,980.8L697.6,980.8L699.2,980.7L700.9,980.6L702.5,980.7L704.1,980.8L705.7,980.7L707.4,980.6L709.0,980.7L710.6,980.8L712.3,980.6L713.9,980.6L715.5,980.8L717.2,980.8L718.8,980.8L720.4,980.7L722.0,980.6L723.7,980.7L725.3,980.6L726.9,980.8L728.6,980.8L730.2,980.7L731.8,980.7L733.5,980.8L735.1,980.7L736.7,980.8L738.3,980.8L740.0,980.8L741.6,980.8L743.2,980.7L744.9,980.8L746.5,980.7L748.1,980.7L749.7,980.8L751.4,980.7L753.0,980.9L754.6,980.6L756.3,980.7L757.9,980.6L759.5,980.8L761.2,980.7L762.8,980.7L764.4,980.8L766.0,980.8L767.7,980.8L769.3,980.8L770.9,980.7L772.6,980.8L774.2,980.6L775.8,980.7L777.5,980.7L779.1,980.7L780.7,980.7L782.3,980.7L784.0,980.7L785.6,980.8L787.2,980.7L788.9,980.8L790.5,980.7L792.1,980.7L793.7,980.7L795.4,980.8L797.0,980.7L798.6,980.6L800.3,980.7L801.9,980.8L803.5,980.7L805.2,980.6L806.8,980.8L808.4,980.9L810.0,980.7L811.7,980.7L813.3,980.7L814.9,980.8L816.6,980.6L818.2,980.8L819.8,980.7L821.5,980.8L823.1,980.9L824.7,980.8L826.3,980.8L828.0,980.7L829.6,980.7L831.2,980.8L832.9,980.6L834.5,980.8L836.1,980.8L837.7,980.8L839.4,980.7L841.0,980.6L842.6,980.8L844.3,980.9L845.9,980.7L847.5,980.8L849.2,980.6L850.8,980.7L852.4,980.7L854.0,980.8L855.7,980.6L857.3,980.7L858.9,980.8L860.6,980.6L862.2,980.8L863.8,980.7L865.5,980.8L867.1,980.7L868.7,980.8L870.3,980.6L872.0,980.8L873.6,980.7L875.2,980.8L876.9,980.6L878.5,980.6L880.1,980.7L881.8,980.8L883.4,980.8L885.0,980.8L886.6,980.7L888.3,980.8L889.9,980.8L891.5,980.7L893.2,980.7L894.8,976.5L896.4,975.4L898.0,976.8L899.7,976.1L901.3,976.8L902.9,975.5L904.6,975.4L906.2,976.5L907.8,975.6L909.5,975.4L911.1,976.4L912.7,976.2L914.3,975.9L916.0,975.6L917.6,976.4L919.2,975.3L920.9,975.4L922.5,975.6L924.1,975.2L925.8,974.5L927.4,975.8L929.0,974.3L930.6,975.3L932.3,974.3L933.9,974.0L935.5,975.5L937.2,973.8L938.8,973.4L940.4,974.9L942.0,975.5L943.7,975.2L945.3,973.0L946.9,975.3L948.6,972.9L950.2,974.8L951.8,973.6L953.5,974.9L955.1,974.7L956.7,973.4L958.3,974.9L960.0,974.3L961.6,972.8L963.2,973.4L964.9,973.0L966.5,972.8L968.1,975.2L969.8,974.7L971.4,973.3L973.0,973.6L974.6,975.3L976.3,974.1L977.9,974.8L979.5,974.3L981.2,975.2L982.8,975.4L984.4,973.0L986.0,974.7L987.7,973.3L989.3,974.6L990.9,974.2L992.6,975.0L994.2,974.2L995.8,974.8L997.5,973.4L999.1,974.7L1000.7,973.0L1002.3,973.6L1004.0,974.5L1005.6,973.8L1007.2,973.3L1008.9,972.0L1010.5,973.6L1012.1,973.9L1013.8,971.6L1015.4,971.7L1017.0,972.1L1018.6,973.4L1020.3,973.6L1021.9,973.2L1023.5,973.8L1025.2,973.8L1026.8,972.2L1028.4,972.3L1030.1,971.6L1031.7,972.1L1033.3,973.1L1034.9,971.0L1036.6,971.0L1038.2,953.3L1039.8,971.2L1041.5,970.7L1043.1,969.9L1044.7,970.4L1046.3,971.1L1048.0,972.3L1049.6,972.7L1051.2,972.5L1052.9,970.9L1054.5,972.9L1056.1,973.0L1057.8,973.1L1059.4,974.0L1061.0,971.7L1062.6,973.8L1064.3,972.9L1065.9,972.0L1067.5,973.8L1069.2,972.8L1070.8,973.4L1072.4,973.8L1074.1,973.8L1075.7,974.0L1077.3,971.9L1078.9,972.0L1080.6,971.6L1082.2,974.1L1083.8,972.1L1085.5,973.2L1087.1,972.2L1088.7,972.4L1090.3,973.1L1092.0,971.0L1093.6,974.0L1095.2,971.6L1096.9,971.2L1098.5,972.3L1100.1,972.1L1101.8,970.6L1103.4,972.9L1105.0,971.6L1106.6,971.1L1108.3,972.2L1109.9,971.0L1111.5,972.0L1113.2,971.4L1114.8,971.1L1116.4,970.7L1118.1,971.9L1119.7,970.7L1121.3,970.9L1122.9,972.0L1124.6,970.5L1126.2,971.7L1127.8,969.2L1129.5,970.7L1131.1,969.7L1132.7,970.4L1134.3,970.5L1136.0,971.3L1137.6,970.7L1139.2,968.2L1140.9,969.5L1142.5,969.2L1144.1,968.9L1145.8,967.4L1147.4,969.7L1149.0,969.7L1150.6,966.5L1152.3,967.8L1153.9,966.7L1155.5,966.5L1157.2,965.3L1158.8,965.6L1160.4,969.7L1162.1,968.2L1163.7,966.2L1165.3,966.4L1166.9,969.7L1168.6,969.7L1170.2,969.4L1171.8,970.2L1173.5,969.1L1175.1,968.2L1176.7,968.7L1178.3,969.2L1180.0,970.9L1181.6,969.8L1183.2,967.5L1184.9,969.0L1186.5,970.1L1188.1,970.2L1189.8,969.2L1191.4,969.5L1193.0,972.0L1194.6,970.2L1196.3,971.5L1197.9,971.2L1199.5,974.0L1201.2,973.9L1202.8,973.8L1204.4,973.5L1206.1,974.3L1207.7,973.6L1209.3,972.3L1210.9,973.7L1212.6,973.1L1214.2,971.1L1215.8,972.4L1217.5,972.0L1219.1,971.5L1220.7,970.4L1222.4,973.1L1224.0,971.6L1225.6,971.2L1227.2,973.5L1228.9,973.1L1230.5,972.3L1232.1,973.1L1233.8,974.1L1235.4,975.2L1237.0,974.3L1238.6,974.5L1240.3,973.6L1241.9,974.5L1243.5,974.2L1245.2,973.4L1246.8,972.9L1248.4,974.0L1250.1,973.8L1251.7,973.2L1253.3,972.2L1254.9,974.1L1256.6,971.8L1258.2,972.4L1259.8,973.3L1261.5,972.4L1263.1,972.9L1264.7,970.4L1266.4,962.8L1268.0,960.9L1269.6,955.7L1271.2,955.8L1272.9,952.3L1274.5,953.5L1276.1,957.2L1277.8,956.7L1279.4,959.5L1281.0,961.0L1282.6,959.0L1284.3,962.2L1285.9,962.2L1287.5,959.9L1289.2,963.1L1290.8,963.2L1292.4,963.5L1294.1,961.1L1295.7,961.7L1297.3,960.8L1298.9,962.7L1300.6,964.8L1302.2,960.1L1303.8,960.8L1305.5,960.4L1307.1,961.8L1308.7,967.0L1310.4,966.6L1312.0,967.9L1313.6,963.5L1315.2,967.0L1316.9,966.8L1318.5,962.4L1320.1,963.4L1321.8,964.9L1323.4,959.1L1325.0,957.2L1326.6,957.5L1328.3,957.1L1329.9,950.5L1331.5,949.8L1333.2,945.1L1334.8,938.4L1336.4,939.7L1338.1,941.2L1339.7,945.3L1341.3,940.2L1342.9,935.1L1344.6,940.8L1346.2,927.1L1347.8,937.6L1349.5,939.0L1351.1,939.4L1352.7,936.6L1354.4,935.3L1356.0,944.8L1357.6,950.6L1359.2,953.1L1360.9,958.3L1362.5,956.4L1364.1,949.7L1365.8,949.5L1367.4,949.1L1369.0,956.7L1370.7,959.0L1372.3,959.6L1373.9,956.3L1375.5,956.1L1377.2,953.3L1378.8,949.9L1380.4,945.4L1382.1,943.5L1383.7,939.7L1385.3,948.0L1386.9,939.6L1388.6,945.3L1390.2,950.3L1391.8,946.2L1393.5,942.8L1395.1,946.6L1396.7,947.3L1398.4,951.3L1400.0,955.4L1401.6,954.9L1403.2,953.9L1404.9,945.5L1406.5,942.6L1408.1,945.2L1409.8,949.1L1411.4,946.4L1413.0,953.4L1414.7,950.7L1416.3,959.2L1417.9,956.9L1419.5,956.2L1421.2,959.6L1422.8,953.3L1424.4,958.4L1426.1,951.6L1427.7,951.8L1429.3,942.7L1430.9,943.7L1432.6,939.9L1434.2,948.6L1435.8,955.3L1437.5,948.8L1439.1,946.4L1440.7,951.4L1442.4,949.4L1444.0,952.1L1445.6,940.4L1447.2,944.3L1448.9,948.6L1450.5,949.1L1452.1,940.9L1453.8,939.4L1455.4,945.9L1457.0,942.2L1458.7,944.0L1460.3,936.9L1461.9,939.1L1463.5,945.7L1465.2,942.5L1466.8,939.7L1468.4,950.0L1470.1,942.1L1471.7,948.9L1473.3,947.6L1474.9,939.2L1476.6,939.3L1478.2,932.3L1479.8,945.2L1481.5,946.4L1483.1,947.6L1484.7,938.4L1486.4,942.1L1488.0,937.1L1489.6,935.6L1491.2,944.3L1492.9,949.8L1494.5,946.1L1496.1,944.9L1497.8,948.1L1499.4,943.2L1501.0,948.3L1502.7,942.5L1504.3,938.1L1505.9,940.7L1507.5,936.0L1509.2,942.8L1510.8,933.4L1512.4,940.4L1514.1,926.6L1515.7,929.8L1517.3,920.4L1519.0,923.6L1520.6,921.3L1522.2,921.3L1523.8,910.8L1525.5,914.7L1527.1,910.8L1528.7,932.8L1530.4,930.2L1532.0,920.8L1533.6,923.0L1535.2,922.1L1536.9,933.6L1538.5,935.6L1540.1,934.0L1541.8,921.2L1543.4,917.3L1545.0,921.8L1546.7,918.2L1548.3,935.4L1549.9,929.7L1551.5,927.2L1553.2,928.7L1554.8,912.4L1556.4,916.0L1558.1,933.6L1559.7,933.6L1561.3,930.1L1563.0,930.6L1564.6,920.6L1566.2,934.5L1567.8,933.6L1569.5,935.2L1571.1,936.1L1572.7,924.5L1574.4,936.4L1576.0,932.7L1577.6,936.3L1579.2,927.1L1580.9,920.1L1582.5,924.5L1584.1,907.4L1585.8,905.6L1587.4,918.7L1589.0,932.0L1590.7,928.7L1592.3,936.0L1593.9,920.7L1595.5,925.9L1597.2,939.5L1598.8,964.2L1600.4,961.5L1602.1,965.7L1603.7,963.6L1605.3,965.4L1607.0,967.0L1608.6,969.4L1610.2,969.3L1611.8,967.4L1613.5,970.9L1615.1,969.7L1616.7,966.6L1618.4,966.1L1620.0,961.0L1621.6,954.3L1623.2,953.7L1624.9,954.9L1626.5,956.2L1628.1,949.3L1629.8,950.8L1631.4,954.5L1633.0,954.5L1634.7,954.9L1636.3,947.7L1637.9,950.6L1639.5,943.6L1641.2,947.6L1642.8,944.0L1644.4,952.5L1646.1,954.9L1647.7,956.0L1649.3,956.0L1651.0,959.1L1652.6,957.3L1654.2,962.6L1655.8,961.5L1657.5,962.8L1659.1,958.4L1660.7,955.7L1662.4,959.2L1664.0,956.3L1665.6,961.9L1667.2,959.3L1668.9,960.9L1670.5,957.1L1672.1,954.4L1673.8,955.1L1675.4,960.3L1677.0,959.6L1678.7,958.1L1680.3,953.6L1681.9,960.5L1683.5,955.4L1685.2,951.9L1686.8,948.5L1688.4,951.3L1690.1,944.0L1691.7,945.7L1693.3,938.9L1695.0,945.2L1696.6,932.7L1698.2,936.6L1699.8,932.9L1701.5,930.1L1703.1,935.7L1704.7,933.9L1706.4,936.5L1708.0,944.5L1709.6,938.9L1711.3,932.3L1712.9,940.0L1714.5,944.3L1716.1,946.2L1717.8,940.7L1719.4,941.4L1721.0,946.9L1722.7,944.5L1724.3,940.4L1725.9,932.7L1727.5,926.8L1729.2,928.5L1730.8,934.4L1732.4,944.3L1734.1,940.7L1735.7,937.2L1737.3,937.5L1739.0,946.5L1740.6,939.3L1742.2,944.1L1743.8,948.1L1745.5,943.5L1747.1,942.7L1748.7,941.1L1750.4,948.3L1752.0,941.4L1753.6,940.9L1755.3,944.9L1756.9,950.2L1758.5,954.8L1760.1,950.3L1761.8,950.3L1763.4,948.2L1765.0,940.1L1766.7,937.1L1768.3,935.9L1769.9,948.0L1771.5,951.7L1773.2,942.5L1774.8,930.0L1776.4,944.6L1778.1,943.5L1779.7,942.9L1781.3,950.1L1783.0,946.7L1784.6,944.1L1786.2,934.4L1787.8,937.1L1789.5,941.6L1791.1,942.4L1792.7,939.0L1794.4,943.9L1796.0,947.2L1797.6,950.9L1799.3,948.6L1800.9,952.2L1802.5,952.6L1804.1,930.1L1805.8,954.8L1807.4,956.1L1809.0,954.4L1810.7,942.3L1812.3,933.5L1813.9,933.6L1815.5,940.4L1817.2,949.4L1818.8,940.5L1820.4,940.4L1822.1,939.7L1823.7,947.8L1825.3,944.7L1827.0,934.6L1828.6,935.7L1830.2,940.2L1831.8,948.2L1833.5,949.3L1835.1,950.2L1836.7,947.9L1838.4,944.0L1840.0,943.1L1841.6,946.4L1843.3,944.8L1844.9,948.3L1846.5,947.3L1848.1,945.4L1849.8,939.0L1851.4,936.2L1853.0,943.0L1854.7,934.0L1856.3,938.7L1857.9,935.0L1859.6,944.4L1861.2,947.1L1862.8,943.5L1864.4,976.4" stroke="#FF7F44"/>
<path d="M445.0,981.1L446.6,981.0L448.3,981.1L449.9,981.0L451.5,981.1L453.1,981.1L454.8,981.0L456.4,981.1L458.0,981.0L459.7,981.1L461.3,981.0L462.9,981.1L464.6,981.1L466.2,981.2L467.8,981.1L469.4,981.0L471.1,981.1L472.7,981.0L474.3,981.1L476.0,981.1L477.6,981.2L479.2,981.1L480.9,981.0L482.5,981.1L484.1,981.1L485.7,981.0L487.4,981.0L489.0,981.1L490.6,981.2L492.3,981.1L493.9,981.1L495.5,981.0L497.1,981.1L498.8,981.1L500.4,981.1L502.0,981.1L503.7,981.1L505.3,981.1L506.9,981.0L508.6,981.1L510.2,981.1L511.8,981.0L513.4,981.2L515.1,981.0L516.7,981.1L518.3,981.1L520.0,981.1L521.6,981.0L523.2,981.0L524.9,981.1L526.5,981.0L528.1,981.2L529.7,981.1L531.4,981.1L533.0,981.0L534.6,981.0L536.3,981.1L537.9,981.1L539.5,981.1L541.2,981.2L542.8,981.1L544.4,981.0L546.0,981.1L547.7,981.1L549.3,981.0L550.9,981.1L552.6,981.1L554.2,981.1L555.8,981.0L557.4,981.1L559.1,981.0L560.7,981.1L562.3,981.1L564.0,978.2L565.6,981.1L567.2,981.1L568.9,981.1L570.5,981.1L572.1,981.1L573.7,981.0L575.4,981.0L577.0,981.1L578.6,981.1L580.3,981.1L581.9,981.0L583.5,981.1L585.2,981.0L586.8,981.1L588.4,981.1L590.0,981.2L591.7,981.1L593.3,981.1L594.9,981.0L596.6,981.0L598.2,981.1L599.8,981.1L601.4,981.0L603.1,981.1L604.7,981.1L606.3,981.1L608.0,981.1L609.6,981.1L611.2,981.1L612.9,981.1L614.5,981.0L616.1,981.1L617.7,981.1L619.4,981.0L621.0,981.1L622.6,981.0L624.3,981.0L625.9,981.0L627.5,981.1L629.2,981.1L630.8,981.0L632.4,981.1L634.0,981.1L635.7,981.0L637.3,981.0L638.9,981.1L640.6,981.1L642.2,981.0L643.8,981.1L645.4,981.1L647.1,981.0L648.7,981.1L650.3,981.0L652.0,981.1L653.6,981.0L655.2,981.0L656.9,981.1L658.5,981.0L660.1,981.1L661.7,981.1L663.4,981.1L665.0,981.0L666.6,981.0L668.3,981.0L669.9,981.1L671.5,981.0L673.2,981.1L674.8,981.1L676.4,981.0L678.0,981.0L679.7,981.0L681.3,981.0L682.9,981.0L684.6,981.1L686.2,981.0L687.8,981.0L689.5,981.1L691.1,981.1L692.7,981.0L694.3,981.1L696.0,981.1L697.6,981.0L699.2,981.0L700.9,981.0L702.5,981.0L704.1,981.0L705.7,981.1L707.4,981.1L709.0,981.1L710.6,981.1L712.3,981.0L713.9,981.0L715.5,981.0L717.2,981.0L718.8,981.1L720.4,981.0L722.0,981.1L723.7,981.0L725.3,981.0L726.9,981.0L728.6,981.1L730.2,981.0L731.8,981.0L733.5,981.0L735.1,981.0L736.7,981.0L738.3,981.0L740.0,981.0L741.6,981.0L743.2,981.0L744.9,981.1L746.5,981.0L748.1,981.0L749.7,981.0L751.4,981.1L753.0,981.1L754.6,981.0L756.3,981.0L757.9,981.1L759.5,981.1L761.2,981.1L762.8,981.1L764.4,981.0L766.0,980.9L767.7,981.0L769.3,981.1L770.9,981.0L772.6,981.1L774.2,981.0L775.8,981.1L777.5,981.1L779.1,981.0L780.7,981.1L782.3,981.1L784.0,981.1L785.6,981.0L787.2,981.0L788.9,981.0L790.5,981.1L792.1,981.0L793.7,981.1L795.4,981.1L797.0,981.0L798.6,981.0L800.3,981.0L801.9,981.0L803.5,981.1L805.2,981.0L806.8,981.1L808.4,980.9L810.0,981.0L811.7,981.0L813.3,981.1L814.9,981.0L816.6,981.1L818.2,981.0L819.8,981.0L821.5,981.1L823.1,981.0L824.7,981.0L826.3,981.0L828.0,981.0L829.6,981.0L831.2,981.0L832.9,981.1L834.5,980.9L836.1,980.9L837.7,980.9L839.4,980.9L841.0,981.0L842.6,980.9L844.3,981.1L845.9,981.0L847.5,981.1L849.2,981.0L850.8,981.0L852.4,981.0L854.0,981.0L855.7,981.0L857.3,981.1L858.9,981.0L860.6,981.0L862.2,981.1L863.8,980.9L865.5,981.0L867.1,981.0L868.7,981.1L870.3,981.0L872.0,981.1L873.6,981.0L875.2,981.0L876.9,980.9L878.5,980.9L880.1,980.9L881.8,980.9L883.4,980.9L885.0,980.9L886.6,980.9L888.3,981.1L889.9,981.0L891.5,981.1L893.2,981.0L894.8,970.9L896.4,970.6L898.0,972.0L899.7,971.5L901.3,972.2L902.9,970.0L904.6,968.3L906.2,971.2L907.8,972.3L909.5,971.6L911.1,970.7L912.7,968.1L914.3,968.4L916.0,969.7L917.6,971.5L919.2,971.4L920.9,971.1L922.5,968.0L924.1,969.4L925.8,966.8L927.4,967.1L929.0,967.6L930.6,969.1L932.3,967.3L933.9,970.7L935.5,970.8L937.2,968.4L938.8,968.6L940.4,966.7L942.0,961.6L943.7,969.0L945.3,965.6L946.9,966.4L948.6,964.8L950.2,966.1L951.8,956.0L953.5,966.6L955.1,967.3L956.7,965.3L958.3,965.2L960.0,969.3L961.6,970.0L963.2,968.9L964.9,966.8L966.5,968.0L968.1,970.1L969.8,965.4L971.4,965.7L973.0,967.6L974.6,970.0L976.3,965.2L977.9,967.2L979.5,969.9L981.2,968.5L982.8,966.8L984.4,965.4L986.0,967.7L987.7,966.8L989.3,968.2L990.9,967.3L992.6,960.9L994.2,962.8L995.8,961.1L997.5,966.9L999.1,969.2L1000.7,968.8L1002.3,967.3L1004.0,966.5L1005.6,966.2L1007.2,965.7L1008.9,967.3L1010.5,969.4L1012.1,965.5L1013.8,969.4L1015.4,967.0L1017.0,967.3L1018.6,965.7L1020.3,965.4L1021.9,968.2L1023.5,965.8L1025.2,965.5L1026.8,966.6L1028.4,968.7L1030.1,964.1L1031.7,965.9L1033.3,969.1L1034.9,968.0L1036.6,963.5L1038.2,968.1L1039.8,967.0L1041.5,964.6L1043.1,964.4L1044.7,965.5L1046.3,964.8L1048.0,969.1L1049.6,968.7L1051.2,963.3L1052.9,964.4L1054.5,969.0L1056.1,968.9L1057.8,967.7L1059.4,963.5L1061.0,967.8L1062.6,965.7L1064.3,963.3L1065.9,965.1L1067.5,963.2L1069.2,967.3L1070.8,967.9L1072.4,968.7L1074.1,964.0L1075.7,968.1L1077.3,962.4L1078.9,964.0L1080.6,967.4L1082.2,963.3L1083.8,967.4L1085.5,965.1L1087.1,967.7L1088.7,963.1L1090.3,962.3L1092.0,962.1L1093.6,968.1L1095.2,962.4L1096.9,964.3L1098.5,962.4L1100.1,964.5L1101.8,963.6L1103.4,963.7L1105.0,962.3L1106.6,967.2L1108.3,967.3L1109.9,963.8L1111.5,965.5L1113.2,964.7L1114.8,967.4L1116.4,962.1L1118.1,967.2L1119.7,961.4L1121.3,961.4L1122.9,963.9L1124.6,966.2L1126.2,962.4L1127.8,965.5L1129.5,963.8L1131.1,966.1L1132.7,959.7L1134.3,962.8L1136.0,964.1L1137.6,964.0L1139.2,958.8L1140.9,957.2L1142.5,957.2L1144.1,963.0L1145.8,963.0L1147.4,963.5L1149.0,959.9L1150.6,964.7L1152.3,961.1L1153.9,960.6L1155.5,953.7L1157.2,962.5L1158.8,962.2L1160.4,964.2L1162.1,959.6L1163.7,960.4L1165.3,961.2L1166.9,961.8L1168.6,962.3L1170.2,960.8L1171.8,960.6L1173.5,958.6L1175.1,961.3L1176.7,959.8L1178.3,959.2L1180.0,959.9L1181.6,961.1L1183.2,966.4L1184.9,961.7L1186.5,960.7L1188.1,963.9L1189.8,960.9L1191.4,966.1L1193.0,960.9L1194.6,964.6L1196.3,962.9L1197.9,965.1L1199.5,966.5L1201.2,966.9L1202.8,967.0L1204.4,968.4L1206.1,966.2L1207.7,962.7L1209.3,964.7L1210.9,962.9L1212.6,963.9L1214.2,963.4L1215.8,962.3L1217.5,963.8L1219.1,966.8L1220.7,966.9L1222.4,965.8L1224.0,968.3L1225.6,966.9L1227.2,964.2L1228.9,959.9L1230.5,961.4L1232.1,961.6L1233.8,965.5L1235.4,963.7L1237.0,964.3L1238.6,965.9L1240.3,968.5L1241.9,964.1L1243.5,967.2L1245.2,965.3L1246.8,966.9L1248.4,965.8L1250.1,963.2L1251.7,968.2L1253.3,965.9L1254.9,965.7L1256.6,965.4L1258.2,962.4L1259.8,965.4L1261.5,961.5L1263.1,962.6L1264.7,962.3L1266.4,966.7L1268.0,966.0L1269.6,965.7L1271.2,961.8L1272.9,968.0L1274.5,965.6L1276.1,963.6L1277.8,961.8L1279.4,967.2L1281.0,965.4L1282.6,963.8L1284.3,963.8L1285.9,963.4L1287.5,963.4L1289.2,966.7L1290.8,966.6L1292.4,968.2L1294.1,963.8L1295.7,967.0L1297.3,966.6L1298.9,962.0L1300.6,964.1L1302.2,964.4L1303.8,964.0L1305.5,964.4L1307.1,963.8L1308.7,966.3L1310.4,967.9L1312.0,967.9L1313.6,968.2L1315.2,966.0L1316.9,967.4L1318.5,965.9L1320.1,950.7L1321.8,962.3L1323.4,961.2L1325.0,963.6L1326.6,958.7L1328.3,962.8L1329.9,962.8L1331.5,959.0L1333.2,960.9L1334.8,960.3L1336.4,963.6L1338.1,960.5L1339.7,964.3L1341.3,955.9L1342.9,958.9L1344.6,957.2L1346.2,965.5L1347.8,962.7L1349.5,963.9L1351.1,957.0L1352.7,955.6L1354.4,954.9L1356.0,957.3L1357.6,955.2L1359.2,960.1L1360.9,959.8L1362.5,964.5L1364.1,961.4L1365.8,963.3L1367.4,962.0L1369.0,965.2L1370.7,965.2L1372.3,965.3L1373.9,958.1L1375.5,962.5L1377.2,960.0L1378.8,960.7L1380.4,959.8L1382.1,954.9L1383.7,963.9L1385.3,965.3L1386.9,968.3L1388.6,963.0L1390.2,966.6L1391.8,964.3L1393.5,967.9L1395.1,963.7L1396.7,967.0L1398.4,966.2L1400.0,965.1L1401.6,967.7L1403.2,965.6L1404.9,963.0L1406.5,966.4L1408.1,965.7L1409.8,963.1L1411.4,966.7L1413.0,966.8L1414.7,966.6L1416.3,965.4L1417.9,965.5L1419.5,963.6L1421.2,964.6L1422.8,960.3L1424.4,965.2L1426.1,958.8L1427.7,955.6L1429.3,959.8L1430.9,957.5L1432.6,958.9L1434.2,962.0L1435.8,957.9L1437.5,951.7L1439.1,952.4L1440.7,960.8L1442.4,963.5L1444.0,965.5L1445.6,964.7L1447.2,962.7L1448.9,964.8L1450.5,964.8L1452.1,961.3L1453.8,961.8L1455.4,958.7L1457.0,962.3L1458.7,966.4L1460.3,965.9L1461.9,963.9L1463.5,963.6L1465.2,960.8L1466.8,959.6L1468.4,959.7L1470.1,965.0L1471.7,957.9L1473.3,960.9L1474.9,960.8L1476.6,957.0L1478.2,954.2L1479.8,962.2L1481.5,964.9L1483.1,964.1L1484.7,959.7L1486.4,962.5L1488.0,959.7L1489.6,964.4L1491.2,960.7L1492.9,961.2L1494.5,961.7L1496.1,957.8L1497.8,959.8L1499.4,962.1L1501.0,954.4L1502.7,959.1L1504.3,962.0L1505.9,963.6L1507.5,958.9L1509.2,958.3L1510.8,962.1L1512.4,957.0L1514.1,954.9L1515.7,953.7L1517.3,955.5L1519.0,950.6L1520.6,922.0L1522.2,955.2L1523.8,953.9L1525.5,941.3L1527.1,940.1L1528.7,946.7L1530.4,951.8L1532.0,955.7L1533.6,951.0L1535.2,959.5L1536.9,960.0L1538.5,958.0L1540.1,957.1L1541.8,959.0L1543.4,951.9L1545.0,955.3L1546.7,948.4L1548.3,955.8L1549.9,958.2L1551.5,957.5L1553.2,957.6L1554.8,956.9L1556.4,935.8L1558.1,955.1L1559.7,958.2L1561.3,943.6L1563.0,949.9L1564.6,943.0L1566.2,958.3L1567.8,950.7L1569.5,952.5L1571.1,943.2L1572.7,945.9L1574.4,953.1L1576.0,948.6L1577.6,958.5L1579.2,956.7L1580.9,956.2L1582.5,956.3L1584.1,944.9L1585.8,948.9L1587.4,954.3L1589.0,958.9L1590.7,956.1L1592.3,961.7L1593.9,957.7L1595.5,957.0L1597.2,950.1L1598.8,953.8L1600.4,952.1L1602.1,957.6L1603.7,957.1L1605.3,958.2L1607.0,956.4L1608.6,961.7L1610.2,959.2L1611.8,957.5L1613.5,945.9L1615.1,961.9L1616.7,963.9L1618.4,960.7L1620.0,960.7L1621.6,935.4L1623.2,959.8L1624.9,959.2L1626.5,960.9L1628.1,956.2L1629.8,956.9L1631.4,956.1L1633.0,951.8L1634.7,955.2L1636.3,935.6L1637.9,956.9L1639.5,959.1L1641.2,869.9L1642.8,946.0L1644.4,951.3L1646.1,937.5L1647.7,945.1L1649.3,955.6L1651.0,956.5L1652.6,956.6L1654.2,947.5L1655.8,946.9L1657.5,950.9L1659.1,948.0L1660.7,942.1L1662.4,943.9L1664.0,949.3L1665.6,956.8L1667.2,958.4L1668.9,952.7L1670.5,950.2L1672.1,951.4L1673.8,949.4L1675.4,951.6L1677.0,938.2L1678.7,938.7L1680.3,952.2L1681.9,954.4L1683.5,955.1L1685.2,959.1L1686.8,953.8L1688.4,956.7L1690.1,956.2L1691.7,952.3L1693.3,948.0L1695.0,942.4L1696.6,948.7L1698.2,934.7L1699.8,933.4L1701.5,932.8L1703.1,944.6L1704.7,939.7L1706.4,945.6L1708.0,945.9L1709.6,945.7L1711.3,949.7L1712.9,950.2L1714.5,956.8L1716.1,949.5L1717.8,954.8L1719.4,956.2L1721.0,951.5L1722.7,945.9L1724.3,950.3L1725.9,945.6L1727.5,935.0L1729.2,938.0L1730.8,954.3L1732.4,951.0L1734.1,955.6L1735.7,952.7L1737.3,952.1L1739.0,959.2L1740.6,956.8L1742.2,957.2L1743.8,955.1L1745.5,952.6L1747.1,952.9L1748.7,946.0L1750.4,945.0L1752.0,948.7L1753.6,939.9L1755.3,942.2L1756.9,955.5L1758.5,959.1L1760.1,957.9L1761.8,962.1L1763.4,964.3L1765.0,961.1L1766.7,962.8L1768.3,954.0L1769.9,954.6L1771.5,948.7L1773.2,944.2L1774.8,948.8L1776.4,950.1L1778.1,955.3L1779.7,952.0L1781.3,948.8L1783.0,942.9L1784.6,951.0L1786.2,943.1L1787.8,946.7L1789.5,944.2L1791.1,940.4L1792.7,945.9L1794.4,945.0L1796.0,950.1L1797.6,951.1L1799.3,956.2L1800.9,955.1L1802.5,954.0L1804.1,953.3L1805.8,957.6L1807.4,959.8L1809.0,959.2L1810.7,956.0L1812.3,949.8L1813.9,957.8L1815.5,956.3L1817.2,957.0L1818.8,955.0L1820.4,950.5L1822.1,960.3L1823.7,959.1L1825.3,953.1L1827.0,950.5L1828.6,959.7L1830.2,957.4L1831.8,950.9L1833.5,946.4L1835.1,945.9L1836.7,922.5L1838.4,956.7L1840.0,958.2L1841.6,952.4L1843.3,952.1L1844.9,921.9L1846.5,955.3L1848.1,950.1L1849.8,952.0L1851.4,944.0L1853.0,944.4L1854.7,950.3L1856.3,947.7L1857.9,947.1L1859.6,945.3L1861.2,955.6L1862.8,962.2L1864.4,975.3L1864.4,981.5L445.0,981.5Z" fill="#666666" fill-opacity="0.2" stroke="none"/>
<path d="M445.0,981.1L446.6,981.0L448.3,981.1L449.9,981.0L451.5,981.1L453.1,981.1L454.8,981.0L456.4,981.1L458.0,981.0L459.7,981.1L461.3,981.0L462.9,981.1L464.6,981.1L466.2,981.2L467.8,981.1L469.4,981.0L471.1,981.1L472.7,981.0L474.3,981.1L476.0,981.1L477.6,981.2L479.2,981.1L480.9,981.0L482.5,981.1L484.1,981.1L485.7,981.0L487.4,981.0L489.0,981.1L490.6,981.2L492.3,981.1L493.9,981.1L495.5,981.0L497.1,981.1L498.8,981.1L500.4,981.1L502.0,981.1L503.7,981.1L505.3,981.1L506.9,981.0L508.6,981.1L510.2,981.1L511.8,981.0L513.4,981.2L515.1,981.0L516.7,981.1L518.3,981.1L520.0,981.1L521.6,981.0L523.2,981.0L524.9,981.1L526.5,981.0L528.1,981.2L529.7,981.1L531.4,981.1L533.0,981.0L534.6,981.0L536.3,981.1L537.9,981.1L539.5,981.1L541.2,981.2L542.8,981.1L544.4,981.0L546.0,981.1L547.7,981.1L549.3,981.0L550.9,981.1L552.6,981.1L554.2,981.1L555.8,981.0L557.4,981.1L559.1,981.0L560.7,981.1L562.3,981.1L564.0,978.2L565.6,981.1L567.2,981.1L568.9,981.1L570.5,981.1L572.1,981.1L573.7,981.0L575.4,981.0L577.0,981.1L578.6,981.1L580.3,981.1L581.9,981.0L583.5,981.1L585.2,981.0L586.8,981.1L588.4,981.1L590.0,981.2L591.7,981.1L593.3,981.1L594.9,981.0L596.6,981.0L598.2,981.1L599.8,981.1L601.4,981.0L603.1,981.1L604.7,981.1L606.3,981.1L608.0,981.1L609.6,981.1L611.2,981.1L612.9,981.1L614.5,981.0L616.1,981.1L617.7,981.1L619.4,981.0L621.0,981.1L622.6,981.0L624.3,981.0L625.9,981.0L627.5,981.1L629.2,981.1L630.8,981.0L632.4,981.1L634.0,981.1L635.7,981.0L637.3,981.0L638.9,981.1L640.6,981.1L642.2,981.0L643.8,981.1L645.4,981.1L647.1,981.0L648.7,981.1L650.3,981.0L652.0,981.1L653.6,981.0L655.2,981.0L656.9,981.1L658.5,981.0L660.1,981.1L661.7,981.1L663.4,981.1L665.0,981.0L666.6,981.0L668.3,981.0L669.9,981.1L671.5,981.0L673.2,981.1L674.8,981.1L676.4,981.0L678.0,981.0L679.7,981.0L681.3,981.0L682.9,981.0L684.6,981.1L686.2,981.0L687.8,981.0L689.5,981.1L691.1,981.1L692.7,981.0L694.3,981.1L696.0,981.1L697.6,981.0L699.2,981.0L700.9,981.0L702.5,981.0L704.1,981.0L705.7,981.1L707.4,981.1L709.0,981.1L710.6,981.1L712.3,981.0L713.9,981.0L715.5,981.0L717.2,981.0L718.8,981.1L720.4,981.0L722.0,981.1L723.7,981.0L725.3,981.0L726.9,981.0L728.6,981.1L730.2,981.0L731.8,981.0L733.5,981.0L735.1,981.0L736.7,981.0L738.3,981.0L740.0,981.0L741.6,981.0L743.2,981.0L744.9,981.1L746.5,981.0L748.1,981.0L749.7,981.0L751.4,981.1L753.0,981.1L754.6,981.0L756.3,981.0L757.9,981.1L759.5,981.1L761.2,981.1L762.8,981.1L764.4,981.0L766.0,980.9L767.7,981.0L769.3,981.1L770.9,981.0L772.6,981.1L774.2,981.0L775.8,981.1L777.5,981.1L779.1,981.0L780.7,981.1L782.3,981.1L784.0,981.1L785.6,981.0L787.2,981.0L788.9,981.0L790.5,981.1L792.1,981.0L793.7,981.1L795.4,981.1L797.0,981.0L798.6,981.0L800.3,981.0L801.9,981.0L803.5,981.1L805.2,981.0L806.8,981.1L808.4,980.9L810.0,981.0L811.7,981.0L813.3,981.1L814.9,981.0L816.6,981.1L818.2,981.0L819.8,981.0L821.5,981.1L823.1,981.0L824.7,981.0L826.3,981.0L828.0,981.0L829.6,981.0L831.2,981.0L832.9,981.1L834.5,980.9L836.1,980.9L837.7,980.9L839.4,980.9L841.0,981.0L842.6,980.9L844.3,981.1L845.9,981.0L847.5,981.1L849.2,981.0L850.8,981.0L852.4,981.0L854.0,981.0L855.7,981.0L857.3,981.1L858.9,981.0L860.6,981.0L862.2,981.1L863.8,980.9L865.5,981.0L867.1,981.0L868.7,981.1L870.3,981.0L872.0,981.1L873.6,981.0L875.2,981.0L876.9,980.9L878.5,980.9L880.1,980.9L881.8,980.9L883.4,980.9L885.0,980.9L886.6,980.9L888.3,981.1L889.9,981.0L891.5,981.1L893.2,981.0L894.8,970.9L896.4,970.6L898.0,972.0L899.7,971.5L901.3,972.2L902.9,970.0L904.6,968.3L906.2,971.2L907.8,972.3L909.5,971.6L911.1,970.7L912.7,968.1L914.3,968.4L916.0,969.7L917.6,971.5L919.2,971.4L920.9,971.1L922.5,968.0L924.1,969.4L925.8,966.8L927.4,967.1L929.0,967.6L930.6,969.1L932.3,967.3L933.9,970.7L935.5,970.8L937.2,968.4L938.8,968.6L940.4,966.7L942.0,961.6L943.7,969.0L945.3,965.6L946.9,966.4L948.6,964.8L950.2,966.1L951.8,956.0L953.5,966.6L955.1,967.3L956.7,965.3L958.3,965.2L960.0,969.3L961.6,970.0L963.2,968.9L964.9,966.8L966.5,968.0L968.1,970.1L969.8,965.4L971.4,965.7L973.0,967.6L974.6,970.0L976.3,965.2L977.9,967.2L979.5,969.9L981.2,968.5L982.8,966.8L984.4,965.4L986.0,967.7L987.7,966.8L989.3,968.2L990.9,967.3L992.6,960.9L994.2,962.8L995.8,961.1L997.5,966.9L999.1,969.2L1000.7,968.8L1002.3,967.3L1004.0,966.5L1005.6,966.2L1007.2,965.7L1008.9,967.3L1010.5,969.4L1012.1,965.5L1013.8,969.4L1015.4,967.0L1017.0,967.3L1018.6,965.7L1020.3,965.4L1021.9,968.2L1023.5,965.8L1025.2,965.5L1026.8,966.6L1028.4,968.7L1030.1,964.1L1031.7,965.9L1033.3,969.1L1034.9,968.0L1036.6,963.5L1038.2,968.1L1039.8,967.0L1041.5,964.6L1043.1,964.4L1044.7,965.5L1046.3,964.8L1048.0,969.1L1049.6,968.7L1051.2,963.3L1052.9,964.4L1054.5,969.0L1056.1,968.9L1057.8,967.7L1059.4,963.5L1061.0,967.8L1062.6,965.7L1064.3,963.3L1065.9,965.1L1067.5,963.2L1069.2,967.3L1070.8,967.9L1072.4,968.7L1074.1,964.0L1075.7,968.1L1077.3,962.4L1078.9,964.0L1080.6,967.4L1082.2,963.3L1083.8,967.4L1085.5,965.1L1087.1,967.7L1088.7,963.1L1090.3,962.3L1092.0,962.1L1093.6,968.1L1095.2,962.4L1096.9,964.3L1098.5,962.4L1100.1,964.5L1101.8,963.6L1103.4,963.7L1105.0,962.3L1106.6,967.2L1108.3,967.3L1109.9,963.8L1111.5,965.5L1113.2,964.7L1114.8,967.4L1116.4,962.1L1118.1,967.2L1119.7,961.4L1121.3,961.4L1122.9,963.9L1124.6,966.2L1126.2,962.4L1127.8,965.5L1129.5,963.8L1131.1,966.1L1132.7,959.7L1134.3,962.8L1136.0,964.1L1137.6,964.0L1139.2,958.8L1140.9,957.2L1142.5,957.2L1144.1,963.0L1145.8,963.0L1147.4,963.5L1149.0,959.9L1150.6,964.7L1152.3,961.1L1153.9,960.6L1155.5,953.7L1157.2,962.5L1158.8,962.2L1160.4,964.2L1162.1,959.6L1163.7,960.4L1165.3,961.2L1166.9,961.8L1168.6,962.3L1170.2,960.8L1171.8,960.6L1173.5,958.6L1175.1,961.3L1176.7,959.8L1178.3,959.2L1180.0,959.9L1181.6,961.1L1183.2,966.4L1184.9,961.7L1186.5,960.7L1188.1,963.9L1189.8,960.9L1191.4,966.1L1193.0,960.9L1194.6,964.6L1196.3,962.9L1197.9,965.1L1199.5,966.5L1201.2,966.9L1202.8,967.0L1204.4,968.4L1206.1,966.2L1207.7,962.7L1209.3,964.7L1210.9,962.9L1212.6,963.9L1214.2,963.4L1215.8,962.3L1217.5,963.8L1219.1,966.8L1220.7,966.9L1222.4,965.8L1224.0,968.3L1225.6,966.9L1227.2,964.2L1228.9,959.9L1230.5,961.4L1232.1,961.6L1233.8,965.5L1235.4,963.7L1237.0,964.3L1238.6,965.9L1240.3,968.5L1241.9,964.1L1243.5,967.2L1245.2,965.3L1246.8,966.9L1248.4,965.8L1250.1,963.2L1251.7,968.2L1253.3,965.9L1254.9,965.7L1256.6,965.4L1258.2,962.4L1259.8,965.4L1261.5,961.5L1263.1,962.6L1264.7,962.3L1266.4,966.7L1268.0,966.0L1269.6,965.7L1271.2,961.8L1272.9,968.0L1274.5,965.6L1276.1,963.6L1277.8,961.8L1279.4,967.2L1281.0,965.4L1282.6,963.8L1284.3,963.8L1285.9,963.4L1287.5,963.4L1289.2,966.7L1290.8,966.6L1292.4,968.2L1294.1,963.8L1295.7,967.0L1297.3,966.6L1298.9,962.0L1300.6,964.1L1302.2,964.4L1303.8,964.0L1305.5,964.4L1307.1,963.8L1308.7,966.3L1310.4,967.9L1312.0,967.9L1313.6,968.2L1315.2,966.0L1316.9,967.4L1318.5,965.9L1320.1,950.7L1321.8,962.3L1323.4,961.2L1325.0,963.6L1326.6,958.7L1328.3,962.8L1329.9,962.8L1331.5,959.0L1333.2,960.9L1334.8,960.3L1336.4,963.6L1338.1,960.5L1339.7,964.3L1341.3,955.9L1342.9,958.9L1344.6,957.2L1346.2,965.5L1347.8,962.7L1349.5,963.9L1351.1,957.0L1352.7,955.6L1354.4,954.9L1356.0,957.3L1357.6,955.2L1359.2,960.1L1360.9,959.8L1362.5,964.5L1364.1,961.4L1365.8,963.3L1367.4,962.0L1369.0,965.2L1370.7,965.2L1372.3,965.3L1373.9,958.1L1375.5,962.5L1377.2,960.0L1378.8,960.7L1380.4,959.8L1382.1,954.9L1383.7,963.9L1385.3,965.3L1386.9,968.3L1388.6,963.0L1390.2,966.6L1391.8,964.3L1393.5,967.9L1395.1,963.7L1396.7,967.0L1398.4,966.2L1400.0,965.1L1401.6,967.7L1403.2,965.6L1404.9,963.0L1406.5,966.4L1408.1,965.7L1409.8,963.1L1411.4,966.7L1413.0,966.8L1414.7,966.6L1416.3,965.4L1417.9,965.5L1419.5,963.6L1421.2,964.6L1422.8,960.3L1424.4,965.2L1426.1,958.8L1427.7,955.6L1429.3,959.8L1430.9,957.5L1432.6,958.9L1434.2,962.0L1435.8,957.9L1437.5,951.7L1439.1,952.4L1440.7,960.8L1442.4,963.5L1444.0,965.5L1445.6,964.7L1447.2,962.7L1448.9,964.8L1450.5,964.8L1452.1,961.3L1453.8,961.8L1455.4,958.7L1457.0,962.3L1458.7,966.4L1460.3,965.9L1461.9,963.9L1463.5,963.6L1465.2,960.8L1466.8,959.6L1468.4,959.7L1470.1,965.0L1471.7,957.9L1473.3,960.9L1474.9,960.8L1476.6,957.0L1478.2,954.2L1479.8,962.2L1481.5,964.9L1483.1,964.1L1484.7,959.7L1486.4,962.5L1488.0,959.7L1489.6,964.4L1491.2,960.7L1492.9,961.2L1494.5,961.7L1496.1,957.8L1497.8,959.8L1499.4,962.1L1501.0,954.4L1502.7,959.1L1504.3,962.0L1505.9,963.6L1507.5,958.9L1509.2,958.3L1510.8,962.1L1512.4,957.0L1514.1,954.9L1515.7,953.7L1517.3,955.5L1519.0,950.6L1520.6,922.0L1522.2,955.2L1523.8,953.9L1525.5,941.3L1527.1,940.1L1528.7,946.7L1530.4,951.8L1532.0,955.7L1533.6,951.0L1535.2,959.5L1536.9,960.0L1538.5,958.0L1540.1,957.1L1541.8,959.0L1543.4,951.9L1545.0,955.3L1546.7,948.4L1548.3,955.8L1549.9,958.2L1551.5,957.5L1553.2,957.6L1554.8,956.9L1556.4,935.8L1558.1,955.1L1559.7,958.2L1561.3,943.6L1563.0,949.9L1564.6,943.0L1566.2,958.3L1567.8,950.7L1569.5,952.5L1571.1,943.2L1572.7,945.9L1574.4,953.1L1576.0,948.6L1577.6,958.5L1579.2,956.7L1580.9,956.2L1582.5,956.3L1584.1,944.9L1585.8,948.9L1587.4,954.3L1589.0,958.9L1590.7,956.1L1592.3,961.7L1593.9,957.7L1595.5,957.0L1597.2,950.1L1598.8,953.8L1600.4,952.1L1602.1,957.6L1603.7,957.1L1605.3,958.2L1607.0,956.4L1608.6,961.7L1610.2,959.2L1611.8,957.5L1613.5,945.9L1615.1,961.9L1616.7,963.9L1618.4,960.7L1620.0,960.7L1621.6,935.4L1623.2,959.8L1624.9,959.2L1626.5,960.9L1628.1,956.2L1629.8,956.9L1631.4,956.1L1633.0,951.8L1634.7,955.2L1636.3,935.6L1637.9,956.9L1639.5,959.1L1641.2,869.9L1642.8,946.0L1644.4,951.3L1646.1,937.5L1647.7,945.1L1649.3,955.6L1651.0,956.5L1652.6,956.6L1654.2,947.5L1655.8,946.9L1657.5,950.9L1659.1,948.0L1660.7,942.1L1662.4,943.9L1664.0,949.3L1665.6,956.8L1667.2,958.4L1668.9,952.7L1670.5,950.2L1672.1,951.4L1673.8,949.4L1675.4,951.6L1677.0,938.2L1678.7,938.7L1680.3,952.2L1681.9,954.4L1683.5,955.1L1685.2,959.1L1686.8,953.8L1688.4,956.7L1690.1,956.2L1691.7,952.3L1693.3,948.0L1695.0,942.4L1696.6,948.7L1698.2,934.7L1699.8,933.4L1701.5,932.8L1703.1,944.6L1704.7,939.7L1706.4,945.6L1708.0,945.9L1709.6,945.7L1711.3,949.7L1712.9,950.2L1714.5,956.8L1716.1,949.5L1717.8,954.8L1719.4,956.2L1721.0,951.5L1722.7,945.9L1724.3,950.3L1725.9,945.6L1727.5,935.0L1729.2,938.0L1730.8,954.3L1732.4,951.0L1734.1,955.6L1735.7,952.7L1737.3,952.1L1739.0,959.2L1740.6,956.8L1742.2,957.2L1743.8,955.1L1745.5,952.6L1747.1,952.9L1748.7,946.0L1750.4,945.0L1752.0,948.7L1753.6,939.9L1755.3,942.2L1756.9,955.5L1758.5,959.1L1760.1,957.9L1761.8,962.1L1763.4,964.3L1765.0,961.1L1766.7,962.8L1768.3,954.0L1769.9,954.6L1771.5,948.7L1773.2,944.2L1774.8,948.8L1776.4,950.1L1778.1,955.3L1779.7,952.0L1781.3,948.8L1783.0,942.9L1784.6,951.0L1786.2,943.1L1787.8,946.7L1789.5,944.2L1791.1,940.4L1792.7,945.9L1794.4,945.0L1796.0,950.1L1797.6,951.1L1799.3,956.2L1800.9,955.1L1802.5,954.0L1804.1,953.3L1805.8,957.6L1807.4,959.8L1809.0,959.2L1810.7,956.0L1812.3,949.8L1813.9,957.8L1815.5,956.3L1817.2,957.0L1818.8,955.0L1820.4,950.5L1822.1,960.3L1823.7,959.1L1825.3,953.1L1827.0,950.5L1828.6,959.7L1830.2,957.4L1831.8,950.9L1833.5,946.4L1835.1,945.9L1836.7,922.5L1838.4,956.7L1840.0,958.2L1841.6,952.4L1843.3,952.1L1844.9,921.9L1846.5,955.3L1848.1,950.1L1849.8,952.0L1851.4,944.0L1853.0,944.4L1854.7,950.3L1856.3,947.7L1857.9,947.1L1859.6,945.3L1861.2,955.6L1862.8,962.2L1864.4,975.3" stroke="#666666"/>
<path d="M445.0,980.9L446.6,980.9L448.3,980.8L449.9,981.0L451.5,980.8L453.1,980.8L454.8,981.0L456.4,980.8L458.0,980.9L459.7,980.8L461.3,980.7L462.9,980.7L464.6,980.9L466.2,981.0L467.8,980.8L469.4,980.8L471.1,980.9L472.7,980.9L474.3,980.8L476.0,980.9L477.6,980.7L479.2,980.9L480.9,980.9L482.5,980.8L484.1,980.8L485.7,980.7L487.4,980.9L489.0,980.7L490.6,980.9L492.3,980.8L493.9,980.7L495.5,980.7L497.1,980.7L498.8,980.6L500.4,980.8L502.0,980.8L503.7,980.7L505.3,979.8L506.9,978.6L508.6,979.5L510.2,979.7L511.8,980.7L513.4,980.6L515.1,980.5L516.7,980.6L518.3,980.8L520.0,980.8L521.6,980.6L523.2,980.9L524.9,980.6L526.5,980.8L528.1,980.9L529.7,980.7L531.4,980.8L533.0,980.5L534.6,980.5L536.3,980.7L537.9,980.8L539.5,980.8L541.2,980.6L542.8,980.6L544.4,980.7L546.0,980.5L547.7,980.6L549.3,980.5L550.9,980.8L552.6,980.8L554.2,980.6L555.8,980.6L557.4,980.7L559.1,980.5L560.7,980.7L562.3,980.6L564.0,980.6L565.6,980.4L567.2,980.4L568.9,980.6L570.5,980.5L572.1,980.3L573.7,980.3L575.4,980.4L577.0,980.7L578.6,980.5L580.3,980.4L581.9,980.6L583.5,980.7L585.2,980.4L586.8,979.6L588.4,979.8L590.0,978.9L591.7,979.7L593.3,980.8L594.9,980.9L596.6,980.6L598.2,980.6L599.8,980.7L601.4,980.9L603.1,980.8L604.7,980.9L606.3,980.5L608.0,980.9L609.6,980.8L611.2,980.6L612.9,980.9L614.5,980.9L616.1,980.9L617.7,980.8L619.4,980.7L621.0,980.6L622.6,980.8L624.3,980.8L625.9,980.6L627.5,980.7L629.2,980.8L630.8,980.9L632.4,980.8L634.0,980.5L635.7,980.9L637.3,980.8L638.9,980.6L640.6,980.5L642.2,980.5L643.8,980.7L645.4,980.5L647.1,980.7L648.7,980.8L650.3,980.7L652.0,980.6L653.6,980.6L655.2,980.8L656.9,980.8L658.5,980.5L660.1,980.9L661.7,980.6L663.4,980.8L665.0,980.8L666.6,980.8L668.3,980.7L669.9,980.5L671.5,980.8L673.2,980.5L674.8,980.8L676.4,980.8L678.0,980.6L679.7,980.7L681.3,980.8L682.9,980.7L684.6,980.5L686.2,980.5L687.8,980.6L689.5,980.9L691.1,980.6L692.7,980.6L694.3,980.5L696.0,980.5L697.6,980.7L699.2,980.5L700.9,980.5L702.5,980.8L704.1,980.7L705.7,980.7L707.4,980.7L709.0,980.7L710.6,980.8L712.3,980.8L713.9,980.5L715.5,980.7L717.2,980.6L718.8,980.5L720.4,980.6L722.0,980.8L723.7,980.5L725.3,980.5L726.9,980.4L728.6,980.6L730.2,980.5L731.8,980.5L733.5,980.8L735.1,980.6L736.7,980.7L738.3,980.5L740.0,980.8L741.6,980.6L743.2,980.7L744.9,980.5L746.5,980.7L748.1,980.5L749.7,980.5L751.4,980.5L753.0,980.8L754.6,980.5L756.3,980.5L757.9,980.6L759.5,980.6L761.2,980.8L762.8,980.5L764.4,980.6L766.0,980.7L767.7,980.7L769.3,980.5L770.9,980.5L772.6,980.5L774.2,980.8L775.8,980.7L777.5,980.7L779.1,980.8L780.7,980.7L782.3,980.8L784.0,980.5L785.6,980.7L787.2,980.8L788.9,980.8L790.5,980.5L792.1,980.8L793.7,980.6L795.4,980.7L797.0,980.5L798.6,980.4L800.3,980.7L801.9,980.6L803.5,980.4L805.2,980.6L806.8,980.4L808.4,980.5L810.0,980.7L811.7,980.4L813.3,980.6L814.9,980.8L816.6,980.6L818.2,980.5L819.8,980.6L821.5,980.6L823.1,980.6L824.7,980.4L826.3,980.5L828.0,980.7L829.6,980.7L831.2,980.7L832.9,980.4L834.5,980.5L836.1,980.8L837.7,980.4L839.4,980.8L841.0,980.6L842.6,980.6L844.3,980.5L845.9,980.6L847.5,980.8L849.2,980.6L850.8,980.4L852.4,980.5L854.0,980.7L855.7,980.7L857.3,980.5L858.9,980.4L860.6,980.7L862.2,980.4L863.8,980.4L865.5,980.6L867.1,980.6L868.7,980.5L870.3,980.4L872.0,980.7L873.6,980.7L875.2,980.6L876.9,980.4L878.5,980.7L880.1,980.5L881.8,980.5L883.4,980.4L885.0,980.6L886.6,980.1L888.3,980.1L889.9,980.3L891.5,980.1L893.2,980.5L894.8,980.0L896.4,980.2L898.0,980.0L899.7,979.9L901.3,980.3L902.9,979.8L904.6,980.3L906.2,980.4L907.8,980.1L909.5,979.7L911.1,979.7L912.7,979.6L914.3,980.0L916.0,979.6L917.6,979.9L919.2,980.2L920.9,979.8L922.5,979.7L924.1,980.0L925.8,979.9L927.4,980.1L929.0,980.1L930.6,980.0L932.3,979.9L933.9,979.9L935.5,980.2L937.2,980.3L938.8,980.0L940.4,979.7L942.0,979.7L943.7,980.1L945.3,980.1L946.9,979.9L948.6,980.2L950.2,979.8L951.8,979.6L953.5,980.1L955.1,979.8L956.7,979.7L958.3,979.7L960.0,979.7L961.6,979.7L963.2,980.1L964.9,979.6L966.5,979.5L968.1,980.2L969.8,979.5L971.4,979.9L973.0,980.2L974.6,980.2L976.3,979.6L977.9,979.7L979.5,980.1L981.2,979.9L982.8,979.7L984.4,979.4L986.0,980.0L987.7,979.6L989.3,980.0L990.9,980.1L992.6,980.1L994.2,979.9L995.8,979.7L997.5,980.0L999.1,980.1L1000.7,980.1L1002.3,980.2L1004.0,980.1L1005.6,980.0L1007.2,979.8L1008.9,980.1L1010.5,979.8L1012.1,979.8L1013.8,979.4L1015.4,979.8L1017.0,979.4L1018.6,979.8L1020.3,980.0L1021.9,979.7L1023.5,980.1L1025.2,980.1L1026.8,980.1L1028.4,979.6L1030.1,979.4L1031.7,979.8L1033.3,979.9L1034.9,979.8L1036.6,979.9L1038.2,979.6L1039.8,979.8L1041.5,980.1L1043.1,979.4L1044.7,979.7L1046.3,980.2L1048.0,979.4L1049.6,979.5L1051.2,979.9L1052.9,979.6L1054.5,979.4L1056.1,979.8L1057.8,979.8L1059.4,979.9L1061.0,979.7L1062.6,979.6L1064.3,979.5L1065.9,979.3L1067.5,980.0L1069.2,979.8L1070.8,979.4L1072.4,979.4L1074.1,979.6L1075.7,979.5L1077.3,979.8L1078.9,979.3L1080.6,979.6L1082.2,979.8L1083.8,980.0L1085.5,980.0L1087.1,979.3L1088.7,979.4L1090.3,980.1L1092.0,979.8L1093.6,979.7L1095.2,979.7L1096.9,979.8L1098.5,979.3L1100.1,979.8L1101.8,979.6L1103.4,979.2L1105.0,979.5L1106.6,979.7L1108.3,979.8L1109.9,979.7L1111.5,979.5L1113.2,979.4L1114.8,979.9L1116.4,979.7L1118.1,979.7L1119.7,979.7L1121.3,979.2L1122.9,979.6L1124.6,979.8L1126.2,979.8L1127.8,979.3L1129.5,979.9L1131.1,979.4L1132.7,980.1L1134.3,979.9L1136.0,980.0L1137.6,979.3L1139.2,979.9L1140.9,979.8L1142.5,980.0L1144.1,979.8L1145.8,979.4L1147.4,979.4L1149.0,979.2L1150.6,979.1L1152.3,979.5L1153.9,979.2L1155.5,980.0L1157.2,979.1L1158.8,979.6L1160.4,979.9L1162.1,979.3L1163.7,979.2L1165.3,979.7L1166.9,979.9L1168.6,979.2L1170.2,979.3L1171.8,979.4L1173.5,979.1L1175.1,980.0L1176.7,980.0L1178.3,979.9L1180.0,980.0L1181.6,979.3L1183.2,979.4L1184.9,979.9L1186.5,979.8L1188.1,979.8L1189.8,979.4L1191.4,979.3L1193.0,979.0L1194.6,979.6L1196.3,979.0L1197.9,979.6L1199.5,979.6L1201.2,979.7L1202.8,979.8L1204.4,979.0L1206.1,979.0L1207.7,979.3L1209.3,979.8L1210.9,979.8L1212.6,979.8L1214.2,979.6L1215.8,979.2L1217.5,979.9L1219.1,979.4L1220.7,979.3L1222.4,979.9L1224.0,979.5L1225.6,979.1L1227.2,979.4L1228.9,979.5L1230.5,979.0L1232.1,979.3L1233.8,979.6L1235.4,979.5L1237.0,979.0L1238.6,979.1L1240.3,979.0L1241.9,979.4L1243.5,979.8L1245.2,979.8L1246.8,979.5L1248.4,979.2L1250.1,979.9L1251.7,979.1L1253.3,979.1L1254.9,979.4L1256.6,979.9L1258.2,979.1L1259.8,979.5L1261.5,979.2L1263.1,979.3L1264.7,979.2L1266.4,979.5L1268.0,978.9L1269.6,978.9L1271.2,979.0L1272.9,979.3L1274.5,979.6L1276.1,979.5L1277.8,979.6L1279.4,979.0L1281.0,979.1L1282.6,979.1L1284.3,979.1L1285.9,978.9L1287.5,979.2L1289.2,979.6L1290.8,979.1L1292.4,979.6L1294.1,979.3L1295.7,979.7L1297.3,979.0L1298.9,979.4L1300.6,979.6L1302.2,978.9L1303.8,979.8L1305.5,978.9L1307.1,979.1L1308.7,979.7L1310.4,979.1L1312.0,979.3L1313.6,978.9L1315.2,979.3L1316.9,979.4L1318.5,978.9L1320.1,979.8L1321.8,979.1L1323.4,979.8L1325.0,979.6L1326.6,979.8L1328.3,979.0L1329.9,979.4L1331.5,979.1L1333.2,979.6L1334.8,979.1L1336.4,979.2L1338.1,979.8L1339.7,979.3L1341.3,979.1L1342.9,979.6L1344.6,979.2L1346.2,979.6L1347.8,979.5L1349.5,978.9L1351.1,978.9L1352.7,978.8L1354.4,979.4L1356.0,979.2L1357.6,979.0L1359.2,979.0L1360.9,979.4L1362.5,978.9L1364.1,979.4L1365.8,978.8L1367.4,979.3L1369.0,979.7L1370.7,979.0L1372.3,979.7L1373.9,979.1L1375.5,979.8L1377.2,978.8L1378.8,979.3L1380.4,979.0L1382.1,979.7L1383.7,979.2L1385.3,979.4L1386.9,979.6L1388.6,979.0L1390.2,979.8L1391.8,979.3L1393.5,979.7L1395.1,978.9L1396.7,978.9L1398.4,979.8L1400.0,979.3L1401.6,979.3L1403.2,979.0L1404.9,979.0L1406.5,979.5L1408.1,978.8L1409.8,979.6L1411.4,979.7L1413.0,978.9L1414.7,979.7L1416.3,979.6L1417.9,979.3L1419.5,979.5L1421.2,979.6L1422.8,978.8L1424.4,979.3L1426.1,978.9L1427.7,979.5L1429.3,978.8L1430.9,979.6L1432.6,978.8L1434.2,979.1L1435.8,978.7L1437.5,978.9L1439.1,979.1L1440.7,979.2L1442.4,978.9L1444.0,979.3L1445.6,979.7L1447.2,978.8L1448.9,978.9L1450.5,979.0L1452.1,979.0L1453.8,979.5L1455.4,979.3L1457.0,978.9L1458.7,978.7L1460.3,978.8L1461.9,979.6L1463.5,979.0L1465.2,979.2L1466.8,979.3L1468.4,979.6L1470.1,979.6L1471.7,979.3L1473.3,979.2L1474.9,979.5L1476.6,979.4L1478.2,979.2L1479.8,978.9L1481.5,979.1L1483.1,979.6L1484.7,978.8L1486.4,979.4L1488.0,978.7L1489.6,978.7L1491.2,979.6L1492.9,979.1L1494.5,978.7L1496.1,979.3L1497.8,979.1L1499.4,979.4L1501.0,979.7L1502.7,979.5L1504.3,979.6L1505.9,979.4L1507.5,979.0L1509.2,979.1L1510.8,978.7L1512.4,979.0L1514.1,979.2L1515.7,976.5L1517.3,975.4L1519.0,977.2L1520.6,978.8L1522.2,978.7L1523.8,979.1L1525.5,978.8L1527.1,979.2L1528.7,978.3L1530.4,979.3L1532.0,978.3L1533.6,979.5L1535.2,979.6L1536.9,978.9L1538.5,979.3L1540.1,978.9L1541.8,979.4L1543.4,978.5L1545.0,978.7L1546.7,978.7L1548.3,978.4L1549.9,978.3L1551.5,978.7L1553.2,978.7L1554.8,979.6L1556.4,979.5L1558.1,979.0L1559.7,978.3L1561.3,979.2L1563.0,978.8L1564.6,979.6L1566.2,979.0L1567.8,978.4L1569.5,978.8L1571.1,978.5L1572.7,979.6L1574.4,979.3L1576.0,979.3L1577.6,978.5L1579.2,979.4L1580.9,978.4L1582.5,979.2L1584.1,978.4L1585.8,978.9L1587.4,979.2L1589.0,978.3L1590.7,979.1L1592.3,978.7L1593.9,979.5L1595.5,978.5L1597.2,978.3L1598.8,979.4L1600.4,978.6L1602.1,979.2L1603.7,979.4L1605.3,979.1L1607.0,978.7L1608.6,978.3L1610.2,978.3L1611.8,978.3L1613.5,978.8L1615.1,978.7L1616.7,979.4L1618.4,978.6L1620.0,978.9L1621.6,979.1L1623.2,978.4L1624.9,979.2L1626.5,979.4L1628.1,979.4L1629.8,979.4L1631.4,978.8L1633.0,978.5L1634.7,979.4L1636.3,978.9L1637.9,978.9L1639.5,974.7L1641.2,971.1L1642.8,974.7L1644.4,978.9L1646.1,979.3L1647.7,978.8L1649.3,979.1L1651.0,978.3L1652.6,979.1L1654.2,978.2L1655.8,979.1L1657.5,979.3L1659.1,978.7L1660.7,978.9L1662.4,978.9L1664.0,978.3L1665.6,979.1L1667.2,978.5L1668.9,978.3L1670.5,978.8L1672.1,978.7L1673.8,978.2L1675.4,978.6L1677.0,979.2L1678.7,979.3L1680.3,979.3L1681.9,979.0L1683.5,979.3L1685.2,978.6L1686.8,978.9L1688.4,979.0L1690.1,978.8L1691.7,978.2L1693.3,979.1L1695.0,979.3L1696.6,979.1L1698.2,979.0L1699.8,978.2L1701.5,978.5L1703.1,978.9L1704.7,979.3L1706.4,979.4L1708.0,979.3L1709.6,978.4L1711.3,978.6L1712.9,979.3L1714.5,978.7L1716.1,979.4L1717.8,978.8L1719.4,979.1L1721.0,979.4L1722.7,978.5L1724.3,978.6L1725.9,978.8L1727.5,979.3L1729.2,978.6L1730.8,979.0L1732.4,978.7L1734.1,979.4L1735.7,978.4L1737.3,979.5L1739.0,979.3L1740.6,979.0L1742.2,979.3L1743.8,979.4L1745.5,978.7L1747.1,978.3L1748.7,979.1L1750.4,979.2L1752.0,978.7L1753.6,979.3L1755.3,979.1L1756.9,978.7L1758.5,979.0L1760.1,979.4L1761.8,979.5L1763.4,978.9L1765.0,978.3L1766.7,978.4L1768.3,979.5L1769.9,979.0L1771.5,979.0L1773.2,979.4L1774.8,978.8L1776.4,979.0L1778.1,978.6L1779.7,979.3L1781.3,978.4L1783.0,978.6L1784.6,979.0L1786.2,979.5L1787.8,979.0L1789.5,979.5L1791.1,978.8L1792.7,978.8L1794.4,978.9L1796.0,978.4L1797.6,979.6L1799.3,978.8L1800.9,978.7L1802.5,979.5L1804.1,979.3L1805.8,979.6L1807.4,979.0L1809.0,978.8L1810.7,979.2L1812.3,978.8L1813.9,979.2L1815.5,978.8L1817.2,979.3L1818.8,978.5L1820.4,979.2L1822.1,979.7L1823.7,979.6L1825.3,978.8L1827.0,978.7L1828.6,978.9L1830.2,979.5L1831.8,978.7L1833.5,978.9L1835.1,979.6L1836.7,979.3L1838.4,978.9L1840.0,979.7L1841.6,979.7L1843.3,979.3L1844.9,978.7L1846.5,978.6L1848.1,979.4L1849.8,978.7L1851.4,978.8L1853.0,978.7L1854.7,979.1L1856.3,978.6L1857.9,979.0L1859.6,978.7L1861.2,979.1L1862.8,979.3L1864.4,981.0L1864.4,981.5L445.0,981.5Z" fill="#E04355" fill-opacity="0.2" stroke="none"/>
<path d="M445.0,980.9L446.6,980.9L448.3,980.8L449.9,981.0L451.5,980.8L453.1,980.8L454.8,981.0L456.4,980.8L458.0,980.9L459.7,980.8L461.3,980.7L462.9,980.7L464.6,980.9L466.2,981.0L467.8,980.8L469.4,980.8L471.1,980.9L472.7,980.9L474.3,980.8L476.0,980.9L477.6,980.7L479.2,980.9L480.9,980.9L482.5,980.8L484.1,980.8L485.7,980.7L487.4,980.9L489.0,980.7L490.6,980.9L492.3,980.8L493.9,980.7L495.5,980.7L497.1,980.7L498.8,980.6L500.4,980.8L502.0,980.8L503.7,980.7L505.3,979.8L506.9,978.6L508.6,979.5L510.2,979.7L511.8,980.7L513.4,980.6L515.1,980.5L516.7,980.6L518.3,980.8L520.0,980.8L521.6,980.6L523.2,980.9L524.9,980.6L526.5,980.8L528.1,980.9L529.7,980.7L531.4,980.8L533.0,980.5L534.6,980.5L536.3,980.7L537.9,980.8L539.5,980.8L541.2,980.6L542.8,980.6L544.4,980.7L546.0,980.5L547.7,980.6L549.3,980.5L550.9,980.8L552.6,980.8L554.2,980.6L555.8,980.6L557.4,980.7L559.1,980.5L560.7,980.7L562.3,980.6L564.0,980.6L565.6,980.4L567.2,980.4L568.9,980.6L570.5,980.5L572.1,980.3L573.7,980.3L575.4,980.4L577.0,980.7L578.6,980.5L580.3,980.4L581.9,980.6L583.5,980.7L585.2,980.4L586.8,979.6L588.4,979.8L590.0,978.9L591.7,979.7L593.3,980.8L594.9,980.9L596.6,980.6L598.2,980.6L599.8,980.7L601.4,980.9L603.1,980.8L604.7,980.9L606.3,980.5L608.0,980.9L609.6,980.8L611.2,980.6L612.9,980.9L614.5,980.9L616.1,980.9L617.7,980.8L619.4,980.7L621.0,980.6L622.6,980.8L624.3,980.8L625.9,980.6L627.5,980.7L629.2,980.8L630.8,980.9L632.4,980.8L634.0,980.5L635.7,980.9L637.3,980.8L638.9,980.6L640.6,980.5L642.2,980.5L643.8,980.7L645.4,980.5L647.1,980.7L648.7,980.8L650.3,980.7L652.0,980.6L653.6,980.6L655.2,980.8L656.9,980.8L658.5,980.5L660.1,980.9L661.7,980.6L663.4,980.8L665.0,980.8L666.6,980.8L668.3,980.7L669.9,980.5L671.5,980.8L673.2,980.5L674.8,980.8L676.4,980.8L678.0,980.6L679.7,980.7L681.3,980.8L682.9,980.7L684.6,980.5L686.2,980.5L687.8,980.6L689.5,980.9L691.1,980.6L692.7,980.6L694.3,980.5L696.0,980.5L697.6,980.7L699.2,980.5L700.9,980.5L702.5,980.8L704.1,980.7L705.7,980.7L707.4,980.7L709.0,980.7L710.6,980.8L712.3,980.8L713.9,980.5L715.5,980.7L717.2,980.6L718.8,980.5L720.4,980.6L722.0,980.8L723.7,980.5L725.3,980.5L726.9,980.4L728.6,980.6L730.2,980.5L731.8,980.5L733.5,980.8L735.1,980.6L736.7,980.7L738.3,980.5L740.0,980.8L741.6,980.6L743.2,980.7L744.9,980.5L746.5,980.7L748.1,980.5L749.7,980.5L751.4,980.5L753.0,980.8L754.6,980.5L756.3,980.5L757.9,980.6L759.5,980.6L761.2,980.8L762.8,980.5L764.4,980.6L766.0,980.7L767.7,980.7L769.3,980.5L770.9,980.5L772.6,980.5L774.2,980.8L775.8,980.7L777.5,980.7L779.1,980.8L780.7,980.7L782.3,980.8L784.0,980.5L785.6,980.7L787.2,980.8L788.9,980.8L790.5,980.5L792.1,980.8L793.7,980.6L795.4,980.7L797.0,980.5L798.6,980.4L800.3,980.7L801.9,980.6L803.5,980.4L805.2,980.6L806.8,980.4L808.4,980.5L810.0,980.7L811.7,980.4L813.3,980.6L814.9,980.8L816.6,980.6L818.2,980.5L819.8,980.6L821.5,980.6L823.1,980.6L824.7,980.4L826.3,980.5L828.0,980.7L829.6,980.7L831.2,980.7L832.9,980.4L834.5,980.5L836.1,980.8L837.7,980.4L839.4,980.8L841.0,980.6L842.6,980.6L844.3,980.5L845.9,980.6L847.5,980.8L849.2,980.6L850.8,980.4L852.4,980.5L854.0,980.7L855.7,980.7L857.3,980.5L858.9,980.4L860.6,980.7L862.2,980.4L863.8,980.4L865.5,980.6L867.1,980.6L868.7,980.5L870.3,980.4L872.0,980.7L873.6,980.7L875.2,980.6L876.9,980.4L878.5,980.7L880.1,980.5L881.8,980.5L883.4,980.4L885.0,980.6L886.6,980.1L888.3,980.1L889.9,980.3L891.5,980.1L893.2,980.5L894.8,980.0L896.4,980.2L898.0,980.0L899.7,979.9L901.3,980.3L902.9,979.8L904.6,980.3L906.2,980.4L907.8,980.1L909.5,979.7L911.1,979.7L912.7,979.6L914.3,980.0L916.0,979.6L917.6,979.9L919.2,980.2L920.9,979.8L922.5,979.7L924.1,980.0L925.8,979.9L927.4,980.1L929.0,980.1L930.6,980.0L932.3,979.9L933.9,979.9L935.5,980.2L937.2,980.3L938.8,980.0L940.4,979.7L942.0,979.7L943.7,980.1L945.3,980.1L946.9,979.9L948.6,980.2L950.2,979.8L951.8,979.6L953.5,980.1L955.1,979.8L956.7,979.7L958.3,979.7L960.0,979.7L961.6,979.7L963.2,980.1L964.9,979.6L966.5,979.5L968.1,980.2L969.8,979.5L971.4,979.9L973.0,980.2L974.6,980.2L976.3,979.6L977.9,979.7L979.5,980.1L981.2,979.9L982.8,979.7L984.4,979.4L986.0,980.0L987.7,979.6L989.3,980.0L990.9,980.1L992.6,980.1L994.2,979.9L995.8,979.7L997.5,980.0L999.1,980.1L1000.7,980.1L1002.3,980.2L1004.0,980.1L1005.6,980.0L1007.2,979.8L1008.9,980.1L1010.5,979.8L1012.1,979.8L1013.8,979.4L1015.4,979.8L1017.0,979.4L1018.6,979.8L1020.3,980.0L1021.9,979.7L1023.5,980.1L1025.2,980.1L1026.8,980.1L1028.4,979.6L1030.1,979.4L1031.7,979.8L1033.3,979.9L1034.9,979.8L1036.6,979.9L1038.2,979.6L1039.8,979.8L1041.5,980.1L1043.1,979.4L1044.7,979.7L1046.3,980.2L1048.0,979.4L1049.6,979.5L1051.2,979.9L1052.9,979.6L1054.5,979.4L1056.1,979.8L1057.8,979.8L1059.4,979.9L1061.0,979.7L1062.6,979.6L1064.3,979.5L1065.9,979.3L1067.5,980.0L1069.2,979.8L1070.8,979.4L1072.4,979.4L1074.1,979.6L1075.7,979.5L1077.3,979.8L1078.9,979.3L1080.6,979.6L1082.2,979.8L1083.8,980.0L1085.5,980.0L1087.1,979.3L1088.7,979.4L1090.3,980.1L1092.0,979.8L1093.6,979.7L1095.2,979.7L1096.9,979.8L1098.5,979.3L1100.1,979.8L1101.8,979.6L1103.4,979.2L1105.0,979.5L1106.6,979.7L1108.3,979.8L1109.9,979.7L1111.5,979.5L1113.2,979.4L1114.8,979.9L1116.4,979.7L1118.1,979.7L1119.7,979.7L1121.3,979.2L1122.9,979.6L1124.6,979.8L1126.2,979.8L1127.8,979.3L1129.5,979.9L1131.1,979.4L1132.7,980.1L1134.3,979.9L1136.0,980.0L1137.6,979.3L1139.2,979.9L1140.9,979.8L1142.5,980.0L1144.1,979.8L1145.8,979.4L1147.4,979.4L1149.0,979.2L1150.6,979.1L1152.3,979.5L1153.9,979.2L1155.5,980.0L1157.2,979.1L1158.8,979.6L1160.4,979.9L1162.1,979.3L1163.7,979.2L1165.3,979.7L1166.9,979.9L1168.6,979.2L1170.2,979.3L1171.8,979.4L1173.5,979.1L1175.1,980.0L1176.7,980.0L1178.3,979.9L1180.0,980.0L1181.6,979.3L1183.2,979.4L1184.9,979.9L1186.5,979.8L1188.1,979.8L1189.8,979.4L1191.4,979.3L1193.0,979.0L1194.6,979.6L1196.3,979.0L1197.9,979.6L1199.5,979.6L1201.2,979.7L1202.8,979.8L1204.4,979.0L1206.1,979.0L1207.7,979.3L1209.3,979.8L1210.9,979.8L1212.6,979.8L1214.2,979.6L1215.8,979.2L1217.5,979.9L1219.1,979.4L1220.7,979.3L1222.4,979.9L1224.0,979.5L1225.6,979.1L1227.2,979.4L1228.9,979.5L1230.5,979.0L1232.1,979.3L1233.8,979.6L1235.4,979.5L1237.0,979.0L1238.6,979.1L1240.3,979.0L1241.9,979.4L1243.5,979.8L1245.2,979.8L1246.8,979.5L1248.4,979.2L1250.1,979.9L1251.7,979.1L1253.3,979.1L1254.9,979.4L1256.6,979.9L1258.2,979.1L1259.8,979.5L1261.5,979.2L1263.1,979.3L1264.7,979.2L1266.4,979.5L1268.0,978.9L1269.6,978.9L1271.2,979.0L1272.9,979.3L1274.5,979.6L1276.1,979.5L1277.8,979.6L1279.4,979.0L1281.0,979.1L1282.6,979.1L1284.3,979.1L1285.9,978.9L1287.5,979.2L1289.2,979.6L1290.8,979.1L1292.4,979.6L1294.1,979.3L1295.7,979.7L1297.3,979.0L1298.9,979.4L1300.6,979.6L1302.2,978.9L1303.8,979.8L1305.5,978.9L1307.1,979.1L1308.7,979.7L1310.4,979.1L1312.0,979.3L1313.6,978.9L1315.2,979.3L1316.9,979.4L1318.5,978.9L1320.1,979.8L1321.8,979.1L1323.4,979.8L1325.0,979.6L1326.6,979.8L1328.3,979.0L1329.9,979.4L1331.5,979.1L1333.2,979.6L1334.8,979.1L1336.4,979.2L1338.1,979.8L1339.7,979.3L1341.3,979.1L1342.9,979.6L1344.6,979.2L1346.2,979.6L1347.8,979.5L1349.5,978.9L1351.1,978.9L1352.7,978.8L1354.4,979.4L1356.0,979.2L1357.6,979.0L1359.2,979.0L1360.9,979.4L1362.5,978.9L1364.1,979.4L1365.8,978.8L1367.4,979.3L1369.0,979.7L1370.7,979.0L1372.3,979.7L1373.9,979.1L1375.5,979.8L1377.2,978.8L1378.8,979.3L1380.4,979.0L1382.1,979.7L1383.7,979.2L1385.3,979.4L1386.9,979.6L1388.6,979.0L1390.2,979.8L1391.8,979.3L1393.5,979.7L1395.1,978.9L1396.7,978.9L1398.4,979.8L1400.0,979.3L1401.6,979.3L1403.2,979.0L1404.9,979.0L1406.5,979.5L1408.1,978.8L1409.8,979.6L1411.4,979.7L1413.0,978.9L1414.7,979.7L1416.3,979.6L1417.9,979.3L1419.5,979.5L1421.2,979.6L1422.8,978.8L1424.4,979.3L1426.1,978.9L1427.7,979.5L1429.3,978.8L1430.9,979.6L1432.6,978.8L1434.2,979.1L1435.8,978.7L1437.5,978.9L1439.1,979.1L1440.7,979.2L1442.4,978.9L1444.0,979.3L1445.6,979.7L1447.2,978.8L1448.9,978.9L1450.5,979.0L1452.1,979.0L1453.8,979.5L1455.4,979.3L1457.0,978.9L1458.7,978.7L1460.3,978.8L1461.9,979.6L1463.5,979.0L1465.2,979.2L1466.8,979.3L1468.4,979.6L1470.1,979.6L1471.7,979.3L1473.3,979.2L1474.9,979.5L1476.6,979.4L1478.2,979.2L1479.8,978.9L1481.5,979.1L1483.1,979.6L1484.7,978.8L1486.4,979.4L1488.0,978.7L1489.6,978.7L1491.2,979.6L1492.9,979.1L1494.5,978.7L1496.1,979.3L1497.8,979.1L1499.4,979.4L1501.0,979.7L1502.7,979.5L1504.3,979.6L1505.9,979.4L1507.5,979.0L1509.2,979.1L1510.8,978.7L1512.4,979.0L1514.1,979.2L1515.7,976.5L1517.3,975.4L1519.0,977.2L1520.6,978.8L1522.2,978.7L1523.8,979.1L1525.5,978.8L1527.1,979.2L1528.7,978.3L1530.4,979.3L1532.0,978.3L1533.6,979.5L1535.2,979.6L1536.9,978.9L1538.5,979.3L1540.1,978.9L1541.8,979.4L1543.4,978.5L1545.0,978.7L1546.7,978.7L1548.3,978.4L1549.9,978.3L1551.5,978.7L1553.2,978.7L1554.8,979.6L1556.4,979.5L1558.1,979.0L1559.7,978.3L1561.3,979.2L1563.0,978.8L1564.6,979.6L1566.2,979.0L1567.8,978.4L1569.5,978.8L1571.1,978.5L1572.7,979.6L1574.4,979.3L1576.0,979.3L1577.6,978.5L1579.2,979.4L1580.9,978.4L1582.5,979.2L1584.1,978.4L1585.8,978.9L1587.4,979.2L1589.0,978.3L1590.7,979.1L1592.3,978.7L1593.9,979.5L1595.5,978.5L1597.2,978.3L1598.8,979.4L1600.4,978.6L1602.1,979.2L1603.7,979.4L1605.3,979.1L1607.0,978.7L1608.6,978.3L1610.2,978.3L1611.8,978.3L1613.5,978.8L1615.1,978.7L1616.7,979.4L1618.4,978.6L1620.0,978.9L1621.6,979.1L1623.2,978.4L1624.9,979.2L1626.5,979.4L1628.1,979.4L1629.8,979.4L1631.4,978.8L1633.0,978.5L1634.7,979.4L1636.3,978.9L1637.9,978.9L1639.5,974.7L1641.2,971.1L1642.8,974.7L1644.4,978.9L1646.1,979.3L1647.7,978.8L1649.3,979.1L1651.0,978.3L1652.6,979.1L1654.2,978.2L1655.8,979.1L1657.5,979.3L1659.1,978.7L1660.7,978.9L1662.4,978.9L1664.0,978.3L1665.6,979.1L1667.2,978.5L1668.9,978.3L1670.5,978.8L1672.1,978.7L1673.8,978.2L1675.4,978.6L1677.0,979.2L1678.7,979.3L1680.3,979.3L1681.9,979.0L1683.5,979.3L1685.2,978.6L1686.8,978.9L1688.4,979.0L1690.1,978.8L1691.7,978.2L1693.3,979.1L1695.0,979.3L1696.6,979.1L1698.2,979.0L1699.8,978.2L1701.5,978.5L1703.1,978.9L1704.7,979.3L1706.4,979.4L1708.0,979.3L1709.6,978.4L1711.3,978.6L1712.9,979.3L1714.5,978.7L1716.1,979.4L1717.8,978.8L1719.4,979.1L1721.0,979.4L1722.7,978.5L1724.3,978.6L1725.9,978.8L1727.5,979.3L1729.2,978.6L1730.8,979.0L1732.4,978.7L1734.1,979.4L1735.7,978.4L1737.3,979.5L1739.0,979.3L1740.6,979.0L1742.2,979.3L1743.8,979.4L1745.5,978.7L1747.1,978.3L1748.7,979.1L1750.4,979.2L1752.0,978.7L1753.6,979.3L1755.3,979.1L1756.9,978.7L1758.5,979.0L1760.1,979.4L1761.8,979.5L1763.4,978.9L1765.0,978.3L1766.7,978.4L1768.3,979.5L1769.9,979.0L1771.5,979.0L1773.2,979.4L1774.8,978.8L1776.4,979.0L1778.1,978.6L1779.7,979.3L1781.3,978.4L1783.0,978.6L1784.6,979.0L1786.2,979.5L1787.8,979.0L1789.5,979.5L1791.1,978.8L1792.7,978.8L1794.4,978.9L1796.0,978.4L1797.6,979.6L1799.3,978.8L1800.9,978.7L1802.5,979.5L1804.1,979.3L1805.8,979.6L1807.4,979.0L1809.0,978.8L1810.7,979.2L1812.3,978.8L1813.9,979.2L1815.5,978.8L1817.2,979.3L1818.8,978.5L1820.4,979.2L1822.1,979.7L1823.7,979.6L1825.3,978.8L1827.0,978.7L1828.6,978.9L1830.2,979.5L1831.8,978.7L1833.5,978.9L1835.1,979.6L1836.7,979.3L1838.4,978.9L1840.0,979.7L1841.6,979.7L1843.3,979.3L1844.9,978.7L1846.5,978.6L1848.1,979.4L1849.8,978.7L1851.4,978.8L1853.0,978.7L1854.7,979.1L1856.3,978.6L1857.9,979.0L1859.6,978.7L1861.2,979.1L1862.8,979.3L1864.4,981.0" stroke="#E04355"/>
<path d="M445.0,981.2L446.6,981.2L448.3,981.2L449.9,981.2L451.5,981.2L453.1,981.2L454.8,981.2L456.4,981.2L458.0,981.2L459.7,981.2L461.3,981.2L462.9,981.2L464.6,981.2L466.2,981.2L467.8,981.1L469.4,981.2L471.1,981.1L472.7,981.2L474.3,981.2L476.0,981.1L477.6,981.2L479.2,981.2L480.9,981.2L482.5,981.2L484.1,981.1L485.7,981.1L487.4,981.2L489.0,981.1L490.6,981.2L492.3,981.2L493.9,981.2L495.5,981.2L497.1,981.2L498.8,981.1L500.4,981.1L502.0,981.2L503.7,981.2L505.3,981.1L506.9,981.2L508.6,981.2L510.2,981.2L511.8,981.2L513.4,981.2L515.1,981.3L516.7,981.2L518.3,981.3L520.0,981.1L521.6,981.2L523.2,981.2L524.9,981.1L526.5,981.1L528.1,981.2L529.7,981.2L531.4,981.3L533.0,981.1L534.6,981.1L536.3,981.2L537.9,981.2L539.5,981.2L541.2,981.2L542.8,981.1L544.4,981.1L546.0,981.1L547.7,981.1L549.3,981.2L550.9,981.2L552.6,981.2L554.2,981.1L555.8,981.2L557.4,981.2L559.1,981.2L560.7,981.1L562.3,981.1L564.0,981.2L565.6,981.1L567.2,981.1L568.9,981.2L570.5,981.2L572.1,981.1L573.7,981.2L575.4,981.3L577.0,981.1L578.6,981.2L580.3,981.2L581.9,981.2L583.5,981.2L585.2,981.3L586.8,981.2L588.4,981.2L590.0,981.3L591.7,981.2L593.3,981.1L594.9,981.2L596.6,981.1L598.2,981.2L599.8,981.2L601.4,981.3L603.1,981.1L604.7,981.2L606.3,981.2L608.0,981.2L609.6,981.1L611.2,981.1L612.9,981.2L614.5,981.2L616.1,981.2L617.7,981.2L619.4,981.3L621.0,981.2L622.6,981.2L624.3,981.2L625.9,981.2L627.5,981.3L629.2,981.2L630.8,981.2L632.4,981.2L634.0,981.2L635.7,981.1L637.3,981.3L638.9,981.1L640.6,981.2L642.2,981.1L643.8,981.2L645.4,981.2L647.1,981.2L648.7,981.3L650.3,981.1L652.0,981.1L653.6,981.2L655.2,981.1L656.9,981.2L658.5,981.1L660.1,981.3L661.7,981.2L663.4,981.2L665.0,981.2L666.6,981.1L668.3,981.1L669.9,981.2L671.5,981.2L673.2,981.1L674.8,981.3L676.4,981.2L678.0,981.1L679.7,981.2L681.3,981.1L682.9,981.3L684.6,981.2L686.2,981.2L687.8,981.3L689.5,981.3L691.1,981.3L692.7,981.2L694.3,981.2L696.0,981.2L697.6,981.2L699.2,981.1L700.9,981.2L702.5,981.1L704.1,981.2L705.7,981.2L707.4,981.2L709.0,981.2L710.6,981.1L712.3,981.2L713.9,981.1L715.5,981.2L717.2,981.2L718.8,981.1L720.4,981.2L722.0,981.2L723.7,981.3L725.3,981.1L726.9,981.2L728.6,981.2L730.2,981.1L731.8,981.2L733.5,981.2L735.1,981.2L736.7,981.1L738.3,981.2L740.0,981.2L741.6,981.1L743.2,981.2L744.9,981.2L746.5,981.2L748.1,981.1L749.7,981.1L751.4,981.2L753.0,981.2L754.6,981.2L756.3,981.1L757.9,981.2L759.5,981.1L761.2,981.2L762.8,981.1L764.4,981.3L766.0,981.2L767.7,981.1L769.3,981.1L770.9,981.1L772.6,981.2L774.2,981.2L775.8,981.2L777.5,981.2L779.1,981.1L780.7,981.1L782.3,981.2L784.0,981.1L785.6,981.2L787.2,981.1L788.9,981.2L790.5,981.2L792.1,981.2L793.7,981.2L795.4,981.2L797.0,981.2L798.6,981.1L800.3,981.2L801.9,981.2L803.5,981.1L805.2,981.2L806.8,981.1L808.4,981.1L810.0,981.2L811.7,981.2L813.3,981.2L814.9,981.1L816.6,981.2L818.2,981.1L819.8,981.2L821.5,981.2L823.1,981.1L824.7,981.1L826.3,981.1L828.0,981.2L829.6,981.1L831.2,981.3L832.9,981.1L834.5,981.1L836.1,981.1L837.7,981.2L839.4,981.1L841.0,981.2L842.6,981.1L844.3,981.2L845.9,981.3L847.5,981.1L849.2,981.2L850.8,981.1L852.4,981.1L854.0,981.2L855.7,981.1L857.3,981.2L858.9,981.1L860.6,981.2L862.2,981.3L863.8,981.2L865.5,981.2L867.1,981.2L868.7,981.1L870.3,981.2L872.0,981.2L873.6,981.2L875.2,981.2L876.9,981.1L878.5,981.1L880.1,981.1L881.8,981.1L883.4,981.2L885.0,981.1L886.6,981.2L888.3,981.1L889.9,981.1L891.5,981.1L893.2,981.2L894.8,981.2L896.4,981.1L898.0,981.1L899.7,981.1L901.3,981.1L902.9,981.2L904.6,981.1L906.2,981.2L907.8,981.1L909.5,981.2L911.1,981.2L912.7,981.1L914.3,981.2L916.0,981.1L917.6,981.1L919.2,981.2L920.9,981.1L922.5,981.2L924.1,981.2L925.8,981.2L927.4,981.1L929.0,981.2L930.6,981.2L932.3,981.2L933.9,981.3L935.5,981.1L937.2,981.1L938.8,981.1L940.4,981.2L942.0,981.2L943.7,981.2L945.3,981.1L946.9,981.1L948.6,981.2L950.2,981.1L951.8,981.2L953.5,981.1L955.1,981.2L956.7,981.2L958.3,981.1L960.0,981.2L961.6,981.1L963.2,981.2L964.9,981.1L966.5,981.2L968.1,981.2L969.8,981.1L971.4,981.2L973.0,981.2L974.6,981.1L976.3,981.2L977.9,981.2L979.5,981.3L981.2,981.1L982.8,981.2L984.4,981.1L986.0,981.1L987.7,981.1L989.3,981.1L990.9,981.2L992.6,981.1L994.2,981.2L995.8,981.1L997.5,981.1L999.1,981.1L1000.7,981.1L1002.3,981.2L1004.0,981.1L1005.6,981.1L1007.2,981.2L1008.9,981.2L1010.5,981.2L1012.1,981.1L1013.8,981.2L1015.4,981.2L1017.0,981.1L1018.6,981.2L1020.3,981.2L1021.9,981.2L1023.5,981.1L1025.2,981.2L1026.8,981.2L1028.4,981.1L1030.1,981.2L1031.7,981.1L1033.3,981.1L1034.9,981.3L1036.6,981.1L1038.2,981.2L1039.8,981.2L1041.5,981.1L1043.1,981.1L1044.7,981.1L1046.3,981.2L1048.0,981.1L1049.6,981.2L1051.2,981.1L1052.9,981.2L1054.5,981.1L1056.1,981.1L1057.8,981.2L1059.4,981.2L1061.0,981.2L1062.6,981.1L1064.3,981.1L1065.9,981.2L1067.5,981.1L1069.2,981.1L1070.8,981.2L1072.4,981.1L1074.1,981.1L1075.7,981.2L1077.3,981.2L1078.9,981.2L1080.6,981.2L1082.2,981.2L1083.8,981.1L1085.5,981.2L1087.1,981.2L1088.7,981.2L1090.3,981.2L1092.0,981.1L1093.6,981.1L1095.2,981.2L1096.9,981.2L1098.5,981.2L1100.1,981.2L1101.8,981.2L1103.4,981.1L1105.0,981.1L1106.6,981.0L1108.3,981.2L1109.9,981.2L1111.5,981.1L1113.2,981.2L1114.8,981.1L1116.4,981.2L1118.1,981.2L1119.7,981.2L1121.3,981.0L1122.9,981.1L1124.6,981.2L1126.2,981.2L1127.8,981.1L1129.5,981.1L1131.1,981.1L1132.7,981.2L1134.3,981.2L1136.0,981.1L1137.6,981.2L1139.2,981.1L1140.9,981.1L1142.5,981.1L1144.1,981.1L1145.8,981.2L1147.4,981.1L1149.0,981.1L1150.6,981.2L1152.3,981.2L1153.9,981.1L1155.5,981.0L1157.2,981.2L1158.8,981.1L1160.4,981.1L1162.1,981.1L1163.7,981.1L1165.3,981.2L1166.9,981.2L1168.6,981.1L1170.2,981.1L1171.8,981.2L1173.5,981.1L1175.1,981.1L1176.7,981.1L1178.3,981.2L1180.0,981.2L1181.6,981.2L1183.2,981.1L1184.9,981.2L1186.5,981.2L1188.1,981.1L1189.8,981.2L1191.4,981.1L1193.0,981.2L1194.6,981.1L1196.3,981.1L1197.9,981.2L1199.5,981.1L1201.2,981.2L1202.8,981.0L1204.4,981.2L1206.1,981.1L1207.7,981.2L1209.3,981.2L1210.9,981.2L1212.6,981.1L1214.2,981.2L1215.8,981.2L1217.5,981.1L1219.1,981.2L1220.7,981.0L1222.4,981.2L1224.0,981.1L1225.6,981.2L1227.2,981.0L1228.9,981.2L1230.5,981.1L1232.1,981.1L1233.8,981.2L1235.4,981.1L1237.0,981.2L1238.6,981.2L1240.3,981.2L1241.9,981.1L1243.5,981.1L1245.2,981.2L1246.8,981.1L1248.4,981.1L1250.1,981.2L1251.7,981.2L1253.3,981.1L1254.9,981.1L1256.6,981.0L1258.2,981.0L1259.8,981.2L1261.5,981.1L1263.1,981.2L1264.7,981.2L1266.4,981.1L1268.0,981.0L1269.6,981.2L1271.2,981.1L1272.9,981.1L1274.5,981.2L1276.1,981.0L1277.8,981.2L1279.4,981.2L1281.0,981.1L1282.6,981.2L1284.3,981.2L1285.9,981.2L1287.5,981.1L1289.2,981.2L1290.8,981.2L1292.4,981.2L1294.1,981.2L1295.7,981.2L1297.3,981.2L1298.9,981.1L1300.6,981.2L1302.2,981.1L1303.8,981.1L1305.5,981.2L1307.1,981.2L1308.7,981.1L1310.4,981.2L1312.0,981.1L1313.6,981.2L1315.2,981.0L1316.9,981.1L1318.5,981.1L1320.1,981.0L1321.8,981.2L1323.4,981.2L1325.0,981.1L1326.6,981.1L1328.3,981.1L1329.9,981.2L1331.5,981.1L1333.2,981.2L1334.8,981.1L1336.4,981.2L1338.1,981.1L1339.7,981.2L1341.3,981.2L1342.9,981.1L1344.6,981.2L1346.2,981.1L1347.8,981.1L1349.5,981.2L1351.1,981.2L1352.7,981.1L1354.4,981.1L1356.0,981.1L1357.6,981.2L1359.2,981.1L1360.9,981.0L1362.5,981.2L1364.1,981.0L1365.8,981.0L1367.4,981.0L1369.0,981.0L1370.7,981.2L1372.3,981.1L1373.9,981.1L1375.5,981.2L1377.2,981.0L1378.8,981.1L1380.4,981.1L1382.1,981.1L1383.7,981.2L1385.3,981.0L1386.9,981.2L1388.6,981.2L1390.2,981.1L1391.8,981.2L1393.5,981.1L1395.1,981.1L1396.7,981.2L1398.4,981.1L1400.0,981.2L1401.6,981.1L1403.2,981.1L1404.9,981.1L1406.5,981.2L1408.1,981.2L1409.8,981.0L1411.4,981.1L1413.0,981.1L1414.7,981.1L1416.3,981.1L1417.9,981.1L1419.5,981.1L1421.2,981.1L1422.8,981.1L1424.4,981.1L1426.1,981.2L1427.7,981.0L1429.3,981.0L1430.9,981.1L1432.6,981.0L1434.2,981.1L1435.8,981.0L1437.5,981.2L1439.1,981.1L1440.7,981.1L1442.4,981.0L1444.0,981.0L1445.6,981.0L1447.2,981.2L1448.9,981.1L1450.5,981.1L1452.1,981.2L1453.8,981.1L1455.4,981.0L1457.0,981.0L1458.7,981.0L1460.3,981.1L1461.9,981.2L1463.5,981.2L1465.2,981.1L1466.8,981.2L1468.4,981.2L1470.1,981.2L1471.7,981.2L1473.3,981.1L1474.9,981.2L1476.6,981.0L1478.2,981.2L1479.8,981.0L1481.5,981.2L1483.1,981.2L1484.7,981.1L1486.4,981.2L1488.0,981.1L1489.6,981.1L1491.2,981.2L1492.9,981.0L1494.5,981.1L1496.1,981.2L1497.8,981.0L1499.4,981.2L1501.0,981.2L1502.7,981.2L1504.3,981.2L1505.9,981.1L1507.5,981.1L1509.2,981.1L1510.8,981.2L1512.4,981.2L1514.1,981.0L1515.7,981.1L1517.3,981.0L1519.0,981.0L1520.6,981.2L1522.2,981.0L1523.8,981.2L1525.5,981.1L1527.1,981.0L1528.7,981.1L1530.4,981.1L1532.0,981.0L1533.6,981.2L1535.2,981.1L1536.9,981.2L1538.5,981.1L1540.1,981.2L1541.8,981.1L1543.4,981.1L1545.0,981.0L1546.7,981.1L1548.3,981.1L1549.9,981.0L1551.5,981.0L1553.2,981.1L1554.8,981.2L1556.4,981.0L1558.1,981.1L1559.7,981.2L1561.3,981.1L1563.0,981.1L1564.6,981.0L1566.2,981.1L1567.8,981.1L1569.5,981.0L1571.1,981.0L1572.7,981.1L1574.4,981.1L1576.0,981.0L1577.6,981.2L1579.2,981.2L1580.9,981.1L1582.5,981.0L1584.1,981.2L1585.8,981.1L1587.4,981.0L1589.0,981.2L1590.7,981.2L1592.3,981.1L1593.9,981.1L1595.5,981.0L1597.2,981.0L1598.8,981.1L1600.4,981.0L1602.1,981.1L1603.7,981.2L1605.3,981.0L1607.0,981.2L1608.6,981.2L1610.2,981.1L1611.8,981.2L1613.5,981.1L1615.1,981.1L1616.7,981.0L1618.4,981.1L1620.0,981.0L1621.6,981.0L1623.2,981.1L1624.9,981.2L1626.5,981.2L1628.1,981.1L1629.8,981.1L1631.4,981.1L1633.0,981.1L1634.7,981.1L1636.3,981.1L1637.9,981.0L1639.5,981.2L1641.2,981.1L1642.8,981.2L1644.4,981.2L1646.1,981.2L1647.7,981.1L1649.3,981.0L1651.0,981.1L1652.6,981.0L1654.2,981.0L1655.8,981.1L1657.5,981.1L1659.1,981.2L1660.7,981.1L1662.4,981.2L1664.0,981.1L1665.6,981.2L1667.2,981.1L1668.9,981.1L1670.5,981.1L1672.1,981.1L1673.8,981.2L1675.4,981.0L1677.0,981.0L1678.7,981.1L1680.3,981.2L1681.9,981.1L1683.5,981.0L1685.2,981.0L1686.8,981.0L1688.4,981.2L1690.1,981.0L1691.7,981.1L1693.3,981.2L1695.0,981.0L1696.6,981.0L1698.2,981.0L1699.8,981.2L1701.5,981.1L1703.1,981.1L1704.7,981.1L1706.4,981.0L1708.0,981.1L1709.6,981.1L1711.3,981.1L1712.9,981.0L1714.5,981.1L1716.1,981.0L1717.8,981.1L1719.4,981.0L1721.0,981.2L1722.7,981.1L1724.3,981.1L1725.9,981.0L1727.5,981.0L1729.2,981.1L1730.8,981.1L1732.4,981.1L1734.1,981.1L1735.7,981.0L1737.3,981.0L1739.0,981.2L1740.6,981.1L1742.2,981.0L1743.8,981.2L1745.5,981.0L1747.1,981.2L1748.7,981.1L1750.4,981.0L1752.0,981.2L1753.6,981.1L1755.3,981.2L1756.9,981.0L1758.5,981.1L1760.1,981.1L1761.8,981.1L1763.4,981.1L1765.0,981.0L1766.7,981.0L1768.3,981.0L1769.9,981.2L1771.5,981.1L1773.2,981.1L1774.8,981.1L1776.4,981.0L1778.1,981.2L1779.7,981.1L1781.3,981.0L1783.0,981.0L1784.6,981.2L1786.2,981.2L1787.8,981.1L1789.5,981.0L1791.1,981.2L1792.7,981.0L1794.4,981.1L1796.0,981.1L1797.6,981.0L1799.3,981.2L1800.9,981.1L1802.5,981.2L1804.1,981.2L1805.8,981.1L1807.4,981.0L1809.0,981.1L1810.7,981.2L1812.3,981.0L1813.9,981.1L1815.5,981.2L1817.2,981.0L1818.8,981.0L1820.4,981.2L1822.1,981.0L1823.7,981.0L1825.3,981.2L1827.0,981.2L1828.6,981.0L1830.2,981.0L1831.8,981.2L1833.5,981.0L1835.1,981.0L1836.7,981.1L1838.4,981.0L1840.0,981.0L1841.6,981.1L1843.3,981.0L1844.9,981.0L1846.5,981.1L1848.1,981.0L1849.8,981.0L1851.4,981.0L1853.0,981.1L1854.7,981.1L1856.3,981.2L1857.9,981.1L1859.6,981.2L1861.2,981.0L1862.8,981.0L1864.4,981.1L1864.4,981.5L445.0,981.5Z" fill="#FCC700" fill-opacity="0.2" stroke="none"/>
<path d="M445.0,981.2L446.6,981.2L448.3,981.2L449.9,981.2L451.5,981.2L453.1,981.2L454.8,981.2L456.4,981.2L458.0,981.2L459.7,981.2L461.3,981.2L462.9,981.2L464.6,981.2L466.2,981.2L467.8,981.1L469.4,981.2L471.1,981.1L472.7,981.2L474.3,981.2L476.0,981.1L477.6,981.2L479.2,981.2L480.9,981.2L482.5,981.2L484.1,981.1L485.7,981.1L487.4,981.2L489.0,981.1L490.6,981.2L492.3,981.2L493.9,981.2L495.5,981.2L497.1,981.2L498.8,981.1L500.4,981.1L502.0,981.2L503.7,981.2L505.3,981.1L506.9,981.2L508.6,981.2L510.2,981.2L511.8,981.2L513.4,981.2L515.1,981.3L516.7,981.2L518.3,981.3L520.0,981.1L521.6,981.2L523.2,981.2L524.9,981.1L526.5,981.1L528.1,981.2L529.7,981.2L531.4,981.3L533.0,981.1L534.6,981.1L536.3,981.2L537.9,981.2L539.5,981.2L541.2,981.2L542.8,981.1L544.4,981.1L546.0,981.1L547.7,981.1L549.3,981.2L550.9,981.2L552.6,981.2L554.2,981.1L555.8,981.2L557.4,981.2L559.1,981.2L560.7,981.1L562.3,981.1L564.0,981.2L565.6,981.1L567.2,981.1L568.9,981.2L570.5,981.2L572.1,981.1L573.7,981.2L575.4,981.3L577.0,981.1L578.6,981.2L580.3,981.2L581.9,981.2L583.5,981.2L585.2,981.3L586.8,981.2L588.4,981.2L590.0,981.3L591.7,981.2L593.3,981.1L594.9,981.2L596.6,981.1L598.2,981.2L599.8,981.2L601.4,981.3L603.1,981.1L604.7,981.2L606.3,981.2L608.0,981.2L609.6,981.1L611.2,981.1L612.9,981.2L614.5,981.2L616.1,981.2L617.7,981.2L619.4,981.3L621.0,981.2L622.6,981.2L624.3,981.2L625.9,981.2L627.5,981.3L629.2,981.2L630.8,981.2L632.4,981.2L634.0,981.2L635.7,981.1L637.3,981.3L638.9,981.1L640.6,981.2L642.2,981.1L643.8,981.2L645.4,981.2L647.1,981.2L648.7,981.3L650.3,981.1L652.0,981.1L653.6,981.2L655.2,981.1L656.9,981.2L658.5,981.1L660.1,981.3L661.7,981.2L663.4,981.2L665.0,981.2L666.6,981.1L668.3,981.1L669.9,981.2L671.5,981.2L673.2,981.1L674.8,981.3L676.4,981.2L678.0,981.1L679.7,981.2L681.3,981.1L682.9,981.3L684.6,981.2L686.2,981.2L687.8,981.3L689.5,981.3L691.1,981.3L692.7,981.2L694.3,981.2L696.0,981.2L697.6,981.2L699.2,981.1L700.9,981.2L702.5,981.1L704.1,981.2L705.7,981.2L707.4,981.2L709.0,981.2L710.6,981.1L712.3,981.2L713.9,981.1L715.5,981.2L717.2,981.2L718.8,981.1L720.4,981.2L722.0,981.2L723.7,981.3L725.3,981.1L726.9,981.2L728.6,981.2L730.2,981.1L731.8,981.2L733.5,981.2L735.1,981.2L736.7,981.1L738.3,981.2L740.0,981.2L741.6,981.1L743.2,981.2L744.9,981.2L746.5,981.2L748.1,981.1L749.7,981.1L751.4,981.2L753.0,981.2L754.6,981.2L756.3,981.1L757.9,981.2L759.5,981.1L761.2,981.2L762.8,981.1L764.4,981.3L766.0,981.2L767.7,981.1L769.3,981.1L770.9,981.1L772.6,981.2L774.2,981.2L775.8,981.2L777.5,981.2L779.1,981.1L780.7,981.1L782.3,981.2L784.0,981.1L785.6,981.2L787.2,981.1L788.9,981.2L790.5,981.2L792.1,981.2L793.7,981.2L795.4,981.2L797.0,981.2L798.6,981.1L800.3,981.2L801.9,981.2L803.5,981.1L805.2,981.2L806.8,981.1L808.4,981.1L810.0,981.2L811.7,981.2L813.3,981.2L814.9,981.1L816.6,981.2L818.2,981.1L819.8,981.2L821.5,981.2L823.1,981.1L824.7,981.1L826.3,981.1L828.0,981.2L829.6,981.1L831.2,981.3L832.9,981.1L834.5,981.1L836.1,981.1L837.7,981.2L839.4,981.1L841.0,981.2L842.6,981.1L844.3,981.2L845.9,981.3L847.5,981.1L849.2,981.2L850.8,981.1L852.4,981.1L854.0,981.2L855.7,981.1L857.3,981.2L858.9,981.1L860.6,981.2L862.2,981.3L863.8,981.2L865.5,981.2L867.1,981.2L868.7,981.1L870.3,981.2L872.0,981.2L873.6,981.2L875.2,981.2L876.9,981.1L878.5,981.1L880.1,981.1L881.8,981.1L883.4,981.2L885.0,981.1L886.6,981.2L888.3,981.1L889.9,981.1L891.5,981.1L893.2,981.2L894.8,981.2L896.4,981.1L898.0,981.1L899.7,981.1L901.3,981.1L902.9,981.2L904.6,981.1L906.2,981.2L907.8,981.1L909.5,981.2L911.1,981.2L912.7,981.1L914.3,981.2L916.0,981.1L917.6,981.1L919.2,981.2L920.9,981.1L922.5,981.2L924.1,981.2L925.8,981.2L927.4,981.1L929.0,981.2L930.6,981.2L932.3,981.2L933.9,981.3L935.5,981.1L937.2,981.1L938.8,981.1L940.4,981.2L942.0,981.2L943.7,981.2L945.3,981.1L946.9,981.1L948.6,981.2L950.2,981.1L951.8,981.2L953.5,981.1L955.1,981.2L956.7,981.2L958.3,981.1L960.0,981.2L961.6,981.1L963.2,981.2L964.9,981.1L966.5,981.2L968.1,981.2L969.8,981.1L971.4,981.2L973.0,981.2L974.6,981.1L976.3,981.2L977.9,981.2L979.5,981.3L981.2,981.1L982.8,981.2L984.4,981.1L986.0,981.1L987.7,981.1L989.3,981.1L990.9,981.2L992.6,981.1L994.2,981.2L995.8,981.1L997.5,981.1L999.1,981.1L1000.7,981.1L1002.3,981.2L1004.0,981.1L1005.6,981.1L1007.2,981.2L1008.9,981.2L1010.5,981.2L1012.1,981.1L1013.8,981.2L1015.4,981.2L1017.0,981.1L1018.6,981.2L1020.3,981.2L1021.9,981.2L1023.5,981.1L1025.2,981.2L1026.8,981.2L1028.4,981.1L1030.1,981.2L1031.7,981.1L1033.3,981.1L1034.9,981.3L1036.6,981.1L1038.2,981.2L1039.8,981.2L1041.5,981.1L1043.1,981.1L1044.7,981.1L1046.3,981.2L1048.0,981.1L1049.6,981.2L1051.2,981.1L1052.9,981.2L1054.5,981.1L1056.1,981.1L1057.8,981.2L1059.4,981.2L1061.0,981.2L1062.6,981.1L1064.3,981.1L1065.9,981.2L1067.5,981.1L1069.2,981.1L1070.8,981.2L1072.4,981.1L1074.1,981.1L1075.7,981.2L1077.3,981.2L1078.9,981.2L1080.6,981.2L1082.2,981.2L1083.8,981.1L1085.5,981.2L1087.1,981.2L1088.7,981.2L1090.3,981.2L1092.0,981.1L1093.6,981.1L1095.2,981.2L1096.9,981.2L1098.5,981.2L1100.1,981.2L1101.8,981.2L1103.4,981.1L1105.0,981.1L1106.6,981.0L1108.3,981.2L1109.9,981.2L1111.5,981.1L1113.2,981.2L1114.8,981.1L1116.4,981.2L1118.1,981.2L1119.7,981.2L1121.3,981.0L1122.9,981.1L1124.6,981.2L1126.2,981.2L1127.8,981.1L1129.5,981.1L1131.1,981.1L1132.7,981.2L1134.3,981.2L1136.0,981.1L1137.6,981.2L1139.2,981.1L1140.9,981.1L1142.5,981.1L1144.1,981.1L1145.8,981.2L1147.4,981.1L1149.0,981.1L1150.6,981.2L1152.3,981.2L1153.9,981.1L1155.5,981.0L1157.2,981.2L1158.8,981.1L1160.4,981.1L1162.1,981.1L1163.7,981.1L1165.3,981.2L1166.9,981.2L1168.6,981.1L1170.2,981.1L1171.8,981.2L1173.5,981.1L1175.1,981.1L1176.7,981.1L1178.3,981.2L1180.0,981.2L1181.6,981.2L1183.2,981.1L1184.9,981.2L1186.5,981.2L1188.1,981.1L1189.8,981.2L1191.4,981.1L1193.0,981.2L1194.6,981.1L1196.3,981.1L1197.9,981.2L1199.5,981.1L1201.2,981.2L1202.8,981.0L1204.4,981.2L1206.1,981.1L1207.7,981.2L1209.3,981.2L1210.9,981.2L1212.6,981.1L1214.2,981.2L1215.8,981.2L1217.5,981.1L1219.1,981.2L1220.7,981.0L1222.4,981.2L1224.0,981.1L1225.6,981.2L1227.2,981.0L1228.9,981.2L1230.5,981.1L1232.1,981.1L1233.8,981.2L1235.4,981.1L1237.0,981.2L1238.6,981.2L1240.3,981.2L1241.9,981.1L1243.5,981.1L1245.2,981.2L1246.8,981.1L1248.4,981.1L1250.1,981.2L1251.7,981.2L1253.3,981.1L1254.9,981.1L1256.6,981.0L1258.2,981.0L1259.8,981.2L1261.5,981.1L1263.1,981.2L1264.7,981.2L1266.4,981.1L1268.0,981.0L1269.6,981.2L1271.2,981.1L1272.9,981.1L1274.5,981.2L1276.1,981.0L1277.8,981.2L1279.4,981.2L1281.0,981.1L1282.6,981.2L1284.3,981.2L1285.9,981.2L1287.5,981.1L1289.2,981.2L1290.8,981.2L1292.4,981.2L1294.1,981.2L1295.7,981.2L1297.3,981.2L1298.9,981.1L1300.6,981.2L1302.2,981.1L1303.8,981.1L1305.5,981.2L1307.1,981.2L1308.7,981.1L1310.4,981.2L1312.0,981.1L1313.6,981.2L1315.2,981.0L1316.9,981.1L1318.5,981.1L1320.1,981.0L1321.8,981.2L1323.4,981.2L1325.0,981.1L1326.6,981.1L1328.3,981.1L1329.9,981.2L1331.5,981.1L1333.2,981.2L1334.8,981.1L1336.4,981.2L1338.1,981.1L1339.7,981.2L1341.3,981.2L1342.9,981.1L1344.6,981.2L1346.2,981.1L1347.8,981.1L1349.5,981.2L1351.1,981.2L1352.7,981.1L1354.4,981.1L1356.0,981.1L1357.6,981.2L1359.2,981.1L1360.9,981.0L1362.5,981.2L1364.1,981.0L1365.8,981.0L1367.4,981.0L1369.0,981.0L1370.7,981.2L1372.3,981.1L1373.9,981.1L1375.5,981.2L1377.2,981.0L1378.8,981.1L1380.4,981.1L1382.1,981.1L1383.7,981.2L1385.3,981.0L1386.9,981.2L1388.6,981.2L1390.2,981.1L1391.8,981.2L1393.5,981.1L1395.1,981.1L1396.7,981.2L1398.4,981.1L1400.0,981.2L1401.6,981.1L1403.2,981.1L1404.9,981.1L1406.5,981.2L1408.1,981.2L1409.8,981.0L1411.4,981.1L1413.0,981.1L1414.7,981.1L1416.3,981.1L1417.9,981.1L1419.5,981.1L1421.2,981.1L1422.8,981.1L1424.4,981.1L1426.1,981.2L1427.7,981.0L1429.3,981.0L1430.9,981.1L1432.6,981.0L1434.2,981.1L1435.8,981.0L1437.5,981.2L1439.1,981.1L1440.7,981.1L1442.4,981.0L1444.0,981.0L1445.6,981.0L1447.2,981.2L1448.9,981.1L1450.5,981.1L1452.1,981.2L1453.8,981.1L1455.4,981.0L1457.0,981.0L1458.7,981.0L1460.3,981.1L1461.9,981.2L1463.5,981.2L1465.2,981.1L1466.8,981.2L1468.4,981.2L1470.1,981.2L1471.7,981.2L1473.3,981.1L1474.9,981.2L1476.6,981.0L1478.2,981.2L1479.8,981.0L1481.5,981.2L1483.1,981.2L1484.7,981.1L1486.4,981.2L1488.0,981.1L1489.6,981.1L1491.2,981.2L1492.9,981.0L1494.5,981.1L1496.1,981.2L1497.8,981.0L1499.4,981.2L1501.0,981.2L1502.7,981.2L1504.3,981.2L1505.9,981.1L1507.5,981.1L1509.2,981.1L1510.8,981.2L1512.4,981.2L1514.1,981.0L1515.7,981.1L1517.3,981.0L1519.0,981.0L1520.6,981.2L1522.2,981.0L1523.8,981.2L1525.5,981.1L1527.1,981.0L1528.7,981.1L1530.4,981.1L1532.0,981.0L1533.6,981.2L1535.2,981.1L1536.9,981.2L1538.5,981.1L1540.1,981.2L1541.8,981.1L1543.4,981.1L1545.0,981.0L1546.7,981.1L1548.3,981.1L1549.9,981.0L1551.5,981.0L1553.2,981.1L1554.8,981.2L1556.4,981.0L1558.1,981.1L1559.7,981.2L1561.3,981.1L1563.0,981.1L1564.6,981.0L1566.2,981.1L1567.8,981.1L1569.5,981.0L1571.1,981.0L1572.7,981.1L1574.4,981.1L1576.0,981.0L1577.6,981.2L1579.2,981.2L1580.9,981.1L1582.5,981.0L1584.1,981.2L1585.8,981.1L1587.4,981.0L1589.0,981.2L1590.7,981.2L1592.3,981.1L1593.9,981.1L1595.5,981.0L1597.2,981.0L1598.8,981.1L1600.4,981.0L1602.1,981.1L1603.7,981.2L1605.3,981.0L1607.0,981.2L1608.6,981.2L1610.2,981.1L1611.8,981.2L1613.5,981.1L1615.1,981.1L1616.7,981.0L1618.4,981.1L1620.0,981.0L1621.6,981.0L1623.2,981.1L1624.9,981.2L1626.5,981.2L1628.1,981.1L1629.8,981.1L1631.4,981.1L1633.0,981.1L1634.7,981.1L1636.3,981.1L1637.9,981.0L1639.5,981.2L1641.2,981.1L1642.8,981.2L1644.4,981.2L1646.1,981.2L1647.7,981.1L1649.3,981.0L1651.0,981.1L1652.6,981.0L1654.2,981.0L1655.8,981.1L1657.5,981.1L1659.1,981.2L1660.7,981.1L1662.4,981.2L1664.0,981.1L1665.6,981.2L1667.2,981.1L1668.9,981.1L1670.5,981.1L1672.1,981.1L1673.8,981.2L1675.4,981.0L1677.0,981.0L1678.7,981.1L1680.3,981.2L1681.9,981.1L1683.5,981.0L1685.2,981.0L1686.8,981.0L1688.4,981.2L1690.1,981.0L1691.7,981.1L1693.3,981.2L1695.0,981.0L1696.6,981.0L1698.2,981.0L1699.8,981.2L1701.5,981.1L1703.1,981.1L1704.7,981.1L1706.4,981.0L1708.0,981.1L1709.6,981.1L1711.3,981.1L1712.9,981.0L1714.5,981.1L1716.1,981.0L1717.8,981.1L1719.4,981.0L1721.0,981.2L1722.7,981.1L1724.3,981.1L1725.9,981.0L1727.5,981.0L1729.2,981.1L1730.8,981.1L1732.4,981.1L1734.1,981.1L1735.7,981.0L1737.3,981.0L1739.0,981.2L1740.6,981.1L1742.2,981.0L1743.8,981.2L1745.5,981.0L1747.1,981.2L1748.7,981.1L1750.4,981.0L1752.0,981.2L1753.6,981.1L1755.3,981.2L1756.9,981.0L1758.5,981.1L1760.1,981.1L1761.8,981.1L1763.4,981.1L1765.0,981.0L1766.7,981.0L1768.3,981.0L1769.9,981.2L1771.5,981.1L1773.2,981.1L1774.8,981.1L1776.4,981.0L1778.1,981.2L1779.7,981.1L1781.3,981.0L1783.0,981.0L1784.6,981.2L1786.2,981.2L1787.8,981.1L1789.5,981.0L1791.1,981.2L1792.7,981.0L1794.4,981.1L1796.0,981.1L1797.6,981.0L1799.3,981.2L1800.9,981.1L1802.5,981.2L1804.1,981.2L1805.8,981.1L1807.4,981.0L1809.0,981.1L1810.7,981.2L1812.3,981.0L1813.9,981.1L1815.5,981.2L1817.2,981.0L1818.8,981.0L1820.4,981.2L1822.1,981.0L1823.7,981.0L1825.3,981.2L1827.0,981.2L1828.6,981.0L1830.2,981.0L1831.8,981.2L1833.5,981.0L1835.1,981.0L1836.7,981.1L1838.4,981.0L1840.0,981.0L1841.6,981.1L1843.3,981.0L1844.9,981.0L1846.5,981.1L1848.1,981.0L1849.8,981.0L1851.4,981.0L1853.0,981.1L1854.7,981.1L1856.3,981.2L1857.9,981.1L1859.6,981.2L1861.2,981.0L1862.8,981.0L1864.4,981.1" stroke="#FCC700"/>
</g>
<path d="M450 981.2h4M491 981.2h4M522 981.2h6M565 981.2h3M607 981.2h6M633 981.2h4M656 981.2h6M695 981.2h6M727 981.2h4M751 981.2h4M805 981.2h6M854 981.2h3M875 981.2h3M903 981.2h3M955 981.2h5M990 981.2h6M1037 981.2h6M1069 981.2h6M1128 981.2h4M1182 981.2h3M1198 981.2h6M1222 981.2h6M1272 981.2h5M1305 981.2h6M1345 981.2h6M1386 981.2h5M1432 981.2h3M1485 981.2h4M1531 981.2h5M1590 981.2h3M1636 981.2h4M1679 981.2h5M1707 981.2h3M1743 981.2h6M1761 981.2h3M1794 981.2h4M1809 981.2h6M1858 981.2h3" stroke="#A868B7" stroke-width="2" fill="none"/>
<path d="M1210.0 184H1217.5M1228.0 184H1235.5" stroke="#1FA8C9" stroke-width="2"/><circle cx="1222.8" cy="184" r="5.2" fill="#fff" stroke="#1FA8C9" stroke-width="2"/>
<path d="M1270.1 184H1277.6M1288.1 184H1295.6" stroke="#454E7C" stroke-width="2"/><circle cx="1282.9" cy="184" r="5.2" fill="#fff" stroke="#454E7C" stroke-width="2"/>
<path d="M1330.2 184H1337.7M1348.2 184H1355.7" stroke="#5AC189" stroke-width="2"/><circle cx="1343.0" cy="184" r="5.2" fill="#fff" stroke="#5AC189" stroke-width="2"/>
<path d="M1390.3 184H1397.8M1408.3 184H1415.8" stroke="#FF7F44" stroke-width="2"/><circle cx="1403.1" cy="184" r="5.2" fill="#fff" stroke="#FF7F44" stroke-width="2"/>
<path d="M1450.4 184H1457.9M1468.4 184H1475.9" stroke="#666666" stroke-width="2"/><circle cx="1463.2" cy="184" r="5.2" fill="#fff" stroke="#666666" stroke-width="2"/>
<path d="M1510.5 184H1518.0M1528.5 184H1536.0" stroke="#E04355" stroke-width="2"/><circle cx="1523.3" cy="184" r="5.2" fill="#fff" stroke="#E04355" stroke-width="2"/>
<path d="M1570.6 184H1578.1M1588.6 184H1596.1" stroke="#FCC700" stroke-width="2"/><circle cx="1583.4" cy="184" r="5.2" fill="#fff" stroke="#FCC700" stroke-width="2"/>
<path d="M1630.7 184H1638.2M1648.7 184H1656.2" stroke="#A868B7" stroke-width="2"/><circle cx="1643.5" cy="184" r="5.2" fill="#fff" stroke="#A868B7" stroke-width="2"/>
<path d="M1690.8 184H1698.3M1708.8 184H1716.3" stroke="#3CCCCB" stroke-width="2"/><circle cx="1703.6" cy="184" r="5.2" fill="#fff" stroke="#3CCCCB" stroke-width="2"/>
<path d="M1750.9 184H1758.4M1768.9 184H1776.4" stroke="#A38F79" stroke-width="2"/><circle cx="1763.7" cy="184" r="5.2" fill="#fff" stroke="#A38F79" stroke-width="2"/>
</svg>
<div class="abs" style="left:1817.500px;top:174.300px;width:25.500px;height:19.200px;border:1px solid #777;border-radius:9.500px"></div>
<div class="abs" style="left:1850.400px;top:174.300px;width:29.200px;height:19.200px;border:1px solid #777;border-radius:9.500px"></div>
<div class="abs" style="left:365px;top:1078px;width:1535px;height:1px;background:#ececec"></div>
<svg class="abs" style="left:1882.200px;top:1048.400px" width="11.500" height="7.200" viewBox="0 0 11.500 7.200" fill="none" stroke="#555" stroke-width="1.800" stroke-linecap="round"><path d="M1.100 1.200L5.750 5.700 10.400 1.200"/></svg>
<div class="t" style="left:160.14px;top:16px;font-size:14.49px;line-height:14.49px;letter-spacing:0.051px;color:#333;transform:scaleX(1.060);transform-origin:0 0;">Dashboards</div>
<div class="t" style="left:275.10px;top:16px;font-size:14.49px;line-height:14.49px;letter-spacing:0.096px;color:#1FA8C9;transform:scaleX(1.060);transform-origin:0 0;">Charts</div>
<div class="t" style="left:352.84px;top:16px;font-size:14.49px;line-height:14.49px;letter-spacing:0.209px;color:#333;transform:scaleX(1.060);transform-origin:0 0;">Datasets</div>
<div class="t" style="left:442.80px;top:16px;font-size:14.49px;line-height:14.49px;letter-spacing:0.000px;color:#333;transform:scaleX(0.965);transform-origin:0 0;">SQL</div>
<div class="t" style="left:1831.10px;top:16px;font-size:14.49px;line-height:14.49px;letter-spacing:0.257px;color:#333;transform:scaleX(1.060);transform-origin:0 0;">Settings</div>
<div class="t" style="left:12.40px;top:74px;font-size:21.73px;line-height:21.73px;letter-spacing:0.614px;color:#323232;font-weight:700;transform:scaleX(1.100);transform-origin:0 0;-webkit-text-stroke:0.46px #323232;">Number of earthquakes by magnitude</div>
<div class="t" style="left:540.70px;top:79px;font-size:12.42px;line-height:12.42px;letter-spacing:0.134px;color:#666;transform:scaleX(1.060);transform-origin:0 0;">Added to 1 dashboard</div>
<div class="t" style="left:713.30px;top:79px;font-size:12.42px;line-height:12.42px;letter-spacing:0.093px;color:#666;transform:scaleX(1.060);transform-origin:0 0;">Superset Admin</div>
<div class="t" style="left:848.90px;top:79px;font-size:12.42px;line-height:12.42px;letter-spacing:0.248px;color:#666;transform:scaleX(1.060);transform-origin:0 0;">42 minutes ago</div>
<div class="t" style="left:1808.20px;top:78px;font-size:12.42px;line-height:12.42px;letter-spacing:0.000px;color:#156378;font-weight:700;transform:scaleX(1.056);transform-origin:0 0;-webkit-text-stroke:0.26px #156378;">SAVE</div>
<div class="t" style="left:66.31px;top:133px;font-size:12.42px;line-height:12.42px;letter-spacing:0.000px;color:#333;transform:scaleX(0.991);transform-origin:0 0;">DATA</div>
<div class="t" style="left:206.80px;top:133px;font-size:12.42px;line-height:12.42px;letter-spacing:0.000px;color:#333;transform:scaleX(0.974);transform-origin:0 0;">CUSTOMIZE</div>
<div class="t" style="left:138.40px;top:194px;font-size:12.42px;line-height:12.42px;letter-spacing:0.000px;color:#666;font-weight:700;transform:scaleX(1.044);transform-origin:0 0;-webkit-text-stroke:0.26px #666;">AREA CHART</div>
<div class="t" style="left:277.40px;top:193px;font-size:14.49px;line-height:14.49px;letter-spacing:0.838px;color:#666;transform:scaleX(1.060);transform-origin:0 0;">4k</div>
<div class="t" style="left:244.60px;top:228px;font-size:12.42px;line-height:12.42px;letter-spacing:0.202px;color:#666;transform:scaleX(1.060);transform-origin:0 0;">View all charts</div>
<div class="t" style="left:44.60px;top:274px;font-size:14.49px;line-height:14.49px;letter-spacing:0.000px;color:#333;transform:scaleX(1.051);transform-origin:0 0;">Query</div>
<div class="t" style="left:44.00px;top:318px;font-size:12.42px;line-height:12.42px;letter-spacing:0.000px;color:#666;transform:scaleX(0.957);transform-origin:0 0;">X-AXIS</div>
<div class="t" style="left:43.00px;top:389px;font-size:12.42px;line-height:12.42px;letter-spacing:0.000px;color:#666;transform:scaleX(0.987);transform-origin:0 0;">TIME GRAIN</div>
<div class="t" style="left:44.05px;top:458px;font-size:12.42px;line-height:12.42px;letter-spacing:-0.053px;color:#666;transform:scaleX(0.950);transform-origin:0 0;">METRICS</div>
<div class="t" style="left:44.03px;top:557px;font-size:12.42px;line-height:12.42px;letter-spacing:0.000px;color:#666;transform:scaleX(0.974);transform-origin:0 0;">DIMENSIONS</div>
<div class="t" style="left:44.00px;top:656px;font-size:12.42px;line-height:12.42px;letter-spacing:0.000px;color:#666;transform:scaleX(0.980);transform-origin:0 0;">CONTRIBUTION MODE</div>
<div class="t" style="left:44.05px;top:725px;font-size:12.42px;line-height:12.42px;letter-spacing:-0.290px;color:#666;transform:scaleX(0.950);transform-origin:0 0;">FILTERS</div>
<div class="t" style="left:44.00px;top:824px;font-size:12.42px;line-height:12.42px;letter-spacing:0.000px;color:#666;transform:scaleX(0.965);transform-origin:0 0;">SERIES LIMIT</div>
<div class="t" style="left:44.00px;top:892px;font-size:12.42px;line-height:12.42px;letter-spacing:-0.002px;color:#666;transform:scaleX(0.950);transform-origin:0 0;">SORT BY</div>
<div class="t" style="left:44.00px;top:963px;font-size:12.42px;line-height:12.42px;letter-spacing:0.000px;color:#666;transform:scaleX(0.995);transform-origin:0 0;">ROW LIMIT</div>
<div class="t" style="left:106.14px;top:347px;font-size:12.42px;line-height:12.42px;letter-spacing:-0.000px;color:#333;transform:scaleX(1.036);transform-origin:0 0;">__time</div>
<div class="t" style="left:105.30px;top:487px;font-size:12.42px;line-height:12.42px;letter-spacing:-0.000px;color:#333;transform:scaleX(1.009);transform-origin:0 0;">COUNT(*)</div>
<div class="t" style="left:105.30px;top:585px;font-size:12.42px;line-height:12.42px;letter-spacing:0.000px;color:#333;transform:scaleX(1.055);transform-origin:0 0;">mag_rounded</div>
<div class="t" style="left:78.16px;top:753px;font-size:12.42px;line-height:12.42px;letter-spacing:0.141px;color:#333;transform:scaleX(1.060);transform-origin:0 0;">__time (No filter)</div>
<div class="t" style="left:78.14px;top:515px;font-size:12.42px;line-height:12.42px;letter-spacing:0.206px;color:#b2b2b2;transform:scaleX(1.060);transform-origin:0 0;">Drop columns/metrics here or click</div>
<div class="t" style="left:78.14px;top:613px;font-size:12.42px;line-height:12.42px;letter-spacing:0.161px;color:#b2b2b2;transform:scaleX(1.060);transform-origin:0 0;">Drop columns here or click</div>
<div class="t" style="left:78.14px;top:781px;font-size:12.42px;line-height:12.42px;letter-spacing:0.206px;color:#b2b2b2;transform:scaleX(1.060);transform-origin:0 0;">Drop columns/metrics here or click</div>
<div class="t" style="left:78.14px;top:921px;font-size:12.42px;line-height:12.42px;letter-spacing:0.230px;color:#b2b2b2;transform:scaleX(1.060);transform-origin:0 0;">Drop a column/metric here or click</div>
<div class="t" style="left:55.74px;top:415px;font-size:14.49px;line-height:14.49px;letter-spacing:0.107px;color:#333;transform:scaleX(1.060);transform-origin:0 0;">Month</div>
<div class="t" style="left:55.76px;top:681px;font-size:14.49px;line-height:14.49px;letter-spacing:0.000px;color:#333;transform:scaleX(1.040);transform-origin:0 0;">None</div>
<div class="t" style="left:55.76px;top:849px;font-size:14.49px;line-height:14.49px;letter-spacing:0.000px;color:#bfbfbf;transform:scaleX(1.040);transform-origin:0 0;">None</div>
<div class="t" style="left:56.14px;top:989px;font-size:14.49px;line-height:14.49px;letter-spacing:0.248px;color:#333;transform:scaleX(1.060);transform-origin:0 0;">10000</div>
<div class="t" style="left:70.30px;top:1032px;font-size:12.42px;line-height:12.42px;letter-spacing:0.000px;color:#333;transform:scaleX(0.968);transform-origin:0 0;">TRUNCATE METRIC</div>
<div class="t" style="left:137.50px;top:1074px;font-size:12.42px;line-height:12.42px;letter-spacing:0.000px;color:#1985a0;font-weight:700;transform:scaleX(1.050);transform-origin:0 0;-webkit-text-stroke:0.26px #1985a0;">UPDATE CHART</div>
<div class="t" style="left:1711.40px;top:138px;font-size:12.42px;line-height:12.42px;letter-spacing:0.189px;color:#333;transform:scaleX(1.060);transform-origin:0 0;">872 rows</div>
<div class="t" style="left:1795.40px;top:139px;font-size:12.0px;line-height:12.0px;letter-spacing:0.023px;color:#fff;font-family:'Liberation Mono',monospace;">00:00:01.28</div>
<div class="t" style="left:1240.60px;top:178px;font-size:12.42px;line-height:12.42px;letter-spacing:0.029px;color:#333;transform:scaleX(1.060);transform-origin:0 0;">2.0</div>
<div class="t" style="left:1301.10px;top:178px;font-size:12.42px;line-height:12.42px;letter-spacing:0.000px;color:#333;transform:scaleX(1.006);transform-origin:0 0;">1.0</div>
<div class="t" style="left:1361.20px;top:178px;font-size:12.42px;line-height:12.42px;letter-spacing:0.029px;color:#333;transform:scaleX(1.060);transform-origin:0 0;">3.0</div>
<div class="t" style="left:1421.00px;top:178px;font-size:12.42px;line-height:12.42px;letter-spacing:0.029px;color:#333;transform:scaleX(1.060);transform-origin:0 0;">4.0</div>
<div class="t" style="left:1481.40px;top:178px;font-size:12.42px;line-height:12.42px;letter-spacing:0.029px;color:#333;transform:scaleX(1.060);transform-origin:0 0;">5.0</div>
<div class="t" style="left:1541.10px;top:178px;font-size:12.42px;line-height:12.42px;letter-spacing:0.029px;color:#333;transform:scaleX(1.060);transform-origin:0 0;">6.0</div>
<div class="t" style="left:1601.20px;top:178px;font-size:12.42px;line-height:12.42px;letter-spacing:0.029px;color:#333;transform:scaleX(1.060);transform-origin:0 0;">7.0</div>
<div class="t" style="left:1661.30px;top:178px;font-size:12.42px;line-height:12.42px;letter-spacing:0.029px;color:#333;transform:scaleX(1.060);transform-origin:0 0;">8.0</div>
<div class="t" style="left:1721.40px;top:178px;font-size:12.42px;line-height:12.42px;letter-spacing:0.029px;color:#333;transform:scaleX(1.060);transform-origin:0 0;">9.0</div>
<div class="t" style="left:1782.30px;top:178px;font-size:12.42px;line-height:12.42px;letter-spacing:0.000px;color:#333;transform:scaleX(1.035);transform-origin:0 0;">10.0</div>
<div class="t" style="left:1823.23px;top:178px;font-size:12.42px;line-height:12.42px;letter-spacing:0.344px;color:#666;transform:scaleX(1.060);transform-origin:0 0;">All</div>
<div class="t" style="left:1855.58px;top:178px;font-size:12.42px;line-height:12.42px;letter-spacing:0.000px;color:#666;transform:scaleX(1.049);transform-origin:0 0;">Inv</div>
<div class="t" style="left:416.23px;top:203px;font-size:12.42px;line-height:12.42px;letter-spacing:0.000px;color:#6e7079;transform:scaleX(1.023);transform-origin:0 0;">15k</div>
<div class="t" style="left:416.23px;top:357px;font-size:12.42px;line-height:12.42px;letter-spacing:0.000px;color:#6e7079;transform:scaleX(1.023);transform-origin:0 0;">12k</div>
<div class="t" style="left:422.87px;top:511px;font-size:12.42px;line-height:12.42px;letter-spacing:0.000px;color:#6e7079;transform:scaleX(1.053);transform-origin:0 0;">9k</div>
<div class="t" style="left:422.87px;top:667px;font-size:12.42px;line-height:12.42px;letter-spacing:0.000px;color:#6e7079;transform:scaleX(1.053);transform-origin:0 0;">6k</div>
<div class="t" style="left:422.87px;top:821px;font-size:12.42px;line-height:12.42px;letter-spacing:0.000px;color:#6e7079;transform:scaleX(1.053);transform-origin:0 0;">3k</div>
<div class="t" style="left:430.50px;top:975px;font-size:12.42px;line-height:12.42px;letter-spacing:0.000px;color:#6e7079;">0</div>
<div class="t" style="left:431.05px;top:989px;font-size:12.42px;line-height:12.42px;letter-spacing:0.000px;color:#6e7079;transform:scaleX(1.044);transform-origin:0 0;">1950</div>
<div class="t" style="left:665.72px;top:989px;font-size:12.42px;line-height:12.42px;letter-spacing:0.000px;color:#6e7079;transform:scaleX(1.044);transform-origin:0 0;">1962</div>
<div class="t" style="left:900.39px;top:989px;font-size:12.42px;line-height:12.42px;letter-spacing:0.000px;color:#6e7079;transform:scaleX(1.044);transform-origin:0 0;">1974</div>
<div class="t" style="left:1135.06px;top:989px;font-size:12.42px;line-height:12.42px;letter-spacing:0.000px;color:#6e7079;transform:scaleX(1.044);transform-origin:0 0;">1986</div>
<div class="t" style="left:1369.74px;top:989px;font-size:12.42px;line-height:12.42px;letter-spacing:0.000px;color:#6e7079;transform:scaleX(1.044);transform-origin:0 0;">1998</div>
<div class="t" style="left:1603.91px;top:989px;font-size:12.42px;line-height:12.42px;letter-spacing:0.171px;color:#6e7079;transform:scaleX(1.060);transform-origin:0 0;">2010</div>
<div class="t" style="left:1838.58px;top:989px;font-size:12.42px;line-height:12.42px;letter-spacing:0.171px;color:#6e7079;transform:scaleX(1.060);transform-origin:0 0;">2022</div>
<div class="t" style="left:365.15px;top:1052px;font-size:12.42px;line-height:12.42px;letter-spacing:-0.279px;color:#333;transform:scaleX(0.950);transform-origin:0 0;">RESULTS</div>
<div class="t" style="left:449.00px;top:1052px;font-size:12.42px;line-height:12.42px;letter-spacing:-0.090px;color:#333;transform:scaleX(0.950);transform-origin:0 0;">SAMPLES</div>

</body></html>
